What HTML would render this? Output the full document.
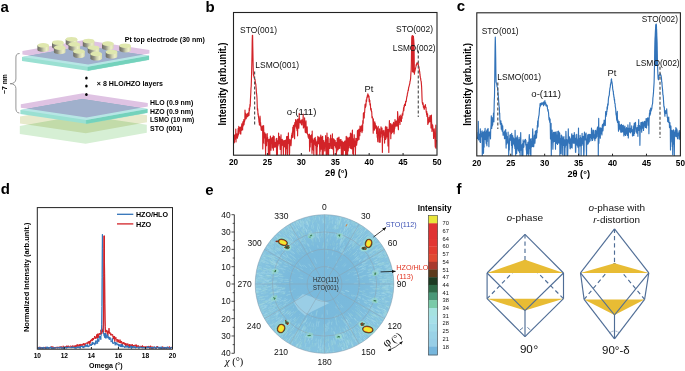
<!DOCTYPE html>
<html><head><meta charset="utf-8"><style>
html,body{margin:0;padding:0;background:#fff;}
svg{display:block;font-family:"Liberation Sans",sans-serif;}
</style></head><body>
<svg width="685" height="371" viewBox="0 0 685 371">
<rect width="685" height="371" fill="#fff"/>
<text x="0.6" y="11.7" font-size="15" font-weight="bold" text-anchor="start" fill="#000" >a</text>
<text x="205.4" y="11.6" font-size="15" font-weight="bold" text-anchor="start" fill="#000" >b</text>
<text x="456.8" y="11.3" font-size="15" font-weight="bold" text-anchor="start" fill="#000" >c</text>
<text x="0.8" y="194.2" font-size="15" font-weight="bold" text-anchor="start" fill="#000" >d</text>
<text x="205.3" y="194.6" font-size="15" font-weight="bold" text-anchor="start" fill="#000" >e</text>
<text x="456.6" y="194.4" font-size="15" font-weight="bold" text-anchor="start" fill="#000" >f</text>
<polygon points="19.80,126.00 81.80,115.00 146.80,124.80 146.80,132.70 85.60,143.70 19.80,133.90" fill="#d6efd4" style="mix-blend-mode:multiply"/>
<polygon points="20.00,116.50 82.00,105.50 147.00,115.30 147.00,122.30 85.80,133.30 20.00,123.50" fill="#e7eacc" style="mix-blend-mode:multiply"/>
<polygon points="20.40,110.10 82.40,99.10 147.40,108.90 147.40,112.80 86.20,123.80 20.40,114.00" fill="#9ae0d2"/>
<polygon points="86.20,119.90 147.40,108.90 147.40,112.80 86.20,123.80" fill="#74d2bc" stroke="#74d2bc" stroke-width="0.2"/>
<polygon points="20.40,110.10 82.40,99.10 147.40,108.90 86.20,119.90" fill="#b7e6e5"/>
<polygon points="20.80,104.20 82.80,93.20 147.80,103.00 147.80,106.50 86.60,117.50 20.80,107.70" fill="#dfc3e3" style="mix-blend-mode:multiply"/>
<polygon points="22.00,57.00 84.00,46.00 149.00,55.80 149.00,59.70 87.80,70.70 22.00,60.90" fill="#9ae0d2"/>
<polygon points="87.80,66.80 149.00,55.80 149.00,59.70 87.80,70.70" fill="#74d2bc" stroke="#74d2bc" stroke-width="0.2"/>
<polygon points="22.00,57.00 84.00,46.00 149.00,55.80 87.80,66.80" fill="#b7e6e5"/>
<polygon points="22.40,51.10 84.40,40.10 149.40,49.90 149.40,53.40 88.20,64.40 22.40,54.60" fill="#dfc3e3" style="mix-blend-mode:multiply"/>
<defs><linearGradient id="cg" x1="0" x2="1" y1="0" y2="0"><stop offset="0" stop-color="#6c6c62"/><stop offset="0.3" stop-color="#8f9084"/><stop offset="0.55" stop-color="#cdd0ae"/><stop offset="0.78" stop-color="#eceec6"/><stop offset="1" stop-color="#d8dcb0"/></linearGradient></defs>
<path d="M65.70,39.20 L65.70,43.60 A5.8,2.3 0 0 0 77.30,43.60 L77.30,39.20 Z" fill="url(#cg)"/>
<ellipse cx="71.5" cy="39.2" rx="5.8" ry="2.3" fill="#dfe7ae"/>
<path d="M82.80,41.00 L82.80,45.40 A5.8,2.3 0 0 0 94.40,45.40 L94.40,41.00 Z" fill="url(#cg)"/>
<ellipse cx="88.6" cy="41.0" rx="5.8" ry="2.3" fill="#dfe7ae"/>
<path d="M52.00,42.50 L52.00,46.90 A5.8,2.3 0 0 0 63.60,46.90 L63.60,42.50 Z" fill="url(#cg)"/>
<ellipse cx="57.8" cy="42.5" rx="5.8" ry="2.3" fill="#dfe7ae"/>
<path d="M102.00,43.60 L102.00,48.00 A5.8,2.3 0 0 0 113.60,48.00 L113.60,43.60 Z" fill="url(#cg)"/>
<ellipse cx="107.8" cy="43.6" rx="5.8" ry="2.3" fill="#dfe7ae"/>
<path d="M68.50,44.30 L68.50,48.70 A5.8,2.3 0 0 0 80.10,48.70 L80.10,44.30 Z" fill="url(#cg)"/>
<ellipse cx="74.3" cy="44.3" rx="5.8" ry="2.3" fill="#dfe7ae"/>
<path d="M37.40,45.30 L37.40,49.70 A5.8,2.3 0 0 0 49.00,49.70 L49.00,45.30 Z" fill="url(#cg)"/>
<ellipse cx="43.2" cy="45.3" rx="5.8" ry="2.3" fill="#dfe7ae"/>
<path d="M119.30,45.70 L119.30,50.10 A5.8,2.3 0 0 0 130.90,50.10 L130.90,45.70 Z" fill="url(#cg)"/>
<ellipse cx="125.1" cy="45.7" rx="5.8" ry="2.3" fill="#dfe7ae"/>
<path d="M53.90,47.60 L53.90,52.00 A5.8,2.3 0 0 0 65.50,52.00 L65.50,47.60 Z" fill="url(#cg)"/>
<ellipse cx="59.7" cy="47.6" rx="5.8" ry="2.3" fill="#dfe7ae"/>
<path d="M87.70,47.70 L87.70,52.10 A5.8,2.3 0 0 0 99.30,52.10 L99.30,47.70 Z" fill="url(#cg)"/>
<ellipse cx="93.5" cy="47.7" rx="5.8" ry="2.3" fill="#dfe7ae"/>
<path d="M73.20,51.40 L73.20,55.80 A5.8,2.3 0 0 0 84.80,55.80 L84.80,51.40 Z" fill="url(#cg)"/>
<ellipse cx="79.0" cy="51.4" rx="5.8" ry="2.3" fill="#dfe7ae"/>
<path d="M105.70,52.00 L105.70,56.40 A5.8,2.3 0 0 0 117.30,56.40 L117.30,52.00 Z" fill="url(#cg)"/>
<ellipse cx="111.5" cy="52.0" rx="5.8" ry="2.3" fill="#dfe7ae"/>
<path d="M90.40,53.90 L90.40,58.30 A5.8,2.3 0 0 0 102.00,58.30 L102.00,53.90 Z" fill="url(#cg)"/>
<ellipse cx="96.2" cy="53.9" rx="5.8" ry="2.3" fill="#dfe7ae"/>
<path d="M19.6,53.5 C16.6,53.5 15.9,55 15.9,58 L15.9,79 C15.9,82 13.6,83.7 10.1,83.7 C13.6,83.7 15.9,85.4 15.9,88.4 L15.9,108 C15.9,111 16.6,112.8 19.4,113" fill="none" stroke="#8a8a8a" stroke-width="0.9"/>
<text transform="translate(7.3,84) rotate(-90)" font-size="6.8" font-weight="bold" text-anchor="middle" textLength="19.8" lengthAdjust="spacingAndGlyphs">~7 nm</text>
<ellipse cx="86.4" cy="77.9" rx="1.3" ry="1.5" fill="#000"/>
<ellipse cx="86.4" cy="86.0" rx="1.3" ry="1.5" fill="#000"/>
<ellipse cx="86.4" cy="94.6" rx="1.3" ry="1.5" fill="#000"/>
<text x="124.8" y="41.8" font-size="7.0" font-weight="bold" text-anchor="start" fill="#000" textLength="80" lengthAdjust="spacingAndGlyphs" >Pt top electrode (30 nm)</text>
<text x="96.8" y="86.3" font-size="6.9" font-weight="bold" text-anchor="start" fill="#000" textLength="66.2" lengthAdjust="spacingAndGlyphs" >× 8 HLO/HZO layers</text>
<text x="150" y="105.3" font-size="6.5" font-weight="bold" text-anchor="start" fill="#000" textLength="43.3" lengthAdjust="spacingAndGlyphs" >HLO (0.9 nm)</text>
<text x="150" y="113.8" font-size="6.5" font-weight="bold" text-anchor="start" fill="#000" textLength="43.3" lengthAdjust="spacingAndGlyphs" >HZO (0.9 nm)</text>
<text x="150" y="122.0" font-size="6.5" font-weight="bold" text-anchor="start" fill="#000" textLength="44.3" lengthAdjust="spacingAndGlyphs" >LSMO (10 nm)</text>
<text x="150" y="130.8" font-size="6.5" font-weight="bold" text-anchor="start" fill="#000" textLength="32.4" lengthAdjust="spacingAndGlyphs" >STO (001)</text>
<polyline points="234.00,137.74 234.20,142.81 234.40,142.10 234.60,135.12 234.80,135.79 235.00,134.74 235.20,138.86 235.40,136.26 235.60,139.21 235.80,129.04 236.00,142.02 236.20,135.43 236.40,138.19 236.60,136.58 236.80,133.77 237.00,136.74 237.20,137.89 237.40,138.25 237.60,133.83 237.80,136.74 238.00,130.79 238.20,128.24 238.40,135.04 238.60,130.96 238.80,126.23 239.00,130.06 239.20,130.83 239.40,127.78 239.60,127.62 239.80,131.13 240.00,133.57 240.20,132.56 240.40,127.01 240.60,130.27 240.80,134.09 241.00,127.58 241.20,130.51 241.40,130.50 241.60,126.15 241.80,123.87 242.00,128.35 242.20,126.35 242.40,128.51 242.60,130.01 242.80,122.45 243.00,121.55 243.20,125.91 243.40,123.16 243.60,123.67 243.80,119.58 244.00,124.73 244.20,122.58 244.40,121.43 244.60,121.24 244.80,121.00 245.00,110.12 245.20,119.30 245.40,119.07 245.60,113.12 245.80,118.03 246.00,116.40 246.20,118.65 246.40,115.56 246.60,114.51 246.80,117.00 247.00,113.97 247.20,116.97 247.40,114.96 247.60,115.89 247.80,113.27 248.00,116.30 248.20,114.85 248.40,112.84 248.60,115.12 248.80,114.83 249.00,115.38 249.20,108.03 249.40,110.95 249.60,108.98 249.80,106.95 250.00,104.36 250.20,106.23 250.40,100.13 250.60,96.62 250.80,93.02 251.00,88.13 251.20,86.23 251.40,80.18 251.60,72.62 251.80,64.92 252.00,55.01 252.20,41.11 252.40,35.38 252.60,35.35 252.80,47.12 253.00,57.71 253.20,68.13 253.40,74.58 253.60,75.28 253.80,76.04 254.00,76.63 254.20,77.79 254.40,78.35 254.60,78.75 254.80,79.29 255.00,79.36 255.20,80.96 255.40,83.00 255.60,83.50 255.80,84.08 256.00,86.72 256.20,88.84 256.40,92.56 256.60,93.55 256.80,95.57 257.00,97.94 257.20,104.62 257.40,109.99 257.60,108.64 257.80,110.57 258.00,114.79 258.20,113.46 258.40,116.46 258.60,117.40 258.80,119.28 259.00,122.14 259.20,121.31 259.40,124.85 259.60,119.80 259.80,122.36 260.00,116.08 260.20,118.58 260.40,125.62 260.60,122.63 260.80,126.39 261.00,126.97 261.20,130.07 261.40,129.21 261.60,130.49 261.80,127.44 262.00,126.06 262.20,126.46 262.40,127.77 262.60,126.12 262.80,148.99 263.00,130.68 263.20,132.38 263.40,143.13 263.60,125.63 263.80,131.88 264.00,134.32 264.20,138.00 264.40,136.65 264.60,133.55 264.80,132.75 265.00,143.72 265.20,139.26 265.40,143.79 265.60,154.70 265.80,134.11 266.00,143.91 266.20,139.83 266.40,140.58 266.60,145.66 266.80,139.82 267.00,140.05 267.20,133.47 267.40,139.27 267.60,137.21 267.80,141.20 268.00,139.03 268.20,143.67 268.40,154.70 268.60,142.48 268.80,154.09 269.00,141.68 269.20,139.44 269.40,147.02 269.60,139.35 269.80,154.70 270.00,141.63 270.20,144.11 270.40,136.00 270.60,145.54 270.80,138.53 271.00,150.24 271.20,139.47 271.40,139.55 271.60,143.28 271.80,139.62 272.00,137.54 272.20,138.56 272.40,147.90 272.60,142.50 272.80,137.35 273.00,142.46 273.20,135.80 273.40,150.24 273.60,136.04 273.80,144.72 274.00,145.05 274.20,136.54 274.40,144.12 274.60,147.17 274.80,144.95 275.00,142.54 275.20,147.08 275.40,143.69 275.60,144.45 275.80,142.08 276.00,145.72 276.20,138.95 276.40,146.40 276.60,154.70 276.80,138.31 277.00,144.57 277.20,150.28 277.40,154.70 277.60,140.78 277.80,146.00 278.00,145.85 278.20,142.47 278.40,143.38 278.60,133.04 278.80,143.82 279.00,138.57 279.20,140.00 279.40,141.95 279.60,136.48 279.80,138.94 280.00,146.55 280.20,149.36 280.40,143.86 280.60,147.69 280.80,147.37 281.00,134.78 281.20,154.70 281.40,144.92 281.60,141.16 281.80,144.30 282.00,145.46 282.20,139.29 282.40,144.15 282.60,142.05 282.80,142.09 283.00,140.42 283.20,147.25 283.40,154.70 283.60,141.21 283.80,146.01 284.00,147.05 284.20,146.07 284.40,140.51 284.60,141.33 284.80,146.18 285.00,146.89 285.20,146.34 285.40,140.09 285.60,154.70 285.80,153.54 286.00,143.99 286.20,141.25 286.40,148.80 286.60,136.67 286.80,144.08 287.00,147.37 287.20,136.58 287.40,154.70 287.60,152.89 287.80,136.36 288.00,143.81 288.20,139.25 288.40,132.93 288.60,140.58 288.80,141.83 289.00,143.27 289.20,141.17 289.40,154.70 289.60,152.64 289.80,139.24 290.00,144.88 290.20,140.13 290.40,140.24 290.60,140.74 290.80,143.46 291.00,145.78 291.20,143.12 291.40,137.94 291.60,135.07 291.80,136.98 292.00,133.38 292.20,137.69 292.40,131.77 292.60,134.69 292.80,127.34 293.00,137.15 293.20,133.96 293.40,125.64 293.60,129.71 293.80,131.75 294.00,129.71 294.20,124.81 294.40,129.20 294.60,138.78 294.80,122.64 295.00,127.04 295.20,124.69 295.40,125.86 295.60,119.50 295.80,121.15 296.00,125.55 296.20,123.73 296.40,128.20 296.60,121.11 296.80,123.25 297.00,130.56 297.20,119.92 297.40,119.20 297.60,135.86 297.80,121.28 298.00,123.62 298.20,121.61 298.40,119.14 298.60,121.69 298.80,128.17 299.00,124.41 299.20,113.44 299.40,120.46 299.60,118.43 299.80,121.63 300.00,120.18 300.20,122.83 300.40,122.97 300.60,122.99 300.80,122.55 301.00,120.74 301.20,121.88 301.40,124.57 301.60,122.64 301.80,119.88 302.00,124.90 302.20,122.06 302.40,121.44 302.60,119.59 302.80,120.32 303.00,122.12 303.20,114.16 303.40,128.03 303.60,124.82 303.80,121.10 304.00,127.06 304.20,125.69 304.40,125.91 304.60,117.74 304.80,124.89 305.00,127.64 305.20,131.40 305.40,132.57 305.60,131.72 305.80,123.88 306.00,120.90 306.20,130.43 306.40,129.21 306.60,132.91 306.80,129.81 307.00,131.56 307.20,126.90 307.40,133.50 307.60,134.27 307.80,134.31 308.00,135.28 308.20,137.19 308.40,135.91 308.60,135.12 308.80,138.40 309.00,137.78 309.20,134.09 309.40,134.26 309.60,151.14 309.80,136.83 310.00,141.50 310.20,146.91 310.40,138.43 310.60,135.57 310.80,139.43 311.00,140.34 311.20,142.16 311.40,134.72 311.60,137.83 311.80,140.26 312.00,153.36 312.20,131.08 312.40,149.42 312.60,138.90 312.80,143.08 313.00,140.10 313.20,145.32 313.40,150.49 313.60,143.01 313.80,154.70 314.00,143.22 314.20,138.48 314.40,144.07 314.60,140.92 314.80,138.39 315.00,141.77 315.20,137.28 315.40,145.30 315.60,141.94 315.80,139.91 316.00,148.51 316.20,154.57 316.40,154.70 316.60,145.05 316.80,142.03 317.00,154.70 317.20,141.42 317.40,146.76 317.60,143.23 317.80,136.44 318.00,142.71 318.20,136.85 318.40,143.71 318.60,137.89 318.80,137.69 319.00,143.70 319.20,142.91 319.40,143.65 319.60,146.59 319.80,154.70 320.00,137.13 320.20,151.34 320.40,140.56 320.60,141.41 320.80,135.16 321.00,137.34 321.20,149.15 321.40,145.69 321.60,140.35 321.80,142.40 322.00,137.08 322.20,154.70 322.40,147.65 322.60,136.25 322.80,141.76 323.00,145.56 323.20,154.70 323.40,149.47 323.60,141.71 323.80,140.51 324.00,145.64 324.20,142.15 324.40,142.80 324.60,148.37 324.80,151.01 325.00,144.89 325.20,142.93 325.40,146.23 325.60,135.66 325.80,143.71 326.00,139.24 326.20,154.70 326.40,146.92 326.60,144.44 326.80,154.70 327.00,133.04 327.20,146.93 327.40,150.88 327.60,149.84 327.80,154.10 328.00,147.01 328.20,137.25 328.40,154.70 328.60,154.70 328.80,144.92 329.00,143.68 329.20,147.35 329.40,146.57 329.60,144.38 329.80,148.52 330.00,138.66 330.20,148.26 330.40,145.47 330.60,135.03 330.80,143.52 331.00,139.79 331.20,145.33 331.40,138.91 331.60,148.46 331.80,140.76 332.00,145.47 332.20,141.37 332.40,133.84 332.60,149.04 332.80,144.83 333.00,142.20 333.20,138.51 333.40,148.87 333.60,154.70 333.80,142.47 334.00,144.91 334.20,139.43 334.40,144.14 334.60,140.29 334.80,145.36 335.00,145.11 335.20,140.62 335.40,146.99 335.60,147.19 335.80,144.55 336.00,148.27 336.20,142.56 336.40,154.70 336.60,145.81 336.80,151.74 337.00,147.18 337.20,138.37 337.40,149.88 337.60,140.39 337.80,149.90 338.00,137.81 338.20,146.31 338.40,149.20 338.60,148.32 338.80,147.29 339.00,137.00 339.20,140.33 339.40,142.20 339.60,139.66 339.80,148.50 340.00,144.46 340.20,143.55 340.40,145.75 340.60,139.55 340.80,139.73 341.00,139.63 341.20,145.77 341.40,154.49 341.60,146.10 341.80,148.24 342.00,154.70 342.20,141.18 342.40,144.22 342.60,145.49 342.80,154.70 343.00,142.38 343.20,154.70 343.40,148.18 343.60,143.73 343.80,142.63 344.00,148.18 344.20,141.92 344.40,146.31 344.60,150.39 344.80,141.93 345.00,140.87 345.20,143.40 345.40,144.14 345.60,154.70 345.80,143.92 346.00,145.58 346.20,136.25 346.40,154.70 346.60,143.70 346.80,138.94 347.00,137.11 347.20,138.27 347.40,142.94 347.60,154.70 347.80,138.23 348.00,143.57 348.20,150.97 348.40,141.80 348.60,147.86 348.80,143.55 349.00,137.43 349.20,141.08 349.40,143.40 349.60,145.36 349.80,137.04 350.00,147.62 350.20,144.36 350.40,133.15 350.60,146.02 350.80,148.33 351.00,138.25 351.20,145.77 351.40,133.84 351.60,148.86 351.80,134.31 352.00,143.36 352.20,133.66 352.40,130.03 352.60,142.80 352.80,153.68 353.00,138.48 353.20,144.29 353.40,154.70 353.60,139.05 353.80,142.76 354.00,146.81 354.20,134.70 354.40,141.92 354.60,140.82 354.80,146.38 355.00,145.57 355.20,146.71 355.40,154.70 355.60,146.11 355.80,138.43 356.00,139.35 356.20,143.78 356.40,138.50 356.60,145.11 356.80,143.17 357.00,142.05 357.20,140.29 357.40,131.16 357.60,130.31 357.80,140.54 358.00,132.44 358.20,136.06 358.40,130.26 358.60,133.82 358.80,129.28 359.00,139.45 359.20,129.32 359.40,132.06 359.60,130.73 359.80,135.72 360.00,126.09 360.20,130.39 360.40,129.29 360.60,131.69 360.80,130.49 361.00,126.78 361.20,128.48 361.40,125.96 361.60,128.03 361.80,125.68 362.00,132.59 362.20,124.77 362.40,125.36 362.60,130.81 362.80,120.70 363.00,121.60 363.20,123.26 363.40,113.05 363.60,113.65 363.80,112.91 364.00,114.09 364.20,117.94 364.40,112.57 364.60,112.81 364.80,109.23 365.00,104.83 365.20,104.10 365.40,107.57 365.60,105.31 365.80,106.52 366.00,104.67 366.20,99.89 366.40,101.84 366.60,101.17 366.80,98.00 367.00,96.87 367.20,98.03 367.40,95.35 367.60,96.40 367.80,93.73 368.00,94.69 368.20,94.88 368.40,95.20 368.60,95.54 368.80,97.43 369.00,96.07 369.20,101.75 369.40,99.17 369.60,101.35 369.80,100.30 370.00,105.04 370.20,103.74 370.40,103.82 370.60,108.38 370.80,110.02 371.00,108.57 371.20,108.56 371.40,111.25 371.60,111.07 371.80,112.77 372.00,117.80 372.20,116.66 372.40,116.78 372.60,118.29 372.80,118.32 373.00,121.64 373.20,133.29 373.40,119.15 373.60,122.54 373.80,129.56 374.00,124.43 374.20,123.18 374.40,130.23 374.60,129.45 374.80,121.88 375.00,127.91 375.20,123.39 375.40,125.10 375.60,128.18 375.80,127.23 376.00,125.66 376.20,126.81 376.40,126.14 376.60,133.51 376.80,127.37 377.00,128.06 377.20,137.13 377.40,128.51 377.60,138.71 377.80,141.71 378.00,130.47 378.20,126.27 378.40,132.98 378.60,133.96 378.80,135.21 379.00,132.25 379.20,142.15 379.40,137.36 379.60,128.82 379.80,137.94 380.00,133.63 380.20,142.28 380.40,131.93 380.60,137.18 380.80,136.73 381.00,126.71 381.20,133.54 381.40,132.77 381.60,132.68 381.80,131.49 382.00,128.10 382.20,136.58 382.40,152.38 382.60,132.17 382.80,131.36 383.00,130.94 383.20,131.71 383.40,135.09 383.60,131.25 383.80,130.29 384.00,132.08 384.20,137.39 384.40,134.34 384.60,143.06 384.80,132.75 385.00,133.05 385.20,134.68 385.40,126.99 385.60,139.54 385.80,126.40 386.00,131.33 386.20,138.14 386.40,133.97 386.60,133.19 386.80,130.82 387.00,127.19 387.20,133.34 387.40,136.84 387.60,129.23 387.80,137.17 388.00,145.96 388.20,129.48 388.40,132.00 388.60,131.84 388.80,152.43 389.00,129.00 389.20,127.87 389.40,120.59 389.60,127.05 389.80,127.39 390.00,126.06 390.20,131.86 390.40,128.32 390.60,123.61 390.80,138.64 391.00,128.17 391.20,133.34 391.40,133.76 391.60,133.29 391.80,125.38 392.00,124.13 392.20,125.51 392.40,132.30 392.60,127.39 392.80,125.58 393.00,130.85 393.20,131.67 393.40,123.16 393.60,122.42 393.80,123.00 394.00,133.85 394.20,132.51 394.40,129.57 394.60,125.99 394.80,128.24 395.00,119.53 395.20,126.56 395.40,121.38 395.60,121.15 395.80,122.75 396.00,123.53 396.20,126.04 396.40,126.05 396.60,123.06 396.80,120.71 397.00,125.07 397.20,122.51 397.40,125.89 397.60,111.57 397.80,114.34 398.00,120.40 398.20,127.29 398.40,129.75 398.60,120.29 398.80,122.78 399.00,121.38 399.20,118.36 399.40,116.46 399.60,119.12 399.80,119.06 400.00,124.48 400.20,115.06 400.40,117.76 400.60,120.49 400.80,118.20 401.00,117.45 401.20,117.08 401.40,121.42 401.60,115.75 401.80,117.09 402.00,118.52 402.20,113.82 402.40,113.65 402.60,114.55 402.80,115.09 403.00,111.90 403.20,111.37 403.40,110.30 403.60,107.62 403.80,110.67 404.00,107.99 404.20,105.34 404.40,106.97 404.60,104.23 404.80,104.64 405.00,105.42 405.20,103.61 405.40,105.35 405.60,101.21 405.80,102.32 406.00,101.64 406.20,101.61 406.40,99.99 406.60,98.25 406.80,97.09 407.00,95.95 407.20,96.03 407.40,93.44 407.60,93.43 407.80,91.93 408.00,91.19 408.20,89.82 408.40,90.42 408.60,87.60 408.80,87.31 409.00,86.47 409.20,85.80 409.40,84.86 409.60,84.01 409.80,83.44 410.00,81.36 410.20,81.27 410.40,79.81 410.60,78.62 410.80,74.91 411.00,72.03 411.20,69.48 411.40,61.20 411.60,45.79 411.80,37.32 412.00,36.21 412.20,35.63 412.40,35.66 412.60,38.04 412.80,40.62 413.00,41.25 413.20,38.95 413.40,36.22 413.60,38.87 413.80,40.79 414.00,44.43 414.20,60.12 414.40,74.22 414.60,72.30 414.80,71.27 415.00,70.83 415.20,69.32 415.40,69.24 415.60,67.95 415.80,67.17 416.00,66.19 416.20,64.48 416.40,65.31 416.60,63.78 416.80,64.37 417.00,62.77 417.20,63.39 417.40,62.78 417.60,63.83 417.80,63.78 418.00,63.32 418.20,64.15 418.40,65.04 418.60,66.41 418.80,66.45 419.00,67.22 419.20,68.94 419.40,70.36 419.60,71.39 419.80,72.70 420.00,74.93 420.20,76.39 420.40,77.68 420.60,78.14 420.80,79.85 421.00,80.91 421.20,81.49 421.40,83.85 421.60,86.49 421.80,90.93 422.00,97.50 422.20,101.89 422.40,102.85 422.60,104.11 422.80,104.38 423.00,102.70 423.20,104.63 423.40,107.30 423.60,105.73 423.80,107.66 424.00,108.36 424.20,109.37 424.40,108.71 424.60,107.71 424.80,105.80 425.00,106.82 425.20,105.86 425.40,104.53 425.60,107.09 425.80,107.58 426.00,107.38 426.20,112.18 426.40,111.20 426.60,114.47 426.80,111.48 427.00,116.40 427.20,115.70 427.40,116.22 427.60,113.92 427.80,124.54 428.00,119.05 428.20,120.41 428.40,123.06 428.60,120.17 428.80,122.23 429.00,117.21 429.20,121.02 429.40,119.06 429.60,121.09 429.80,121.78 430.00,115.55 430.20,118.07 430.40,115.85 430.60,119.84 430.80,120.28 431.00,127.87 431.20,117.90 431.40,115.13 431.60,122.09 431.80,124.18 432.00,131.47 432.20,128.56 432.40,127.67 432.60,124.75 432.80,126.14 433.00,129.94 433.20,130.11 433.40,130.03 433.60,138.48 433.80,130.19 434.00,131.93 434.20,128.74 434.40,131.74 434.60,135.73 434.80,136.45 435.00,139.74 435.20,146.29 435.40,147.26 435.60,133.46 435.80,125.15 436.00,148.32 436.20,142.95 436.40,139.92" fill="none" stroke="#d22328" stroke-width="1.15" stroke-linejoin="round"/>
<polygon points="411.70,72.00 411.85,37.00 412.60,35.30 413.60,36.00 414.00,38.00 414.20,73.00" fill="#d22328"/>
<line x1="254.6" y1="71.5" x2="254.6" y2="126" stroke="#555" stroke-width="1.2" stroke-dasharray="3,2"/>
<line x1="418.3" y1="50.5" x2="418.3" y2="117" stroke="#555" stroke-width="1.2" stroke-dasharray="3,2"/>
<rect x="233.5" y="12.5" width="203.5" height="142.7" fill="none" stroke="#222" stroke-width="1.1"/>
<text x="233.50" y="165.2" font-size="8.2" font-weight="bold" text-anchor="middle" fill="#000" >20</text>
<line x1="267.42" y1="155.2" x2="267.42" y2="153.0" stroke="#222" stroke-width="1"/>
<text x="267.42" y="165.2" font-size="8.2" font-weight="bold" text-anchor="middle" fill="#000" >25</text>
<line x1="301.33" y1="155.2" x2="301.33" y2="153.0" stroke="#222" stroke-width="1"/>
<text x="301.33" y="165.2" font-size="8.2" font-weight="bold" text-anchor="middle" fill="#000" >30</text>
<line x1="335.25" y1="155.2" x2="335.25" y2="153.0" stroke="#222" stroke-width="1"/>
<text x="335.25" y="165.2" font-size="8.2" font-weight="bold" text-anchor="middle" fill="#000" >35</text>
<line x1="369.17" y1="155.2" x2="369.17" y2="153.0" stroke="#222" stroke-width="1"/>
<text x="369.17" y="165.2" font-size="8.2" font-weight="bold" text-anchor="middle" fill="#000" >40</text>
<line x1="403.08" y1="155.2" x2="403.08" y2="153.0" stroke="#222" stroke-width="1"/>
<text x="403.08" y="165.2" font-size="8.2" font-weight="bold" text-anchor="middle" fill="#000" >45</text>
<text x="437.00" y="165.2" font-size="8.2" font-weight="bold" text-anchor="middle" fill="#000" >50</text>
<text x="240.0" y="32.8" font-size="8.4" font-weight="normal" text-anchor="start" fill="#111" textLength="37" lengthAdjust="spacingAndGlyphs" >STO(001)</text>
<text x="255.3" y="67.9" font-size="8.4" font-weight="normal" text-anchor="start" fill="#111" textLength="43.7" lengthAdjust="spacingAndGlyphs" >LSMO(001)</text>
<text x="286.8" y="115.4" font-size="9.0" font-weight="normal" text-anchor="start" fill="#111" textLength="29.6" lengthAdjust="spacingAndGlyphs" >o-(111)</text>
<text x="364.6" y="92.3" font-size="9.3" font-weight="normal" text-anchor="start" fill="#111" >Pt</text>
<text x="396.0" y="32.3" font-size="8.4" font-weight="normal" text-anchor="start" fill="#111" textLength="37" lengthAdjust="spacingAndGlyphs" >STO(002)</text>
<text x="392.8" y="50.9" font-size="8.4" font-weight="normal" text-anchor="start" fill="#111" textLength="42.8" lengthAdjust="spacingAndGlyphs" >LSMO(002)</text>
<text transform="translate(225.6,84.0) rotate(-90)" font-size="10.4" font-weight="bold" text-anchor="middle" textLength="83" lengthAdjust="spacingAndGlyphs">Intensity (arb.unit.)</text>
<text x="325" y="176.4" font-size="9.9" font-weight="bold" text-anchor="start" fill="#000" textLength="22.6" lengthAdjust="spacingAndGlyphs" >2θ (°)</text>
<polyline points="477.30,139.00 477.50,137.63 477.70,136.49 477.90,132.28 478.10,138.27 478.30,121.30 478.50,140.00 478.70,138.75 478.90,139.55 479.10,139.48 479.30,137.37 479.50,134.09 479.70,134.91 479.90,141.83 480.10,133.76 480.30,128.73 480.50,142.47 480.70,131.25 480.90,135.74 481.10,136.99 481.30,134.87 481.50,134.64 481.70,133.63 481.90,136.34 482.10,130.84 482.30,155.40 482.50,149.29 482.70,133.05 482.90,135.83 483.10,146.82 483.30,132.19 483.50,153.34 483.70,143.78 483.90,142.94 484.10,147.15 484.30,131.26 484.50,138.06 484.70,135.84 484.90,131.79 485.10,128.29 485.30,139.59 485.50,132.34 485.70,136.71 485.90,135.84 486.10,142.58 486.30,143.94 486.50,130.99 486.70,134.33 486.90,145.84 487.10,129.85 487.30,141.46 487.50,135.98 487.70,128.98 487.90,130.37 488.10,128.45 488.30,135.59 488.50,132.12 488.70,137.30 488.90,146.72 489.10,135.32 489.30,132.62 489.50,135.29 489.70,131.91 489.90,134.84 490.10,135.79 490.30,134.73 490.50,138.84 490.70,129.85 490.90,127.72 491.10,124.22 491.30,115.77 491.50,123.47 491.70,128.53 491.90,123.59 492.10,117.55 492.30,126.04 492.50,121.40 492.70,124.75 492.90,119.60 493.10,119.24 493.30,119.04 493.50,113.08 493.70,112.91 493.90,121.86 494.10,108.57 494.30,99.82 494.50,96.47 494.70,81.80 494.90,61.31 495.10,45.18 495.30,37.00 495.50,45.71 495.70,57.25 495.90,73.87 496.10,82.15 496.30,82.64 496.50,83.49 496.70,83.91 496.90,85.26 497.10,86.69 497.30,87.03 497.50,87.50 497.70,90.21 497.90,90.97 498.10,93.77 498.30,96.03 498.50,98.18 498.70,102.03 498.90,103.33 499.10,106.71 499.30,107.06 499.50,114.09 499.70,112.98 499.90,119.96 500.10,121.64 500.30,124.14 500.50,122.22 500.70,122.98 500.90,120.84 501.10,125.07 501.30,129.18 501.50,128.21 501.70,123.52 501.90,124.71 502.10,131.10 502.30,126.57 502.50,131.30 502.70,125.92 502.90,131.64 503.10,135.33 503.30,133.64 503.50,132.23 503.70,132.50 503.90,132.31 504.10,133.15 504.30,131.74 504.50,138.76 504.70,136.61 504.90,130.89 505.10,134.10 505.30,137.45 505.50,138.58 505.70,129.46 505.90,139.50 506.10,148.09 506.30,132.47 506.50,137.75 506.70,144.13 506.90,142.06 507.10,136.47 507.30,138.98 507.50,140.79 507.70,137.04 507.90,142.88 508.10,131.97 508.30,141.98 508.50,141.02 508.70,155.40 508.90,149.03 509.10,144.68 509.30,149.87 509.50,138.57 509.70,140.53 509.90,135.05 510.10,136.28 510.30,140.07 510.50,134.56 510.70,137.62 510.90,136.59 511.10,139.23 511.30,141.89 511.50,145.47 511.70,133.24 511.90,140.72 512.10,155.40 512.30,145.92 512.50,147.77 512.70,135.66 512.90,139.67 513.10,144.35 513.30,137.64 513.50,143.26 513.70,143.25 513.90,143.21 514.10,138.93 514.30,142.98 514.50,145.84 514.70,140.95 514.90,148.54 515.10,130.31 515.30,141.19 515.50,149.96 515.70,155.40 515.90,148.98 516.10,143.46 516.30,137.81 516.50,140.76 516.70,153.38 516.90,137.83 517.10,139.03 517.30,135.82 517.50,140.96 517.70,139.67 517.90,149.08 518.10,139.89 518.30,150.86 518.50,146.34 518.70,145.36 518.90,139.41 519.10,137.29 519.30,144.32 519.50,152.38 519.70,143.22 519.90,139.56 520.10,155.40 520.30,141.76 520.50,142.89 520.70,132.60 520.90,143.68 521.10,150.29 521.30,149.17 521.50,148.10 521.70,144.75 521.90,155.40 522.10,148.16 522.30,155.40 522.50,144.99 522.70,143.36 522.90,155.40 523.10,139.74 523.30,146.64 523.50,147.37 523.70,147.27 523.90,146.71 524.10,141.64 524.30,141.19 524.50,141.82 524.70,141.96 524.90,139.80 525.10,141.62 525.30,140.78 525.50,139.42 525.70,145.05 525.90,140.21 526.10,144.52 526.30,149.76 526.50,150.67 526.70,155.40 526.90,145.35 527.10,144.44 527.30,153.64 527.50,150.41 527.70,148.12 527.90,142.62 528.10,142.19 528.30,153.93 528.50,143.09 528.70,155.40 528.90,146.19 529.10,137.79 529.30,134.52 529.50,138.74 529.70,148.57 529.90,147.51 530.10,139.23 530.30,153.66 530.50,143.53 530.70,155.40 530.90,155.40 531.10,138.50 531.30,143.44 531.50,147.23 531.70,145.39 531.90,141.24 532.10,144.10 532.30,146.49 532.50,136.03 532.70,128.88 532.90,135.29 533.10,144.88 533.30,146.79 533.50,139.09 533.70,146.66 533.90,144.29 534.10,139.47 534.30,136.15 534.50,135.03 534.70,138.42 534.90,143.12 535.10,140.27 535.30,131.33 535.50,136.87 535.70,138.38 535.90,135.47 536.10,130.65 536.30,136.10 536.50,138.01 536.70,134.25 536.90,130.21 537.10,132.61 537.30,125.43 537.50,125.59 537.70,120.77 537.90,127.09 538.10,125.87 538.30,118.54 538.50,118.47 538.70,116.47 538.90,115.81 539.10,114.53 539.30,111.82 539.50,108.89 539.70,107.67 539.90,106.38 540.10,103.58 540.30,106.50 540.50,104.90 540.70,105.47 540.90,104.69 541.10,103.13 541.30,103.65 541.50,104.67 541.70,104.20 541.90,102.72 542.10,102.73 542.30,104.24 542.50,103.67 542.70,103.60 542.90,102.86 543.10,103.81 543.30,102.87 543.50,105.65 543.70,102.02 543.90,101.86 544.10,104.85 544.30,102.87 544.50,102.13 544.70,103.74 544.90,100.47 545.10,104.01 545.30,103.61 545.50,104.04 545.70,102.82 545.90,105.62 546.10,104.72 546.30,104.89 546.50,106.00 546.70,104.90 546.90,106.54 547.10,105.22 547.30,106.35 547.50,108.95 547.70,109.30 547.90,110.92 548.10,109.54 548.30,111.81 548.50,111.95 548.70,115.25 548.90,117.83 549.10,119.93 549.30,120.12 549.50,117.93 549.70,122.22 549.90,120.30 550.10,119.16 550.30,127.09 550.50,138.99 550.70,131.90 550.90,133.08 551.10,123.40 551.30,155.40 551.50,132.81 551.70,133.95 551.90,136.06 552.10,130.13 552.30,134.30 552.50,137.89 552.70,142.89 552.90,149.20 553.10,142.28 553.30,135.13 553.50,132.43 553.70,141.82 553.90,132.65 554.10,132.44 554.30,140.05 554.50,141.51 554.70,137.88 554.90,134.93 555.10,131.98 555.30,138.45 555.50,149.20 555.70,132.33 555.90,135.22 556.10,140.82 556.30,143.32 556.50,140.12 556.70,137.49 556.90,140.53 557.10,131.35 557.30,141.60 557.50,144.40 557.70,134.84 557.90,143.19 558.10,139.23 558.30,141.13 558.50,131.13 558.70,142.90 558.90,142.95 559.10,132.39 559.30,137.54 559.50,136.70 559.70,132.95 559.90,155.40 560.10,139.90 560.30,140.01 560.50,143.94 560.70,138.28 560.90,153.42 561.10,138.01 561.30,135.11 561.50,142.61 561.70,141.58 561.90,136.04 562.10,136.31 562.30,155.11 562.50,141.36 562.70,141.90 562.90,143.83 563.10,137.72 563.30,145.53 563.50,140.42 563.70,143.34 563.90,136.53 564.10,155.40 564.30,141.59 564.50,150.80 564.70,139.84 564.90,155.40 565.10,143.20 565.30,147.13 565.50,141.59 565.70,142.64 565.90,131.36 566.10,135.32 566.30,145.08 566.50,142.50 566.70,145.03 566.90,139.67 567.10,155.40 567.30,142.56 567.50,142.50 567.70,155.40 567.90,145.40 568.10,139.05 568.30,128.77 568.50,141.92 568.70,140.35 568.90,140.74 569.10,137.02 569.30,143.39 569.50,143.56 569.70,136.94 569.90,146.42 570.10,148.76 570.30,148.82 570.50,142.08 570.70,138.75 570.90,144.10 571.10,147.48 571.30,141.43 571.50,139.23 571.70,133.90 571.90,133.79 572.10,148.07 572.30,139.99 572.50,138.01 572.70,139.53 572.90,141.79 573.10,135.31 573.30,143.10 573.50,143.11 573.70,140.96 573.90,138.12 574.10,139.46 574.30,132.53 574.50,143.18 574.70,138.35 574.90,134.80 575.10,140.33 575.30,142.53 575.50,152.17 575.70,152.38 575.90,145.25 576.10,138.17 576.30,141.11 576.50,141.36 576.70,134.21 576.90,144.78 577.10,138.85 577.30,145.55 577.50,141.41 577.70,145.15 577.90,147.28 578.10,144.13 578.30,140.78 578.50,128.04 578.70,145.67 578.90,155.40 579.10,140.01 579.30,138.79 579.50,140.52 579.70,138.39 579.90,145.89 580.10,135.28 580.30,140.66 580.50,137.28 580.70,138.61 580.90,138.09 581.10,155.40 581.30,143.65 581.50,139.39 581.70,143.05 581.90,145.40 582.10,133.34 582.30,142.40 582.50,143.96 582.70,138.33 582.90,142.99 583.10,138.02 583.30,136.36 583.50,143.99 583.70,155.40 583.90,155.40 584.10,150.14 584.30,134.69 584.50,132.06 584.70,137.70 584.90,133.94 585.10,139.95 585.30,136.03 585.50,135.94 585.70,138.32 585.90,134.86 586.10,133.06 586.30,146.48 586.50,155.40 586.70,138.92 586.90,141.64 587.10,144.56 587.30,141.37 587.50,139.56 587.70,134.71 587.90,139.46 588.10,143.91 588.30,143.12 588.50,141.10 588.70,134.23 588.90,139.62 589.10,140.05 589.30,142.02 589.50,135.46 589.70,134.37 589.90,137.57 590.10,137.44 590.30,134.48 590.50,136.49 590.70,135.51 590.90,140.84 591.10,136.59 591.30,137.12 591.50,128.18 591.70,138.31 591.90,133.50 592.10,138.67 592.30,135.20 592.50,140.44 592.70,133.63 592.90,130.10 593.10,136.36 593.30,137.55 593.50,132.44 593.70,130.27 593.90,135.60 594.10,138.93 594.30,137.59 594.50,135.09 594.70,134.65 594.90,140.63 595.10,137.43 595.30,131.00 595.50,130.28 595.70,136.47 595.90,138.34 596.10,131.71 596.30,131.08 596.50,137.30 596.70,132.51 596.90,136.61 597.10,128.78 597.30,129.78 597.50,127.08 597.70,133.05 597.90,131.62 598.10,126.93 598.30,155.40 598.50,130.87 598.70,118.41 598.90,143.31 599.10,135.91 599.30,134.11 599.50,131.09 599.70,127.95 599.90,129.74 600.10,130.52 600.30,138.29 600.50,127.93 600.70,128.91 600.90,130.40 601.10,131.40 601.30,133.35 601.50,133.79 601.70,128.04 601.90,134.98 602.10,130.51 602.30,125.45 602.50,124.51 602.70,128.15 602.90,130.87 603.10,129.03 603.30,123.70 603.50,124.13 603.70,122.94 603.90,125.97 604.10,120.20 604.30,125.08 604.50,120.28 604.70,120.90 604.90,121.64 605.10,120.26 605.30,125.44 605.50,115.29 605.70,111.61 605.90,112.52 606.10,116.29 606.30,111.29 606.50,114.48 606.70,111.10 606.90,111.76 607.10,106.88 607.30,109.30 607.50,107.96 607.70,103.75 607.90,105.15 608.10,105.18 608.30,100.64 608.50,98.20 608.70,97.15 608.90,96.04 609.10,95.78 609.30,94.97 609.50,91.67 609.70,90.47 609.90,88.33 610.10,87.57 610.30,86.79 610.50,84.14 610.70,84.13 610.90,82.87 611.10,81.65 611.30,79.40 611.50,78.90 611.70,80.91 611.90,81.90 612.10,82.91 612.30,84.77 612.50,85.75 612.70,89.08 612.90,89.76 613.10,91.27 613.30,91.13 613.50,94.63 613.70,94.63 613.90,97.26 614.10,96.89 614.30,100.08 614.50,98.99 614.70,102.16 614.90,103.55 615.10,103.54 615.30,106.85 615.50,107.47 615.70,109.13 615.90,112.58 616.10,114.97 616.30,112.99 616.50,117.10 616.70,120.00 616.90,117.93 617.10,120.93 617.30,111.40 617.50,122.37 617.70,120.92 617.90,119.82 618.10,121.34 618.30,125.61 618.50,131.28 618.70,126.73 618.90,122.03 619.10,121.61 619.30,126.45 619.50,128.50 619.70,124.57 619.90,129.69 620.10,129.05 620.30,128.87 620.50,125.11 620.70,131.72 620.90,131.06 621.10,132.52 621.30,129.58 621.50,124.43 621.70,130.00 621.90,131.80 622.10,128.69 622.30,125.56 622.50,131.42 622.70,131.90 622.90,125.73 623.10,128.70 623.30,125.20 623.50,131.21 623.70,132.20 623.90,136.03 624.10,127.08 624.30,134.71 624.50,129.49 624.70,131.17 624.90,126.09 625.10,130.39 625.30,128.54 625.50,135.50 625.70,131.02 625.90,132.07 626.10,133.29 626.30,131.06 626.50,127.46 626.70,134.04 626.90,130.85 627.10,128.53 627.30,135.32 627.50,131.65 627.70,133.17 627.90,124.92 628.10,128.61 628.30,137.99 628.50,132.53 628.70,132.49 628.90,128.43 629.10,130.42 629.30,132.19 629.50,130.33 629.70,130.58 629.90,122.46 630.10,128.23 630.30,129.37 630.50,132.81 630.70,132.59 630.90,130.72 631.10,128.23 631.30,128.18 631.50,131.45 631.70,125.93 631.90,129.74 632.10,129.37 632.30,129.52 632.50,135.96 632.70,129.79 632.90,133.14 633.10,135.57 633.30,131.86 633.50,130.08 633.70,125.79 633.90,135.43 634.10,126.18 634.30,122.99 634.50,133.38 634.70,124.83 634.90,125.67 635.10,127.24 635.30,125.60 635.50,122.23 635.70,126.67 635.90,129.45 636.10,131.85 636.30,129.17 636.50,127.89 636.70,130.99 636.90,133.14 637.10,131.84 637.30,127.55 637.50,129.97 637.70,128.26 637.90,136.34 638.10,125.22 638.30,128.15 638.50,127.74 638.70,119.64 638.90,130.44 639.10,128.04 639.30,125.48 639.50,125.57 639.70,127.43 639.90,145.36 640.10,133.85 640.30,127.86 640.50,129.19 640.70,127.92 640.90,122.64 641.10,122.51 641.30,128.27 641.50,127.91 641.70,132.25 641.90,122.40 642.10,124.15 642.30,123.72 642.50,128.15 642.70,123.51 642.90,121.73 643.10,123.26 643.30,126.36 643.50,130.53 643.70,123.44 643.90,127.98 644.10,123.09 644.30,122.89 644.50,121.43 644.70,125.92 644.90,122.00 645.10,125.82 645.30,121.74 645.50,127.51 645.70,122.99 645.90,122.28 646.10,118.62 646.30,125.15 646.50,128.03 646.70,121.34 646.90,120.94 647.10,118.50 647.30,119.01 647.50,121.02 647.70,117.80 647.90,119.25 648.10,125.11 648.30,118.78 648.50,118.14 648.70,120.82 648.90,133.72 649.10,120.51 649.30,116.49 649.50,113.12 649.70,114.75 649.90,109.97 650.10,115.08 650.30,112.03 650.50,113.61 650.70,108.04 650.90,110.07 651.10,111.06 651.30,110.20 651.50,108.80 651.70,109.05 651.90,107.82 652.10,105.53 652.30,104.57 652.50,104.16 652.70,102.04 652.90,97.76 653.10,96.75 653.30,94.50 653.50,92.34 653.70,88.59 653.90,85.60 654.10,82.50 654.30,74.27 654.50,65.53 654.70,57.91 654.90,47.83 655.10,38.86 655.30,33.14 655.50,29.61 655.70,27.67 655.90,24.76 656.10,27.53 656.30,27.66 656.50,28.94 656.70,37.38 656.90,41.54 657.10,50.80 657.30,57.28 657.50,63.90 657.70,69.85 657.90,74.30 658.10,78.45 658.30,79.48 658.50,79.79 658.70,78.24 658.90,76.29 659.10,75.06 659.30,74.77 659.50,75.16 659.70,74.62 659.90,74.05 660.10,74.05 660.30,73.64 660.50,75.08 660.70,74.90 660.90,74.90 661.10,75.98 661.30,77.12 661.50,78.61 661.70,81.85 661.90,82.14 662.10,85.18 662.30,87.46 662.50,88.91 662.70,91.59 662.90,94.87 663.10,94.94 663.30,97.11 663.50,100.07 663.70,103.29 663.90,106.36 664.10,107.52 664.30,106.88 664.50,112.23 664.70,113.51 664.90,116.13 665.10,111.04 665.30,110.69 665.50,112.59 665.70,112.75 665.90,113.34 666.10,110.83 666.30,110.60 666.50,113.22 666.70,108.90 666.90,112.58 667.10,115.00 667.30,117.53 667.50,117.31 667.70,121.40 667.90,119.14 668.10,121.06 668.30,122.24 668.50,121.07 668.70,116.98 668.90,121.86 669.10,122.99 669.30,121.94 669.50,127.49 669.70,124.74 669.90,122.57 670.10,128.21 670.30,125.82 670.50,150.03 670.70,126.66 670.90,125.96 671.10,132.47 671.30,134.76 671.50,132.64 671.70,137.72 671.90,141.86 672.10,130.38 672.30,146.56 672.50,130.97 672.70,154.66 672.90,136.53 673.10,144.24 673.30,131.58 673.50,129.78 673.70,133.28 673.90,134.06 674.10,135.48 674.30,155.40 674.50,138.80 674.70,132.30 674.90,132.18 675.10,130.70 675.30,136.13 675.50,132.02 675.70,130.89 675.90,127.48 676.10,131.78 676.30,136.76 676.50,129.66 676.70,128.77 676.90,129.62 677.10,130.13 677.30,133.40 677.50,138.57 677.70,134.06 677.90,134.79 678.10,138.85 678.30,133.15 678.50,135.51 678.70,133.57 678.90,135.17 679.10,131.35 679.30,130.61 679.50,136.55 679.70,139.30 679.90,131.87" fill="none" stroke="#3273b9" stroke-width="1.15" stroke-linejoin="round"/>
<polygon points="655.50,24.00 656.40,23.20 657.00,25.00 657.30,40.00 657.60,58.00 657.70,66.00 654.20,66.00 654.30,58.00 654.80,40.00" fill="#3273b9"/>
<line x1="497.8" y1="82.5" x2="497.8" y2="129" stroke="#555" stroke-width="1.2" stroke-dasharray="3,2"/>
<line x1="660.0" y1="66.7" x2="660.0" y2="138" stroke="#555" stroke-width="1.2" stroke-dasharray="3,2"/>
<rect x="476.8" y="12.8" width="203.59999999999997" height="143.1" fill="none" stroke="#222" stroke-width="1.1"/>
<text x="476.80" y="165.9" font-size="8.2" font-weight="bold" text-anchor="middle" fill="#000" >20</text>
<line x1="510.73" y1="155.9" x2="510.73" y2="153.70000000000002" stroke="#222" stroke-width="1"/>
<text x="510.73" y="165.9" font-size="8.2" font-weight="bold" text-anchor="middle" fill="#000" >25</text>
<line x1="544.67" y1="155.9" x2="544.67" y2="153.70000000000002" stroke="#222" stroke-width="1"/>
<text x="544.67" y="165.9" font-size="8.2" font-weight="bold" text-anchor="middle" fill="#000" >30</text>
<line x1="578.60" y1="155.9" x2="578.60" y2="153.70000000000002" stroke="#222" stroke-width="1"/>
<text x="578.60" y="165.9" font-size="8.2" font-weight="bold" text-anchor="middle" fill="#000" >35</text>
<line x1="612.53" y1="155.9" x2="612.53" y2="153.70000000000002" stroke="#222" stroke-width="1"/>
<text x="612.53" y="165.9" font-size="8.2" font-weight="bold" text-anchor="middle" fill="#000" >40</text>
<line x1="646.47" y1="155.9" x2="646.47" y2="153.70000000000002" stroke="#222" stroke-width="1"/>
<text x="646.47" y="165.9" font-size="8.2" font-weight="bold" text-anchor="middle" fill="#000" >45</text>
<text x="680.40" y="165.9" font-size="8.2" font-weight="bold" text-anchor="middle" fill="#000" >50</text>
<text x="481.7" y="34.3" font-size="8.4" font-weight="normal" text-anchor="start" fill="#111" textLength="37" lengthAdjust="spacingAndGlyphs" >STO(001)</text>
<text x="497.3" y="79.9" font-size="8.4" font-weight="normal" text-anchor="start" fill="#111" textLength="43.7" lengthAdjust="spacingAndGlyphs" >LSMO(001)</text>
<text x="531.3" y="96.6" font-size="9.0" font-weight="normal" text-anchor="start" fill="#111" textLength="29.6" lengthAdjust="spacingAndGlyphs" >o-(111)</text>
<text x="607.6" y="76.3" font-size="9.3" font-weight="normal" text-anchor="start" fill="#111" >Pt</text>
<text x="641.7" y="21.7" font-size="8.4" font-weight="normal" text-anchor="start" fill="#111" textLength="36.3" lengthAdjust="spacingAndGlyphs" >STO(002)</text>
<text x="636.0" y="66.1" font-size="8.4" font-weight="normal" text-anchor="start" fill="#111" textLength="43.7" lengthAdjust="spacingAndGlyphs" >LSMO(002)</text>
<text transform="translate(470.6,84.3) rotate(-90)" font-size="10.4" font-weight="bold" text-anchor="middle" textLength="83" lengthAdjust="spacingAndGlyphs">Intensity (arb.unit.)</text>
<text x="567.4" y="176.6" font-size="9.9" font-weight="bold" text-anchor="start" fill="#000" textLength="22.6" lengthAdjust="spacingAndGlyphs" >2θ (°)</text>
<polyline points="37.80,347.93 38.00,347.59 38.20,347.41 38.40,348.22 38.60,347.32 38.80,347.58 39.00,347.31 39.20,347.57 39.40,347.11 39.60,348.19 39.80,346.79 40.00,347.08 40.20,348.01 40.40,347.36 40.60,347.47 40.80,348.59 41.00,347.38 41.20,347.99 41.40,347.81 41.60,347.99 41.80,347.90 42.00,347.64 42.20,347.62 42.40,348.48 42.60,347.81 42.80,348.36 43.00,348.32 43.20,347.84 43.40,347.22 43.60,347.33 43.80,347.97 44.00,348.02 44.20,348.08 44.40,347.57 44.60,347.15 44.80,347.63 45.00,347.28 45.20,347.47 45.40,346.85 45.60,348.67 45.80,348.74 46.00,347.72 46.20,347.28 46.40,347.83 46.60,347.39 46.80,348.22 47.00,348.26 47.20,347.98 47.40,347.16 47.60,347.23 47.80,347.97 48.00,347.49 48.20,347.92 48.40,347.57 48.60,348.16 48.80,347.60 49.00,347.96 49.20,347.59 49.40,347.91 49.60,347.99 49.80,347.49 50.00,347.73 50.20,347.53 50.40,347.76 50.60,347.21 50.80,347.97 51.00,347.12 51.20,346.82 51.40,347.66 51.60,346.59 51.80,346.43 52.00,347.27 52.20,348.22 52.40,348.36 52.60,347.59 52.80,346.54 53.00,347.18 53.20,347.07 53.40,347.61 53.60,347.87 53.80,347.26 54.00,348.05 54.20,347.56 54.40,347.17 54.60,347.42 54.80,347.16 55.00,347.67 55.20,347.10 55.40,347.20 55.60,348.31 55.80,347.97 56.00,347.80 56.20,347.04 56.40,347.23 56.60,347.23 56.80,347.29 57.00,347.03 57.20,346.85 57.40,347.66 57.60,348.22 57.80,346.98 58.00,347.46 58.20,347.31 58.40,347.42 58.60,347.93 58.80,348.14 59.00,346.78 59.20,346.70 59.40,346.78 59.60,347.17 59.80,347.13 60.00,347.50 60.20,347.22 60.40,347.48 60.60,347.55 60.80,347.12 61.00,346.29 61.20,348.27 61.40,346.88 61.60,346.83 61.80,347.87 62.00,347.01 62.20,347.12 62.40,347.43 62.60,347.44 62.80,347.94 63.00,346.18 63.20,345.81 63.40,346.23 63.60,347.27 63.80,346.94 64.00,346.88 64.20,347.54 64.40,347.22 64.60,346.76 64.80,347.29 65.00,348.04 65.20,347.75 65.40,346.87 65.60,347.20 65.80,347.16 66.00,346.20 66.20,346.92 66.40,347.37 66.60,346.98 66.80,345.68 67.00,347.57 67.20,345.86 67.40,346.05 67.60,346.97 67.80,347.06 68.00,346.02 68.20,346.69 68.40,347.13 68.60,345.73 68.80,346.69 69.00,346.58 69.20,346.74 69.40,346.92 69.60,346.65 69.80,346.93 70.00,346.39 70.20,346.04 70.40,346.01 70.60,345.92 70.80,345.72 71.00,346.15 71.20,346.96 71.40,345.98 71.60,347.56 71.80,346.97 72.00,346.34 72.20,347.53 72.40,345.56 72.60,347.09 72.80,347.37 73.00,346.89 73.20,346.87 73.40,346.38 73.60,346.44 73.80,345.67 74.00,346.40 74.20,346.16 74.40,346.88 74.60,345.91 74.80,346.70 75.00,347.43 75.20,345.30 75.40,346.81 75.60,346.80 75.80,346.64 76.00,345.61 76.20,347.01 76.40,346.24 76.60,345.57 76.80,344.66 77.00,346.08 77.20,345.82 77.40,346.41 77.60,344.45 77.80,345.85 78.00,345.77 78.20,345.59 78.40,346.29 78.60,345.63 78.80,346.46 79.00,344.50 79.20,345.61 79.40,345.58 79.60,344.60 79.80,346.25 80.00,344.34 80.20,344.21 80.40,345.82 80.60,344.71 80.80,345.24 81.00,344.48 81.20,345.05 81.40,345.70 81.60,344.51 81.80,345.10 82.00,344.75 82.20,344.09 82.40,343.85 82.60,344.24 82.80,345.77 83.00,344.07 83.20,344.79 83.40,343.65 83.60,344.59 83.80,343.24 84.00,343.90 84.20,344.25 84.40,343.95 84.60,345.56 84.80,343.58 85.00,343.89 85.20,344.83 85.40,343.50 85.60,343.50 85.80,343.39 86.00,343.72 86.20,342.85 86.40,342.76 86.60,343.30 86.80,343.35 87.00,343.62 87.20,343.66 87.40,342.48 87.60,343.45 87.80,344.16 88.00,342.53 88.20,341.62 88.40,342.83 88.60,341.64 88.80,341.90 89.00,343.25 89.20,341.84 89.40,342.16 89.60,341.26 89.80,344.65 90.00,340.87 90.20,340.84 90.40,342.45 90.60,340.24 90.80,341.40 91.00,340.92 91.20,340.05 91.40,339.38 91.60,340.53 91.80,339.82 92.00,339.95 92.20,341.14 92.40,338.28 92.60,339.12 92.80,339.70 93.00,338.45 93.20,338.92 93.40,340.10 93.60,338.03 93.80,339.03 94.00,338.17 94.20,337.57 94.40,337.40 94.60,336.01 94.80,338.03 95.00,338.34 95.20,338.92 95.40,338.62 95.60,336.68 95.80,336.83 96.00,338.45 96.20,337.91 96.40,337.49 96.60,334.52 96.80,337.82 97.00,335.82 97.20,338.43 97.40,336.29 97.60,333.84 97.80,337.35 98.00,333.81 98.20,337.88 98.40,334.98 98.60,336.43 98.80,334.74 99.00,334.87 99.20,333.22 99.40,333.81 99.60,333.79 99.80,334.61 100.00,333.06 100.20,334.65 100.40,334.27 100.60,334.10 100.80,332.28 101.00,329.77 101.20,332.89 101.40,329.98 101.60,333.96 101.80,333.25 102.00,331.57 102.20,331.34 102.40,331.02 102.60,329.76 102.80,332.04 103.00,329.49 103.20,327.91 103.40,324.18 103.60,304.11 103.80,276.32 104.00,248.13 104.20,235.75 104.40,248.61 104.60,273.63 104.80,303.89 105.00,320.02 105.20,326.67 105.40,332.22 105.60,329.58 105.80,330.17 106.00,331.79 106.20,331.61 106.40,331.79 106.60,331.71 106.80,330.07 107.00,331.17 107.20,333.91 107.40,334.23 107.60,331.34 107.80,335.96 108.00,334.61 108.20,333.39 108.40,332.70 108.60,330.91 108.80,332.69 109.00,328.17 109.20,332.93 109.40,332.18 109.60,332.12 109.80,333.85 110.00,332.53 110.20,333.19 110.40,333.87 110.60,335.25 110.80,335.14 111.00,333.60 111.20,334.94 111.40,334.51 111.60,334.69 111.80,335.04 112.00,335.59 112.20,334.97 112.40,334.81 112.60,334.23 112.80,335.64 113.00,337.30 113.20,337.64 113.40,335.98 113.60,339.18 113.80,337.96 114.00,335.97 114.20,338.03 114.40,338.64 114.60,336.28 114.80,341.61 115.00,338.37 115.20,339.03 115.40,339.23 115.60,337.61 115.80,337.05 116.00,337.68 116.20,338.48 116.40,339.00 116.60,339.84 116.80,339.70 117.00,341.75 117.20,340.60 117.40,339.45 117.60,340.42 117.80,339.49 118.00,342.29 118.20,341.31 118.40,341.92 118.60,339.81 118.80,341.36 119.00,341.52 119.20,342.61 119.40,341.97 119.60,342.61 119.80,342.27 120.00,339.60 120.20,343.06 120.40,342.28 120.60,343.01 120.80,340.96 121.00,343.28 121.20,343.27 121.40,342.20 121.60,341.08 121.80,342.52 122.00,343.36 122.20,345.26 122.40,346.30 122.60,343.18 122.80,343.17 123.00,342.23 123.20,342.95 123.40,343.67 123.60,342.41 123.80,342.12 124.00,344.23 124.20,342.97 124.40,342.82 124.60,344.54 124.80,343.50 125.00,344.06 125.20,343.15 125.40,343.27 125.60,345.95 125.80,344.48 126.00,343.27 126.20,344.02 126.40,345.29 126.60,344.92 126.80,345.43 127.00,344.40 127.20,345.71 127.40,343.83 127.60,344.17 127.80,343.60 128.00,344.11 128.20,344.21 128.40,344.34 128.60,344.64 128.80,346.52 129.00,344.74 129.20,345.76 129.40,346.96 129.60,344.15 129.80,345.33 130.00,346.52 130.20,345.19 130.40,345.14 130.60,345.35 130.80,344.49 131.00,346.33 131.20,344.97 131.40,346.30 131.60,345.34 131.80,345.26 132.00,346.06 132.20,344.06 132.40,347.02 132.60,346.83 132.80,346.18 133.00,346.49 133.20,345.18 133.40,346.35 133.60,345.11 133.80,346.31 134.00,345.52 134.20,345.55 134.40,346.03 134.60,345.66 134.80,345.93 135.00,344.82 135.20,344.68 135.40,346.45 135.60,345.94 135.80,345.54 136.00,345.94 136.20,345.08 136.40,344.68 136.60,347.61 136.80,346.73 137.00,345.58 137.20,346.10 137.40,346.89 137.60,346.62 137.80,346.41 138.00,345.49 138.20,347.11 138.40,346.42 138.60,345.66 138.80,345.94 139.00,346.68 139.20,346.79 139.40,347.72 139.60,347.69 139.80,347.20 140.00,346.19 140.20,346.22 140.40,345.95 140.60,346.19 140.80,346.30 141.00,346.67 141.20,347.26 141.40,346.08 141.60,347.04 141.80,347.90 142.00,346.58 142.20,346.81 142.40,345.45 142.60,347.04 142.80,346.70 143.00,347.59 143.20,346.53 143.40,346.79 143.60,347.42 143.80,346.83 144.00,347.72 144.20,346.66 144.40,347.27 144.60,346.81 144.80,347.55 145.00,347.48 145.20,347.15 145.40,346.59 145.60,347.00 145.80,348.44 146.00,346.72 146.20,347.17 146.40,346.76 146.60,346.48 146.80,346.67 147.00,347.56 147.20,347.36 147.40,346.88 147.60,346.61 147.80,347.62 148.00,347.55 148.20,347.76 148.40,346.98 148.60,347.62 148.80,345.93 149.00,346.77 149.20,346.58 149.40,346.91 149.60,347.59 149.80,348.68 150.00,346.47 150.20,347.11 150.40,348.33 150.60,345.73 150.80,346.89 151.00,346.43 151.20,347.45 151.40,348.30 151.60,347.76 151.80,346.90 152.00,348.50 152.20,347.64 152.40,346.73 152.60,346.78 152.80,347.33 153.00,348.77 153.20,347.52 153.40,346.69 153.60,346.92 153.80,347.61 154.00,347.20 154.20,347.10 154.40,347.63 154.60,347.82 154.80,347.81 155.00,347.89 155.20,347.48 155.40,347.46 155.60,347.13 155.80,347.14 156.00,347.53 156.20,348.61 156.40,347.17 156.60,347.95 156.80,346.55 157.00,347.64 157.20,346.29 157.40,347.15 157.60,346.60 157.80,347.39 158.00,347.23 158.20,347.73 158.40,347.76 158.60,347.77 158.80,347.12 159.00,348.12 159.20,346.99 159.40,347.67 159.60,347.20 159.80,348.06 160.00,347.51 160.20,348.45 160.40,347.89 160.60,347.66 160.80,348.10 161.00,347.69 161.20,347.51 161.40,347.51 161.60,348.66 161.80,347.75 162.00,347.70 162.20,348.04 162.40,348.10 162.60,346.59 162.80,347.16 163.00,347.09 163.20,346.99 163.40,348.10 163.60,347.75 163.80,348.54 164.00,347.53 164.20,348.63 164.40,348.01 164.60,347.25 164.80,347.35 165.00,348.15 165.20,348.11 165.40,346.97 165.60,347.42 165.80,347.91 166.00,347.58 166.20,347.59 166.40,348.22 166.60,347.95 166.80,348.76 167.00,347.54 167.20,347.63 167.40,347.14 167.60,347.14 167.80,347.91 168.00,346.85 168.20,348.06 168.40,347.20 168.60,347.96 168.80,348.01 169.00,348.33 169.20,347.73 169.40,346.53 169.60,347.62 169.80,347.46 170.00,347.88 170.20,347.45 170.40,347.39 170.60,347.46 170.80,347.00 171.00,347.73 171.20,347.50 171.40,346.92 171.60,347.40 171.80,348.11" fill="none" stroke="#d22328" stroke-width="1.0"/>
<polyline points="37.80,347.46 38.00,348.14 38.20,348.57 38.40,347.58 38.60,347.43 38.80,347.64 39.00,348.80 39.20,348.67 39.40,347.60 39.60,347.16 39.80,348.65 40.00,347.42 40.20,347.34 40.40,347.89 40.60,348.57 40.80,348.22 41.00,348.08 41.20,347.55 41.40,347.45 41.60,348.39 41.80,347.95 42.00,347.91 42.20,347.98 42.40,347.42 42.60,348.03 42.80,347.93 43.00,348.63 43.20,347.82 43.40,348.36 43.60,346.94 43.80,347.81 44.00,347.79 44.20,347.83 44.40,348.47 44.60,348.10 44.80,347.83 45.00,347.42 45.20,347.77 45.40,348.54 45.60,347.98 45.80,347.95 46.00,348.72 46.20,347.60 46.40,347.49 46.60,348.33 46.80,346.77 47.00,347.71 47.20,348.17 47.40,346.88 47.60,348.16 47.80,347.79 48.00,348.78 48.20,348.42 48.40,346.98 48.60,348.37 48.80,348.28 49.00,347.99 49.20,348.27 49.40,348.49 49.60,348.37 49.80,347.94 50.00,347.08 50.20,347.46 50.40,346.70 50.60,348.29 50.80,347.76 51.00,347.71 51.20,347.58 51.40,347.47 51.60,348.72 51.80,347.09 52.00,347.84 52.20,348.09 52.40,347.70 52.60,348.13 52.80,348.47 53.00,348.02 53.20,348.80 53.40,348.40 53.60,347.45 53.80,347.58 54.00,348.41 54.20,348.80 54.40,347.73 54.60,347.63 54.80,347.84 55.00,348.32 55.20,347.78 55.40,347.99 55.60,347.71 55.80,347.51 56.00,347.82 56.20,347.91 56.40,347.52 56.60,347.66 56.80,348.24 57.00,347.84 57.20,347.45 57.40,347.49 57.60,347.95 57.80,347.87 58.00,348.32 58.20,347.66 58.40,347.22 58.60,347.56 58.80,348.01 59.00,347.44 59.20,347.77 59.40,347.44 59.60,348.40 59.80,347.97 60.00,347.36 60.20,347.18 60.40,348.15 60.60,348.01 60.80,346.78 61.00,347.55 61.20,347.82 61.40,347.48 61.60,348.02 61.80,348.59 62.00,347.71 62.20,347.90 62.40,348.04 62.60,347.71 62.80,348.17 63.00,347.97 63.20,348.68 63.40,347.08 63.60,346.95 63.80,348.29 64.00,348.53 64.20,347.48 64.40,347.27 64.60,347.92 64.80,348.26 65.00,346.71 65.20,348.03 65.40,347.47 65.60,347.51 65.80,347.49 66.00,346.98 66.20,346.91 66.40,348.42 66.60,347.70 66.80,347.05 67.00,347.53 67.20,347.97 67.40,347.20 67.60,347.89 67.80,347.71 68.00,347.16 68.20,347.29 68.40,346.58 68.60,347.22 68.80,347.58 69.00,347.02 69.20,347.59 69.40,347.53 69.60,347.48 69.80,347.77 70.00,347.40 70.20,347.45 70.40,347.44 70.60,348.04 70.80,347.21 71.00,347.46 71.20,347.59 71.40,347.58 71.60,347.86 71.80,347.87 72.00,346.45 72.20,347.37 72.40,347.05 72.60,347.08 72.80,347.86 73.00,347.52 73.20,347.73 73.40,347.13 73.60,347.21 73.80,347.94 74.00,346.87 74.20,346.88 74.40,348.15 74.60,347.16 74.80,347.21 75.00,348.32 75.20,347.99 75.40,347.02 75.60,348.00 75.80,348.41 76.00,347.27 76.20,348.40 76.40,347.38 76.60,347.20 76.80,347.30 77.00,346.90 77.20,347.26 77.40,347.37 77.60,347.85 77.80,346.51 78.00,347.84 78.20,346.95 78.40,347.19 78.60,347.37 78.80,347.88 79.00,348.09 79.20,347.12 79.40,346.66 79.60,347.00 79.80,347.72 80.00,346.43 80.20,348.55 80.40,347.04 80.60,346.39 80.80,346.30 81.00,347.00 81.20,346.14 81.40,345.80 81.60,347.01 81.80,346.14 82.00,346.76 82.20,346.10 82.40,347.50 82.60,346.26 82.80,345.91 83.00,345.95 83.20,346.59 83.40,347.90 83.60,346.41 83.80,348.07 84.00,346.45 84.20,346.38 84.40,346.05 84.60,346.84 84.80,345.96 85.00,346.61 85.20,347.12 85.40,346.20 85.60,344.74 85.80,346.00 86.00,345.88 86.20,345.03 86.40,345.35 86.60,345.31 86.80,347.06 87.00,346.56 87.20,344.35 87.40,345.75 87.60,346.46 87.80,344.89 88.00,345.47 88.20,347.15 88.40,346.15 88.60,346.46 88.80,346.46 89.00,346.05 89.20,346.48 89.40,345.72 89.60,345.12 89.80,345.41 90.00,345.34 90.20,344.34 90.40,345.28 90.60,344.86 90.80,345.62 91.00,345.81 91.20,344.30 91.40,345.49 91.60,344.45 91.80,343.69 92.00,344.83 92.20,342.40 92.40,343.16 92.60,344.83 92.80,342.03 93.00,343.43 93.20,342.77 93.40,344.16 93.60,343.24 93.80,343.71 94.00,343.03 94.20,343.92 94.40,343.62 94.60,343.76 94.80,345.20 95.00,343.65 95.20,342.29 95.40,343.83 95.60,343.47 95.80,340.61 96.00,344.08 96.20,342.14 96.40,341.13 96.60,340.80 96.80,340.91 97.00,340.84 97.20,341.13 97.40,342.27 97.60,343.56 97.80,338.27 98.00,340.88 98.20,339.99 98.40,341.37 98.60,339.73 98.80,341.57 99.00,340.52 99.20,338.91 99.40,336.51 99.60,338.10 99.80,335.78 100.00,338.03 100.20,337.92 100.40,335.99 100.60,337.82 100.80,339.70 101.00,336.59 101.20,335.87 101.40,333.15 101.60,324.13 101.80,306.53 102.00,277.24 102.20,249.79 102.40,234.28 102.60,248.66 102.80,274.84 103.00,305.09 103.20,324.86 103.40,331.07 103.60,334.30 103.80,334.82 104.00,335.43 104.20,336.26 104.40,333.35 104.60,337.59 104.80,336.86 105.00,333.62 105.20,333.03 105.40,338.14 105.60,333.01 105.80,334.69 106.00,338.40 106.20,336.59 106.40,337.30 106.60,335.75 106.80,336.36 107.00,334.34 107.20,335.93 107.40,335.13 107.60,335.08 107.80,338.17 108.00,336.99 108.20,336.28 108.40,336.70 108.60,338.21 108.80,336.79 109.00,339.30 109.20,338.71 109.40,337.29 109.60,337.28 109.80,339.91 110.00,338.30 110.20,338.02 110.40,337.68 110.60,338.28 110.80,339.15 111.00,341.04 111.20,342.11 111.40,341.13 111.60,341.08 111.80,340.93 112.00,340.16 112.20,339.99 112.40,338.29 112.60,343.17 112.80,342.34 113.00,343.46 113.20,342.94 113.40,343.41 113.60,342.95 113.80,343.11 114.00,343.63 114.20,343.14 114.40,341.69 114.60,341.92 114.80,342.89 115.00,342.03 115.20,345.28 115.40,344.21 115.60,342.48 115.80,343.80 116.00,344.15 116.20,344.04 116.40,344.15 116.60,343.13 116.80,342.55 117.00,345.32 117.20,345.17 117.40,344.76 117.60,344.09 117.80,343.78 118.00,344.56 118.20,344.24 118.40,344.92 118.60,344.42 118.80,346.56 119.00,344.30 119.20,344.93 119.40,345.98 119.60,345.16 119.80,346.19 120.00,344.36 120.20,344.46 120.40,345.30 120.60,346.79 120.80,347.08 121.00,345.49 121.20,346.47 121.40,344.12 121.60,346.83 121.80,346.93 122.00,345.14 122.20,344.39 122.40,347.11 122.60,345.38 122.80,345.72 123.00,346.35 123.20,347.06 123.40,346.65 123.60,346.49 123.80,345.81 124.00,345.86 124.20,346.53 124.40,347.71 124.60,346.81 124.80,346.77 125.00,347.22 125.20,346.25 125.40,345.64 125.60,346.07 125.80,346.81 126.00,347.65 126.20,346.30 126.40,345.90 126.60,346.52 126.80,346.57 127.00,346.51 127.20,346.81 127.40,347.44 127.60,345.64 127.80,346.10 128.00,345.98 128.20,346.84 128.40,346.42 128.60,348.13 128.80,347.01 129.00,347.03 129.20,347.48 129.40,347.52 129.60,348.03 129.80,346.81 130.00,346.93 130.20,346.77 130.40,347.46 130.60,346.59 130.80,345.81 131.00,347.41 131.20,346.76 131.40,348.71 131.60,346.12 131.80,346.29 132.00,347.14 132.20,346.77 132.40,348.07 132.60,346.56 132.80,347.80 133.00,347.44 133.20,347.57 133.40,346.73 133.60,347.15 133.80,347.15 134.00,346.69 134.20,348.00 134.40,347.05 134.60,346.81 134.80,346.15 135.00,346.66 135.20,347.95 135.40,346.85 135.60,348.24 135.80,347.63 136.00,347.61 136.20,347.05 136.40,347.69 136.60,347.51 136.80,347.24 137.00,347.44 137.20,347.28 137.40,347.78 137.60,347.45 137.80,346.89 138.00,347.05 138.20,347.26 138.40,347.30 138.60,348.42 138.80,346.86 139.00,346.61 139.20,346.82 139.40,348.23 139.60,347.88 139.80,347.90 140.00,347.42 140.20,347.83 140.40,347.46 140.60,347.20 140.80,347.54 141.00,346.70 141.20,346.97 141.40,347.45 141.60,347.93 141.80,347.56 142.00,347.89 142.20,348.27 142.40,347.53 142.60,346.93 142.80,347.84 143.00,348.13 143.20,347.59 143.40,347.97 143.60,347.17 143.80,347.78 144.00,347.61 144.20,347.76 144.40,347.61 144.60,348.11 144.80,347.59 145.00,348.04 145.20,348.05 145.40,347.53 145.60,348.58 145.80,348.08 146.00,347.83 146.20,347.82 146.40,347.45 146.60,347.12 146.80,347.68 147.00,347.70 147.20,347.78 147.40,347.69 147.60,347.77 147.80,346.19 148.00,348.10 148.20,347.24 148.40,347.25 148.60,347.40 148.80,347.79 149.00,347.48 149.20,347.18 149.40,348.17 149.60,347.14 149.80,347.61 150.00,346.96 150.20,347.66 150.40,347.64 150.60,347.64 150.80,347.10 151.00,347.92 151.20,347.01 151.40,347.63 151.60,348.60 151.80,347.91 152.00,347.04 152.20,347.80 152.40,348.47 152.60,347.55 152.80,347.88 153.00,347.45 153.20,348.01 153.40,347.18 153.60,347.50 153.80,347.73 154.00,348.46 154.20,348.00 154.40,346.97 154.60,346.55 154.80,347.40 155.00,347.83 155.20,347.36 155.40,347.91 155.60,348.46 155.80,347.93 156.00,348.61 156.20,347.88 156.40,347.72 156.60,347.38 156.80,346.74 157.00,347.95 157.20,347.30 157.40,347.88 157.60,347.38 157.80,347.75 158.00,347.81 158.20,347.90 158.40,348.25 158.60,348.30 158.80,346.77 159.00,348.07 159.20,347.90 159.40,348.20 159.60,348.48 159.80,347.54 160.00,348.26 160.20,348.56 160.40,348.44 160.60,347.93 160.80,347.42 161.00,348.12 161.20,346.60 161.40,348.49 161.60,347.34 161.80,348.74 162.00,347.95 162.20,347.79 162.40,348.41 162.60,347.85 162.80,347.81 163.00,347.98 163.20,347.27 163.40,347.97 163.60,347.19 163.80,348.38 164.00,347.76 164.20,347.93 164.40,348.18 164.60,347.73 164.80,348.23 165.00,347.63 165.20,348.50 165.40,347.88 165.60,348.12 165.80,347.12 166.00,347.89 166.20,348.49 166.40,348.80 166.60,348.17 166.80,348.05 167.00,347.03 167.20,346.73 167.40,347.89 167.60,348.06 167.80,347.19 168.00,348.46 168.20,348.14 168.40,347.17 168.60,347.92 168.80,347.88 169.00,347.85 169.20,348.33 169.40,348.22 169.60,347.93 169.80,348.73 170.00,348.10 170.20,347.55 170.40,348.00 170.60,348.80 170.80,347.84 171.00,347.51 171.20,348.03 171.40,347.22 171.60,347.75 171.80,347.84" fill="none" stroke="#3273b9" stroke-width="1.0"/>
<polyline points="101.60,333.96 101.80,333.25 102.00,331.57 102.20,331.34 102.40,331.02 102.60,329.76 102.80,332.04 103.00,329.49 103.20,327.91 103.40,324.18 103.60,304.11 103.80,276.32 104.00,248.13 104.20,235.75 104.40,248.61 104.60,273.63 104.80,303.89 105.00,320.02 105.20,326.67 105.40,332.22 105.60,329.58 105.80,330.17 106.00,331.79 106.20,331.61 106.40,331.79" fill="none" stroke="#d22328" stroke-width="1.0"/>
<rect x="37.3" y="207.6" width="135.2" height="141.6" fill="none" stroke="#222" stroke-width="1.0"/>
<text x="37.30" y="358.2" font-size="6.6" font-weight="bold" text-anchor="middle" fill="#000" >10</text>
<line x1="64.34" y1="349.2" x2="64.34" y2="347.0" stroke="#222" stroke-width="1"/>
<text x="64.34" y="358.2" font-size="6.6" font-weight="bold" text-anchor="middle" fill="#000" >12</text>
<line x1="91.38" y1="349.2" x2="91.38" y2="347.0" stroke="#222" stroke-width="1"/>
<text x="91.38" y="358.2" font-size="6.6" font-weight="bold" text-anchor="middle" fill="#000" >14</text>
<line x1="118.42" y1="349.2" x2="118.42" y2="347.0" stroke="#222" stroke-width="1"/>
<text x="118.42" y="358.2" font-size="6.6" font-weight="bold" text-anchor="middle" fill="#000" >16</text>
<line x1="145.46" y1="349.2" x2="145.46" y2="347.0" stroke="#222" stroke-width="1"/>
<text x="145.46" y="358.2" font-size="6.6" font-weight="bold" text-anchor="middle" fill="#000" >18</text>
<text x="172.50" y="358.2" font-size="6.6" font-weight="bold" text-anchor="middle" fill="#000" >20</text>
<text x="89.1" y="368.0" font-size="7.8" font-weight="bold" text-anchor="start" fill="#000" textLength="33.4" lengthAdjust="spacingAndGlyphs" >Omega (°)</text>
<text transform="translate(29.4,277.3) rotate(-90)" font-size="7.4" font-weight="bold" text-anchor="middle" textLength="109.5" lengthAdjust="spacingAndGlyphs">Normalized Intensity (arb.unit.)</text>
<line x1="117" y1="214.3" x2="133.3" y2="214.3" stroke="#3273b9" stroke-width="1.3"/>
<line x1="117" y1="223.9" x2="133.3" y2="223.9" stroke="#d22328" stroke-width="1.3"/>
<text x="135.9" y="216.9" font-size="7.3" font-weight="bold" text-anchor="start" fill="#000" textLength="32.1" lengthAdjust="spacingAndGlyphs" >HZO/HLO</text>
<text x="135.9" y="226.7" font-size="7.3" font-weight="bold" text-anchor="start" fill="#000" >HZO</text>
<line x1="234.3" y1="214.70" x2="234.3" y2="353.30" stroke="#222" stroke-width="0.9"/>
<line x1="231.50" y1="214.70" x2="234.3" y2="214.70" stroke="#222" stroke-width="0.8"/>
<text x="230.6" y="217.70" font-size="8.4" font-weight="normal" text-anchor="end" fill="#111" >40</text>
<line x1="232.70" y1="223.36" x2="234.3" y2="223.36" stroke="#222" stroke-width="0.8"/>
<line x1="231.50" y1="232.03" x2="234.3" y2="232.03" stroke="#222" stroke-width="0.8"/>
<text x="230.6" y="235.03" font-size="8.4" font-weight="normal" text-anchor="end" fill="#111" >30</text>
<line x1="232.70" y1="240.69" x2="234.3" y2="240.69" stroke="#222" stroke-width="0.8"/>
<line x1="231.50" y1="249.35" x2="234.3" y2="249.35" stroke="#222" stroke-width="0.8"/>
<text x="230.6" y="252.35" font-size="8.4" font-weight="normal" text-anchor="end" fill="#111" >20</text>
<line x1="232.70" y1="258.01" x2="234.3" y2="258.01" stroke="#222" stroke-width="0.8"/>
<line x1="231.50" y1="266.68" x2="234.3" y2="266.68" stroke="#222" stroke-width="0.8"/>
<text x="230.6" y="269.68" font-size="8.4" font-weight="normal" text-anchor="end" fill="#111" >10</text>
<line x1="232.70" y1="275.34" x2="234.3" y2="275.34" stroke="#222" stroke-width="0.8"/>
<line x1="231.50" y1="284.00" x2="234.3" y2="284.00" stroke="#222" stroke-width="0.8"/>
<text x="230.6" y="287.00" font-size="8.4" font-weight="normal" text-anchor="end" fill="#111" >0</text>
<line x1="232.70" y1="292.66" x2="234.3" y2="292.66" stroke="#222" stroke-width="0.8"/>
<line x1="231.50" y1="301.32" x2="234.3" y2="301.32" stroke="#222" stroke-width="0.8"/>
<text x="230.6" y="304.32" font-size="8.4" font-weight="normal" text-anchor="end" fill="#111" >10</text>
<line x1="232.70" y1="309.99" x2="234.3" y2="309.99" stroke="#222" stroke-width="0.8"/>
<line x1="231.50" y1="318.65" x2="234.3" y2="318.65" stroke="#222" stroke-width="0.8"/>
<text x="230.6" y="321.65" font-size="8.4" font-weight="normal" text-anchor="end" fill="#111" >20</text>
<line x1="232.70" y1="327.31" x2="234.3" y2="327.31" stroke="#222" stroke-width="0.8"/>
<line x1="231.50" y1="335.98" x2="234.3" y2="335.98" stroke="#222" stroke-width="0.8"/>
<text x="230.6" y="338.98" font-size="8.4" font-weight="normal" text-anchor="end" fill="#111" >30</text>
<line x1="232.70" y1="344.64" x2="234.3" y2="344.64" stroke="#222" stroke-width="0.8"/>
<line x1="231.50" y1="353.30" x2="234.3" y2="353.30" stroke="#222" stroke-width="0.8"/>
<text x="230.6" y="356.30" font-size="8.4" font-weight="normal" text-anchor="end" fill="#111" >40</text>
<text x="225.0" y="365.0" font-family="Liberation Serif" font-size="10.4"><tspan font-style="italic">χ</tspan> (°)</text>
<defs><clipPath id="pc"><circle cx="324.5" cy="284.0" r="69.3"/></clipPath><radialGradient id="rg" cx="324.5" cy="284.0" r="69.3" gradientUnits="userSpaceOnUse"><stop offset="0" stop-color="#79b9dc"/><stop offset="0.5" stop-color="#7abadc"/><stop offset="0.75" stop-color="#80bfde"/><stop offset="1" stop-color="#86c3e0"/></radialGradient></defs>
<circle cx="324.5" cy="284.0" r="69.3" fill="url(#rg)"/>
<g clip-path="url(#pc)">
<path d="M378.2,257.5L379.9,256.7M280.8,332.9L277.8,336.2M289.1,229.8L287.0,226.6M307.9,225.0L306.8,221.1M391.1,302.3L396.3,303.8M384.4,312.5L387.9,314.2M259.8,274.5L255.6,273.8M278.6,313.4L276.6,314.6M344.9,290.4L349.1,291.7M261.9,267.2L257.8,266.2M354.5,346.2L356.6,350.7M351.1,241.0L352.2,239.2M382.0,299.5L384.5,300.2M340.5,305.9L341.8,307.7M306.5,350.0L305.5,353.7M376.4,269.2L378.5,268.6M287.7,321.4L284.0,325.2M267.2,269.3L264.3,268.6M289.3,313.0L287.7,314.2M353.2,254.8L357.0,251.0M386.4,269.6L390.6,268.6M281.9,297.6L278.0,298.8M315.9,343.1L315.6,345.4M359.1,249.5L361.7,247.0M364.5,334.6L366.7,337.5M257.8,292.4L254.8,292.7M340.8,304.5L342.6,306.7M359.7,230.9L362.6,226.6M275.0,285.9L270.1,286.1M273.0,262.4L270.6,261.4M379.7,320.4L382.9,322.5M352.1,246.9L354.1,244.3M280.9,289.6L278.8,289.9M359.1,334.6L360.7,336.9M272.9,324.1L270.8,325.7M365.0,329.0L368.6,332.9M391.6,285.2L397.1,285.3M286.6,228.0L285.6,226.6M381.2,254.6L385.8,252.2M327.6,228.4L327.8,225.3M379.2,279.4L382.4,279.2M342.4,332.6L344.0,336.9M258.9,269.8L256.8,269.4M373.7,301.4L378.8,303.2M373.1,313.8L376.3,315.7M295.0,254.0L292.5,251.4M278.5,310.7L274.9,312.8M273.8,272.4L272.3,272.0M273.9,243.4L270.7,240.8M379.0,299.1L380.8,299.6M289.2,248.1L287.8,246.7M264.3,256.0L261.5,254.7M371.5,254.8L375.0,252.6M328.3,235.0L328.5,231.8M310.1,349.5L309.0,354.4M346.6,316.6L349.5,320.9M360.9,251.8L363.2,249.7M266.4,288.4L262.3,288.7M377.1,323.8L380.1,326.1M322.3,314.4L322.0,317.6M388.1,257.7L392.6,255.8M391.0,278.3L393.3,278.1M330.8,351.1L331.3,356.1M268.5,262.7L263.7,260.9M293.4,321.8L292.0,323.5M298.1,230.8L297.4,229.4M382.5,314.4L384.4,315.3M307.8,220.2L307.0,217.3M290.9,265.7L289.3,264.9M341.5,243.2L343.1,239.4M291.6,312.4L288.9,314.8M275.0,330.8L271.9,333.7M383.9,277.0L386.9,276.7M371.4,241.6L375.3,238.0M301.2,227.1L300.2,224.5M325.5,233.7L325.6,229.5M263.6,261.5L260.7,260.4M335.5,223.5L336.1,220.4M367.2,328.0L368.4,329.2M342.0,293.7L345.3,295.6M264.1,303.2L261.4,304.1M340.6,290.8L344.7,292.6M275.3,289.0L273.5,289.2M362.6,307.7L365.3,309.3M269.4,280.4L264.0,280.0M339.4,309.8L340.7,312.1M384.8,266.5L389.7,265.1M272.9,256.8L268.4,254.5M284.4,325.8L283.0,327.2M264.1,311.9L262.6,312.6M269.0,272.6L266.7,272.2M258.9,268.2L255.3,267.3M315.5,219.7L315.3,217.9M350.9,347.1L352.6,351.3M364.8,230.8L366.6,228.4M369.1,254.5L372.8,252.1M304.3,326.3L302.1,330.8M288.2,310.9L285.9,312.6M279.6,305.7L277.4,306.8M344.6,231.4L345.2,229.8M355.5,267.6L358.6,265.9M385.9,267.0L388.0,266.4M375.7,315.9L377.9,317.2M259.7,304.0L256.3,305.0M278.2,291.7L273.2,292.6M346.1,219.5L346.6,217.9M345.7,237.3L347.3,233.9M278.5,271.0L274.0,269.7M300.5,341.1L299.8,342.6M280.3,247.5L279.0,246.5M358.7,244.0L360.2,242.2M262.3,275.6L258.6,275.1M259.7,304.8L255.8,306.0M257.2,291.9L252.2,292.5M255.3,278.8L250.6,278.5M372.7,328.9L374.2,330.4M295.3,319.4L294.0,320.9M275.6,282.9L272.5,282.9M379.9,282.8L384.6,282.7M277.7,304.7L273.6,306.5M317.7,229.5L317.4,226.4M322.7,344.5L322.5,349.2M376.0,244.5L377.7,243.2M383.7,320.2L387.7,322.7M291.8,226.6L290.9,225.0M387.5,256.4L390.7,255.0M369.6,253.0L371.0,252.0M317.5,349.9L317.0,355.0M336.5,220.2L336.9,218.4M362.8,270.2L366.2,268.9M281.3,319.9L278.7,322.0M281.3,263.1L278.1,261.5M298.4,331.6L296.9,334.4M362.2,298.2L364.0,298.9M289.5,248.7L286.5,245.6M348.8,220.2L350.0,217.0M264.9,299.0L260.9,300.1M385.0,257.8L387.4,256.8M298.1,230.9L297.4,229.5M376.8,306.4L379.0,307.3M351.1,341.2L353.1,345.6M279.6,250.5L275.6,247.6M274.6,257.5L273.1,256.7M369.6,256.8L371.5,255.6M302.3,240.8L300.6,237.6M376.8,306.9L379.7,308.1M371.6,300.2L376.0,301.7M280.8,235.4L278.2,232.6M307.3,321.8L306.2,324.2M306.9,232.7L305.3,228.0M353.8,283.3L358.0,283.2M320.9,351.1L320.6,355.0M287.0,258.0L285.3,256.8M291.0,233.7L287.9,229.1M378.1,313.2L379.9,314.2M304.9,331.5L303.9,333.9M338.6,223.7L339.3,220.5M320.4,339.2L320.2,341.4M305.2,320.4L303.9,322.8M354.7,231.1L357.2,226.8M273.2,260.3L271.4,259.5M302.3,227.1L300.3,222.1M316.3,338.3L315.9,341.2M364.7,231.0L365.7,229.7M288.1,331.8L285.1,335.8M283.3,319.5L280.6,321.8M367.4,330.5L368.9,332.2M285.7,291.9L283.2,292.4M292.0,280.2L290.0,280.0M343.4,342.5L344.9,347.2M383.6,252.4L388.2,249.9M298.5,225.9L297.9,224.5M381.4,256.1L383.1,255.3M357.2,321.1L358.3,322.5M391.7,286.7L395.0,286.8M352.4,220.9L354.3,216.7M273.9,244.0L270.2,241.1M376.9,323.9L380.5,326.7M285.1,245.9L281.3,242.3M375.3,280.3L376.8,280.2M347.1,321.9L349.4,325.9M361.8,263.5L363.7,262.5M389.8,285.4L392.1,285.5M282.8,280.9L279.7,280.7M271.5,258.0L268.1,256.4M341.1,252.6L342.9,249.0M343.5,248.3L344.9,245.7M271.7,311.0L269.2,312.3M354.8,243.1L357.4,239.6M264.3,283.3L260.7,283.3M271.0,324.0L268.1,326.1M370.7,315.7L373.5,317.7M348.8,223.7L349.4,222.2M378.0,277.9L381.9,277.4M307.8,229.2L306.9,226.2M310.6,333.6L309.4,337.6M325.7,233.8L325.8,232.0M308.8,226.1L307.9,222.9M331.6,327.6L332.1,330.2M286.3,266.9L283.4,265.6M362.2,267.2L363.9,266.4M375.9,328.0L377.8,329.6M267.5,305.7L264.7,306.8M296.8,331.4L294.1,336.0M343.8,328.5L345.9,333.4M280.1,291.7L276.9,292.3M306.1,336.1L304.6,340.4M283.8,328.2L282.5,329.6M281.2,334.5L279.3,336.7M270.4,266.7L265.6,265.2M265.7,282.3L262.8,282.2M359.0,332.5L361.6,336.1M375.5,273.4L379.2,272.7M281.1,250.2L278.1,247.9M370.9,252.5L375.0,249.7M277.9,237.5L276.6,236.3M276.5,276.7L273.1,276.2M296.3,338.5L294.7,341.6M259.6,295.3L254.3,296.2M341.8,254.8L343.6,251.9M340.8,227.5L341.9,223.7M375.7,254.5L377.2,253.7M293.0,244.2L290.4,240.9M361.3,342.4L363.5,345.9M279.0,275.6L275.7,275.0M278.2,331.2L275.8,333.6M383.7,309.8L386.5,311.0M283.0,249.8L279.7,247.2M268.7,281.6L265.5,281.4M382.1,247.6L384.5,246.2M279.0,238.9L275.5,235.3M362.1,276.1L366.6,275.2M359.0,267.6L363.0,265.7M379.5,257.1L381.5,256.1M310.0,339.8L309.0,343.7M261.0,262.2L256.1,260.5M373.1,266.3L376.0,265.3M384.6,306.9L386.1,307.5M327.7,269.1L328.4,266.0M274.4,304.2L270.1,305.9M375.0,262.9L377.1,262.0M265.6,272.1L262.5,271.5M357.8,322.8L361.3,326.8M278.8,271.2L274.4,270.0M368.7,304.2L372.7,306.0M274.8,253.8L270.7,251.3M373.1,282.6L376.6,282.5M296.4,268.1L294.4,267.0M357.2,232.7L358.3,231.0M382.3,308.8L385.7,310.2M383.6,286.5L388.7,286.7M285.6,269.8L280.5,267.9M272.6,274.1L268.7,273.4M364.1,259.7L366.9,257.9M304.3,223.9L303.3,221.1M300.8,222.6L298.9,217.9M328.7,327.5L328.8,329.2M309.8,235.5L308.7,231.7M260.2,309.9L257.4,311.0M312.3,336.1L311.4,340.1M342.6,332.8L343.8,335.9M300.7,242.1L298.9,238.9M271.9,306.9L268.2,308.5M257.0,282.0L254.8,281.9M316.9,237.2L316.1,232.4M370.6,335.1L372.8,337.6M277.0,322.0L274.0,324.4M304.7,231.3L303.1,227.1M341.9,217.5L342.7,214.7M339.1,334.4L339.7,336.6M266.4,307.1L262.8,308.5M286.7,261.3L282.7,258.9M349.3,329.8L350.4,331.7M294.0,249.8L292.5,248.0M312.0,240.5L310.6,235.8M344.3,347.9L345.0,350.1M337.3,225.2L338.5,219.8M380.7,263.8L384.2,262.6M363.8,302.1L366.0,303.1M371.4,311.9L372.8,312.8M265.7,255.1L262.7,253.5M366.8,246.6L368.1,245.4M289.4,225.3L287.1,221.4M386.2,265.6L389.8,264.5M364.8,337.4L366.1,339.1M324.2,344.9L324.2,349.0M343.9,230.9L344.7,228.8M354.7,232.8L357.5,228.1M354.6,256.6L357.1,254.3M278.0,265.2L275.1,264.0M378.0,303.1L381.4,304.3M293.5,235.9L291.3,232.7M374.3,315.3L375.6,316.1M272.8,262.1L271.3,261.5M292.9,243.1L289.7,238.8M373.5,284.1L378.3,284.1M288.8,224.7L287.9,223.2M363.8,338.3L365.9,341.3M393.7,279.0L395.3,278.9M317.0,234.5L316.5,230.7M380.5,315.9L384.3,318.0M358.2,223.9L359.2,222.1M312.7,337.0L312.1,339.8M386.5,285.2L389.2,285.2M307.1,318.2L304.9,322.5M318.8,239.3L318.1,233.9M379.8,243.0L381.7,241.6M273.7,327.1L270.0,330.3M293.6,254.0L289.7,250.3M368.5,253.4L371.2,251.6M381.0,297.9L383.6,298.5M372.9,258.0L377.4,255.6M367.4,275.3L372.4,274.3M359.8,243.6L360.9,242.3M273.3,251.4L269.3,248.9M354.5,241.8L357.6,237.4M339.3,339.0L340.0,341.5M369.5,318.5L372.4,320.7M335.6,306.6L336.5,308.4M308.7,227.2L307.5,223.0M306.3,335.1L305.6,337.0M385.8,291.2L390.1,291.7M361.0,233.2L363.1,230.3M384.0,254.9L386.6,253.6M356.4,225.2L357.9,222.4M266.6,312.6L264.9,313.4M264.5,276.4L259.3,275.7M292.6,230.8L291.2,228.5M383.1,315.5L386.1,317.1M359.3,338.0L361.6,341.7M390.7,284.7L393.6,284.7M331.9,236.5L332.2,234.0M269.0,263.8L265.9,262.7M264.3,262.6L261.4,261.5M332.0,219.1L332.2,217.1M270.2,316.6L267.3,318.3M310.6,235.1L309.7,231.9M282.1,257.8L279.3,256.0M363.0,334.0L364.2,335.6M389.1,306.7L390.7,307.3M380.2,316.3L384.6,318.9M293.9,222.1L292.1,218.4M367.1,237.7L368.9,235.8M288.4,237.1L285.5,233.3M372.3,320.1L374.2,321.5M359.6,239.8L363.0,235.6M347.8,312.6L350.8,316.2M345.8,225.6L347.3,221.5M354.0,241.3L356.1,238.2M258.3,280.5L253.1,280.2M364.1,237.4L365.1,236.2M277.1,266.4L274.2,265.3M349.8,327.7L352.2,331.9M325.8,324.2L325.9,326.8M275.6,235.4L273.3,233.1M371.3,310.0L374.5,311.8M322.9,223.6L322.9,220.4M260.6,308.8L257.0,310.2M352.3,335.5L353.3,337.3M271.1,275.7L266.0,274.9M287.9,337.6L285.2,341.5M347.5,274.3L349.5,273.4M299.3,228.4L298.5,226.6M286.3,228.9L285.5,227.7M286.4,341.7L284.9,344.0M356.7,260.3L359.7,258.1M307.2,347.1L306.8,348.6M366.0,320.4L367.9,322.1M333.0,350.6L333.3,352.8M284.5,272.4L282.9,271.9M348.7,332.4L350.2,335.4M382.4,292.6L384.5,292.9M269.4,248.7L265.4,246.1M360.4,335.4L362.3,338.1M301.1,241.4L299.4,238.3M377.2,313.7L379.7,315.2M366.3,296.3L371.5,297.8M278.1,316.5L275.7,318.2M378.7,268.4L382.1,267.4M307.0,231.5L306.3,229.4M339.8,244.6L341.6,239.9M264.6,273.0L260.9,272.3M275.3,282.0L271.1,281.9M358.5,245.3L359.5,244.1M266.7,245.5L262.6,242.7M380.3,273.4L385.5,272.5M354.5,336.9L355.5,338.7M282.0,318.0L280.2,319.4M337.0,229.2L337.4,227.2M270.6,280.3L267.7,280.1M282.6,339.0L281.1,341.1M366.0,301.9L367.8,302.6M379.4,275.8L381.8,275.5M296.8,333.8L295.9,335.3M383.5,309.4L386.0,310.5M288.2,267.1L285.7,266.0M304.5,244.0L303.6,242.1M284.5,340.5L283.5,342.0M347.3,227.6L349.1,223.2M376.7,263.0L378.3,262.4M335.5,351.8L335.8,354.1M319.1,320.8L318.9,322.7M366.1,339.5L368.0,342.1M312.0,233.4L311.4,231.0M343.5,349.5L345.1,354.7M392.1,276.9L396.6,276.4M367.4,300.1L371.0,301.4M265.1,278.7L261.0,278.3M283.1,276.9L279.0,276.2M361.3,312.4L364.9,315.1M369.3,274.8L374.0,273.8M299.2,270.4L296.7,269.1M344.8,228.8L346.4,224.4M344.7,225.9L345.8,222.8M306.6,223.0L305.3,218.6M324.1,333.5L324.1,338.6M276.7,328.9L275.3,330.3M284.5,309.2L282.0,310.8M278.4,244.7L274.7,241.6M270.8,260.6L269.0,259.9M347.6,339.8L349.0,343.2M259.2,262.5L254.2,260.9M294.2,243.3L292.4,240.9M341.6,337.4L343.2,342.6M274.6,262.7L269.9,260.6M266.1,258.3L261.2,256.1M284.9,249.5L283.5,248.2M363.7,266.1L367.7,264.2M305.6,326.7L304.2,329.8M297.1,221.8L294.9,216.9M356.9,277.6L361.6,276.7M366.0,238.1L368.1,235.8M258.9,290.8L253.7,291.3M275.6,287.9L271.2,288.2M355.6,336.4L357.1,338.9M367.6,237.4L370.7,234.0M282.9,336.0L280.4,339.1M272.3,257.8L269.3,256.3M285.7,230.5L283.6,227.6M340.3,252.0L342.6,247.5M365.7,318.8L369.2,321.8M282.1,287.3L278.1,287.6M390.7,280.4L395.9,280.1M327.3,350.8L327.3,352.5M279.7,291.6L275.0,292.4M318.5,346.4L318.4,348.1M286.6,238.2L284.1,235.1M374.8,262.8L378.6,261.1M263.7,296.6L259.3,297.5M279.2,264.9L274.2,262.8M348.3,246.3L350.9,242.2M336.5,304.0L338.7,307.7M384.7,289.3L388.3,289.6M360.6,232.0L362.3,229.6M284.3,227.4L283.4,226.1M370.6,307.0L373.4,308.4M270.4,286.5L268.2,286.6M368.5,238.1L371.8,234.6M276.9,281.5L271.9,281.2M359.3,310.6L362.0,312.6M383.6,287.8L388.1,288.1M332.2,255.3L333.0,252.3M274.6,261.7L273.2,261.0M382.8,313.3L384.4,314.1M265.5,316.0L261.8,318.0M354.3,222.6L356.5,218.0M272.9,273.3L269.5,272.5M367.6,240.5L369.9,238.1M340.3,219.1L340.9,216.8M361.8,265.4L364.8,264.0M373.3,261.2L376.9,259.5M319.6,242.0L319.2,238.5M304.2,229.0L302.5,224.5M385.9,313.7L388.6,315.0M368.2,266.4L372.9,264.5M259.2,267.9L255.5,267.0M266.5,307.3L261.8,309.1M375.0,309.3L379.0,311.3M361.6,322.1L362.8,323.4M289.6,245.7L286.1,241.8M263.2,273.6L258.4,272.7M384.9,315.3L386.8,316.3M352.5,243.3L354.2,240.9M321.4,216.2L321.2,211.1M315.0,215.6L314.6,212.6M262.3,312.4L259.9,313.4M379.6,285.1L381.2,285.2M292.9,290.9L288.5,291.9M270.8,270.6L267.0,269.6M270.2,247.5L268.1,246.1M285.4,256.7L281.9,254.3M306.4,335.5L305.9,337.0M390.6,304.3L393.7,305.2M358.3,297.3L360.5,298.2M385.3,311.6L386.8,312.3M297.3,238.2L295.8,235.7M273.6,313.7L270.8,315.3M303.5,326.6L301.3,331.0M362.7,290.8L365.2,291.2M263.5,293.1L261.1,293.5M290.5,333.1L288.9,335.5M340.8,237.1L341.4,235.2M381.9,286.0L383.8,286.1M261.4,257.3L256.9,255.4M335.9,321.2L337.2,325.5M267.9,317.5L263.7,320.1M268.7,324.5L267.4,325.5M343.9,342.7L344.8,345.4M377.2,316.8L378.6,317.7M339.0,224.6L339.8,221.5M275.0,308.1L270.3,310.5M260.4,299.0L258.8,299.4M371.5,283.0L374.5,283.0M297.4,225.5L296.4,223.2M299.2,323.3L297.2,326.4M333.3,338.0L334.2,343.4M264.7,290.4L262.3,290.7M371.2,320.7L375.4,324.0M379.3,314.0L381.6,315.3M359.7,331.8L360.7,333.2M313.5,227.7L312.4,222.4M358.5,323.1L361.3,326.3M354.5,329.8L356.8,333.3M284.7,236.4L282.9,234.2M383.7,287.1L387.8,287.3M262.5,311.6L257.6,313.7M327.3,349.4L327.4,351.5M393.2,273.7L396.5,273.2M358.8,270.4L362.7,268.9M328.0,258.7L328.3,256.8M358.3,273.1L363.2,271.5M351.6,244.2L352.8,242.5M274.0,265.0L269.5,263.3M369.4,321.9L372.4,324.4M366.3,317.4L367.9,318.7M375.6,310.0L380.0,312.2M383.7,265.8L387.3,264.7M361.0,339.7L363.0,342.8M274.3,253.3L272.6,252.2M267.4,305.3L263.6,306.7M256.3,273.4L251.4,272.7M274.3,269.8L270.1,268.6M391.0,293.6L393.6,294.0M295.3,226.2L294.6,224.7M283.8,243.1L282.0,241.3M288.9,281.5L284.1,281.2M341.9,346.8L343.1,350.8M384.0,297.6L385.6,297.9M363.6,242.1L365.1,240.5M362.3,234.3L363.6,232.5M282.9,325.1L281.8,326.2M288.1,329.0L284.7,333.2M271.3,275.9L266.4,275.2M296.4,335.1L295.2,337.4M374.7,269.9L379.3,268.7M374.9,249.9L378.2,247.7M281.0,324.5L279.4,326.0M375.7,294.6L381.0,295.7M273.8,291.9L270.7,292.4M276.6,264.6L274.1,263.6M265.1,258.1L263.2,257.2M261.5,279.0L258.5,278.7M280.9,289.9L276.5,290.5M282.7,269.4L278.2,267.8M359.3,261.0L361.5,259.6M370.5,316.1L373.7,318.3M264.5,273.2L262.6,272.8M369.1,246.7L371.7,244.6M284.0,332.9L281.8,335.5M371.3,292.2L375.2,292.9M256.1,294.0L251.7,294.7M371.4,307.6L375.1,309.5M274.2,247.1L270.7,244.6M372.9,288.9L377.2,289.4M385.2,312.9L388.9,314.7M303.0,244.0L301.9,241.9M306.8,232.4L305.6,228.7M278.6,291.7L275.7,292.2M352.2,335.4L354.2,339.1M256.2,285.3L253.6,285.4M313.0,335.2L312.7,336.8M358.9,260.9L361.3,259.3M335.3,229.2L336.1,225.1M303.8,223.8L302.4,219.7M343.3,236.9L345.2,232.1M288.4,279.6L285.2,279.2M339.2,251.2L340.8,247.8M277.9,312.9L275.7,314.3M339.8,343.5L340.6,346.6M378.5,310.5L381.1,311.7M346.1,220.5L347.3,216.7M276.0,246.4L274.8,245.4M350.9,342.3L353.1,347.3M270.5,249.8L266.9,247.5M346.1,234.2L348.0,229.7M386.5,306.3L388.8,307.1M341.1,255.1L342.8,252.2M334.7,316.0L336.1,320.5M360.4,331.4L361.8,333.2M374.6,315.1L376.5,316.3M340.5,331.3L341.3,333.6M266.2,304.9L263.7,305.8M271.0,244.9L268.5,243.1M369.9,238.3L372.3,235.8M340.6,241.3L342.1,237.4M371.4,251.6L373.9,249.8M382.8,282.0L384.5,281.9M291.4,238.0L290.4,236.6M346.9,340.0L348.7,344.7M271.3,289.9L268.4,290.2M280.6,250.8L276.7,247.8M258.0,266.6L254.3,265.7M318.8,321.7L318.0,327.0M312.9,253.1L312.0,250.8M313.8,323.5L312.9,327.1M336.8,224.6L337.5,221.5M285.9,300.6L284.3,301.3M282.1,263.1L277.9,261.0M361.7,294.4L365.9,295.5M343.6,232.0L345.1,228.0M268.4,295.8L265.3,296.4M289.9,338.8L287.9,341.9M256.7,282.8L255.0,282.8M277.9,276.7L274.6,276.2M300.6,345.5L299.7,347.9M351.5,229.0L352.3,227.3M302.7,232.5L301.6,229.6M310.6,235.0L310.1,233.5M328.9,320.1L329.4,323.4M298.8,228.5L298.2,227.1M286.6,253.5L284.7,252.0M308.4,246.4L306.8,242.6M271.9,298.5L269.0,299.3M376.7,292.9L379.9,293.5M265.9,246.9L264.3,245.9M337.2,240.0L338.4,235.7M319.6,220.6L319.4,217.0M257.2,267.6L254.5,267.0M262.4,275.4L259.1,275.0M366.6,333.1L369.0,336.0M307.1,317.4L304.8,321.9M293.1,241.2L292.1,239.8M358.1,267.7L362.1,265.7M368.8,242.4L370.9,240.4M301.7,248.9L299.9,246.1M358.4,297.1L361.1,298.2M355.6,304.8L357.1,305.8M281.7,330.2L279.6,332.4M285.6,304.5L283.6,305.5M299.6,236.0L298.9,234.6M385.1,288.7L389.7,289.1M290.1,237.8L289.0,236.3M307.6,223.1L306.8,220.2M298.5,223.4L296.8,219.3M348.8,269.0L350.8,267.7M258.3,288.6L253.2,289.0M374.5,267.8L376.7,267.1M280.4,312.0L276.7,314.3M290.7,294.0L286.5,295.2M346.2,334.2L348.0,338.2M292.4,231.1L290.7,228.3M356.8,279.9L359.1,279.6M320.2,237.8L320.1,236.1M362.0,299.0L366.8,300.9M359.1,240.3L362.0,236.7M387.0,271.8L390.3,271.2M345.8,318.8L347.2,321.1M348.4,326.1L350.6,330.0M275.9,292.5L272.8,293.0M318.2,232.5L317.7,228.2M273.2,248.3L270.8,246.7M284.8,311.6L281.3,314.0M332.3,224.2L332.9,219.5M287.9,239.9L286.1,237.7M364.3,319.5L366.9,321.9M259.6,279.0L256.8,278.8M271.3,303.9L269.8,304.5M366.4,331.1L369.6,334.7M369.2,266.2L371.1,265.4M278.2,265.6L273.4,263.7M379.2,265.8L383.8,264.2M374.0,320.5L377.8,323.3M337.2,221.0L338.0,216.6M276.6,259.7L273.1,257.9M388.4,279.7L390.4,279.6M387.8,282.6L390.2,282.5M298.3,243.5L297.4,242.2M341.7,346.8L342.8,350.7M274.3,242.2L272.0,240.3M334.9,340.4L335.7,344.5M333.7,331.1L334.2,333.6M262.1,284.9L257.7,285.0M293.4,236.2L291.7,233.6M281.9,328.6L278.7,332.0M294.6,225.8L293.1,222.7M270.5,286.8L265.6,287.1M389.1,263.5L394.1,261.9M387.3,255.6L390.2,254.3M345.9,342.2L347.7,347.0M294.4,326.1L292.5,328.7M351.6,223.9L352.8,221.4M339.9,246.1L341.3,242.7M297.6,230.4L296.6,228.3M373.5,298.2L376.8,299.1M263.5,286.0L261.5,286.0M353.4,275.2L356.7,274.2M311.2,267.2L308.5,263.8M354.2,272.1L357.2,270.9M347.0,346.0L348.7,350.7M278.8,312.0L275.9,313.7M352.3,241.2L354.4,237.9M324.1,216.0L324.1,214.3M260.6,268.4L258.2,267.8M282.8,279.2L278.2,278.6M374.8,296.8L379.0,297.9M311.5,252.8L309.6,248.4M275.4,304.6L273.5,305.4M272.5,244.1L270.7,242.7M350.9,295.4L353.5,296.6M347.6,339.8L349.5,344.5M390.1,283.2L393.8,283.2M336.2,267.5L337.2,266.0M336.2,249.4L337.3,246.2M268.6,251.1L267.2,250.3M268.6,260.5L264.2,258.7M390.3,264.3L393.1,263.5M270.4,310.2L268.9,311.0M381.8,281.0L386.9,280.8M334.8,236.8L335.8,232.5M352.4,233.1L354.7,229.0M292.9,314.1L290.3,316.6M370.7,334.3L374.3,338.2M331.2,321.9L331.8,325.2M280.5,274.8L278.7,274.4M301.6,331.4L300.9,332.9M256.4,280.0L253.4,279.8M368.3,323.0L370.6,325.0M295.8,317.1L293.2,320.0M357.3,327.0L360.0,330.5M352.2,236.2L353.6,233.9M278.6,251.3L275.1,248.8M304.9,240.2L303.6,237.3M282.4,326.6L279.2,329.9M349.4,315.1L352.5,319.1M297.1,344.1L295.8,347.1M267.2,283.1L263.0,283.0M306.6,314.2L305.4,316.2M382.9,318.1L384.6,319.0M281.2,320.4L279.7,321.7M378.1,264.2L379.6,263.7M347.5,226.2L349.2,222.1M281.3,333.7L279.1,336.3M309.8,333.8L309.1,336.2M361.1,322.6L362.2,323.7M361.3,269.1L364.6,267.8M376.2,251.3L380.5,248.6M306.1,350.7L305.3,353.5M387.6,307.3L392.1,309.0M284.3,291.3L280.0,292.1M371.2,258.2L374.7,256.3M295.6,232.7L293.3,228.5M288.0,255.7L286.5,254.6M280.3,237.8L278.6,235.9M363.5,263.2L367.5,261.1M277.6,263.9L273.5,262.2M361.5,334.1L363.9,337.4M281.2,282.8L278.8,282.8M371.3,319.4L374.5,321.8M327.3,322.7L327.4,325.0M302.5,223.5L301.5,220.9M359.8,340.6L360.8,342.1M300.7,227.7L299.1,223.8M365.2,307.5L366.6,308.3M277.0,286.8L272.5,287.0M384.4,301.9L386.8,302.6M370.6,242.7L373.9,239.7M376.4,270.5L381.4,269.2M293.2,338.0L291.9,340.3M361.5,342.6L362.7,344.6M290.4,242.8L286.9,238.6M367.6,299.6L371.6,301.0M319.5,228.7L319.3,226.5M368.8,308.2L373.0,310.5M371.1,266.3L375.5,264.6M286.3,303.9L283.4,305.4M387.1,311.8L388.7,312.5M298.1,238.9L295.8,235.1M290.4,234.7L289.4,233.2M258.5,262.2L254.2,260.8M337.8,336.9L338.5,339.4M264.9,261.4L261.6,260.2M373.0,313.9L374.6,314.9M271.6,299.7L268.2,300.7M362.4,333.3L363.5,334.8M271.9,270.7L270.1,270.2M348.0,251.1L351.0,246.9M288.4,321.2L286.5,323.1M379.1,323.7L382.3,326.1M291.3,230.9L290.0,228.8M340.0,221.2L341.1,216.8M377.4,300.4L380.3,301.3M360.2,256.0L363.4,253.5M322.3,233.6L322.1,230.7M300.1,236.4L298.5,233.3M290.5,237.0L288.4,234.0M374.0,246.0L378.0,242.9M263.1,277.3L260.5,277.0M294.1,311.3L292.2,313.0M373.7,250.7L377.3,248.3M292.9,240.3L291.1,237.8M303.9,266.5L302.1,265.0M260.8,289.5L255.4,289.9M358.5,321.6L360.2,323.5M371.9,235.9L374.2,233.6M279.4,332.2L277.1,334.8M381.3,270.9L383.3,270.4M317.2,321.3L316.2,326.6M363.8,232.5L366.4,229.0M386.3,292.0L390.9,292.6M334.3,331.8L335.1,335.9M288.3,256.4L286.3,254.9M316.5,263.5L314.5,258.5M282.9,229.6L281.6,227.9M298.0,343.5L296.0,347.9M320.0,345.3L319.7,350.4M351.3,332.4L352.4,334.3M385.2,301.0L387.6,301.7M367.3,317.6L370.5,320.2M381.6,293.3L385.4,293.9M393.5,287.3L398.3,287.5M339.3,315.1L340.0,316.6M324.6,352.1L324.7,357.0M271.5,251.0L270.2,250.2M354.4,260.9L358.1,258.1M287.6,299.2L283.9,300.8M340.8,236.1L341.4,234.5M285.1,325.8L283.9,327.1M276.0,330.4L274.6,331.8M277.5,258.0L273.6,255.9M344.8,227.8L345.4,226.0M270.8,248.3L269.5,247.4M282.3,338.4L281.3,339.7M257.8,273.2L253.0,272.4M366.7,272.8L370.5,271.8M380.3,252.2L384.8,249.7M269.1,319.2L265.5,321.5M373.7,273.9L375.5,273.5M374.4,237.2L378.3,233.5M348.5,348.2L349.9,352.0M381.6,310.3L385.1,311.9M290.8,299.7L289.0,300.6M263.6,283.0L262.0,283.0M293.0,341.6L292.1,343.3M353.9,337.9L356.4,342.4M358.4,287.5L360.2,287.6M296.1,245.5L293.2,241.7M277.4,233.1L276.1,231.7M333.4,250.8L334.3,247.1M274.4,307.6L272.8,308.3M340.4,336.1L341.9,340.8M295.6,238.6L293.1,234.7M329.6,219.9L329.9,215.1M274.6,259.6L271.0,257.8M267.6,278.9L265.5,278.7M350.8,327.7L352.6,330.7M342.9,251.1L343.9,249.3M282.5,318.7L280.0,320.8M351.4,220.6L352.9,217.0M283.4,300.2L279.8,301.7M345.3,341.3L346.2,343.8M376.8,264.5L380.9,263.0M289.9,325.7L288.7,327.2M287.6,264.9L284.3,263.2M368.7,247.3L369.9,246.3M375.2,248.5L378.5,246.2M341.8,238.1L343.1,234.6M372.7,322.5L375.4,324.7M265.4,302.9L260.2,304.6M265.4,262.9L263.1,262.1M336.1,338.1L336.6,340.5M300.4,252.0L297.4,248.0M341.0,337.2L341.5,338.8M355.3,340.3L356.4,342.4M343.5,320.1L345.6,324.0M370.3,286.8L372.8,286.9M308.8,338.8L308.2,340.7M289.9,325.8L287.2,329.1M276.8,331.1L273.9,334.0M368.6,304.3L370.7,305.3M381.4,300.8L383.7,301.5M379.8,280.1L384.1,279.8M344.0,222.0L344.7,219.7M303.3,328.1L301.4,332.0M289.4,301.2L284.9,303.4M289.7,229.8L286.9,225.5M279.5,328.2L276.3,331.4M291.7,318.4L289.7,320.5M275.9,267.0L274.2,266.4M324.2,350.4L324.2,352.8M385.8,275.2L387.7,275.0M336.0,263.2L337.1,261.2M279.3,242.0L277.2,240.0M339.9,233.0L341.1,229.3M376.1,326.8L380.3,330.3M385.6,279.7L387.3,279.6M267.3,289.4L263.2,289.8M280.4,255.8L277.0,253.6M261.0,289.0L259.3,289.2M367.4,321.6L370.3,324.1M263.2,304.9L261.5,305.5M277.9,238.4L274.1,234.7M346.1,327.7L348.5,332.6M293.6,227.3L292.8,225.9M262.2,312.5L260.5,313.3M384.2,311.9L388.9,314.1M301.1,226.6L299.9,223.5M365.5,255.1L366.9,254.0M280.9,250.0L279.0,248.5M273.8,318.2L271.6,319.7M326.4,351.6L326.6,356.9M385.2,301.0L388.9,302.0M309.6,347.4L308.7,351.4M287.6,247.5L285.4,245.4M282.7,323.3L280.3,325.5M387.7,292.6L389.5,292.9M257.5,279.4L256.0,279.3M279.7,317.2L276.0,319.9M267.4,302.1L266.0,302.6M367.9,234.9L370.2,232.2M275.8,262.2L272.7,260.8M371.8,314.2L376.3,317.1M276.3,285.5L273.9,285.6M274.0,242.9L271.2,240.6M334.3,228.2L334.9,225.1M317.3,310.9L316.0,316.1M347.4,228.5L348.5,225.8M375.3,288.5L379.2,288.9M359.9,235.1L362.4,231.6M352.7,244.7L355.9,240.3M389.1,295.3L390.6,295.6M378.8,254.4L382.7,252.2M372.7,256.0L376.1,254.1M287.4,246.4L286.3,245.3M266.3,320.9L263.2,322.8M287.2,327.1L286.2,328.3M380.7,292.8L383.6,293.3M366.1,260.5L369.3,258.7M375.3,240.8L379.1,237.6M257.4,291.3L253.9,291.7M380.5,308.1L385.2,310.1M326.9,309.9L327.4,314.7M268.1,271.1L263.0,270.0M262.5,314.6L259.5,316.1M327.7,216.7L327.8,213.7M290.7,223.3L289.1,220.4M343.7,339.0L344.3,340.7M350.1,327.2L351.8,330.1M279.4,301.3L277.9,301.9M388.1,269.1L392.6,268.0M363.0,259.5L367.3,256.7M378.9,314.0L383.4,316.5M269.1,281.9L266.8,281.8M370.4,242.0L374.4,238.3M279.6,231.7L278.4,230.3M360.4,337.3L361.6,339.1M284.4,241.3L282.1,238.9M262.2,291.5L260.4,291.8M363.5,226.7L366.1,222.9M323.5,222.9L323.4,220.5M292.0,319.5L289.0,322.7M340.2,339.4L340.6,341.0M381.7,263.0L384.5,262.0M355.1,259.0L357.6,256.9M291.8,263.5L287.2,260.7M371.6,319.3L375.7,322.4M384.6,267.7L388.5,266.7M267.3,269.0L262.9,267.8M256.8,284.3L252.3,284.3M385.5,256.7L390.3,254.5M282.6,231.6L280.0,228.5M293.5,327.3L290.9,330.9M296.5,299.2L294.7,300.2M285.5,256.8L282.5,254.7M300.8,338.8L300.2,340.2M385.2,285.5L388.8,285.6M349.5,227.8L350.8,224.9M361.7,318.8L363.5,320.5M369.4,292.8L372.6,293.5M292.1,343.4L289.6,348.0M323.7,247.7L323.6,245.2M368.2,276.7L371.0,276.2M285.5,324.5L283.9,326.2M284.4,288.8L281.8,289.1M379.4,256.1L381.1,255.3M293.2,237.6L291.0,234.3M281.0,299.3L276.1,301.1M289.5,240.5L287.2,237.7M378.9,274.7L382.5,274.1M276.7,332.0L274.5,334.2M393.9,285.7L395.9,285.8M272.5,301.0L270.6,301.6M266.4,315.9L264.1,317.1M361.9,269.2L366.0,267.6M360.3,322.5L362.2,324.6M273.0,301.4L268.2,303.0M361.0,325.2L362.1,326.4M346.6,348.2L347.2,350.0M364.7,236.4L366.8,234.0M309.3,246.6L308.1,243.8M269.7,299.5L265.4,300.7M278.4,314.5L275.8,316.2M320.8,340.8L320.5,345.9M380.0,284.1L382.7,284.1M382.2,298.3L384.5,298.9M374.0,326.7L377.9,330.1M306.2,342.9L305.0,346.7M378.2,307.3L382.1,309.0M385.1,282.1L387.4,282.0M360.4,278.0L362.4,277.6M362.0,263.9L365.6,262.0M341.9,351.1L342.9,354.7M375.4,260.2L377.5,259.2M259.5,291.6L254.1,292.2M363.4,246.7L365.3,244.8M353.4,295.3L356.8,296.6M281.8,258.4L279.8,257.3M354.1,328.3L355.4,330.1M294.2,333.7L292.2,336.9M274.4,263.5L270.5,261.9M272.4,250.3L270.1,248.9M322.9,349.3L322.8,354.2M339.5,223.2L340.5,219.2M376.9,257.6L380.7,255.7M345.4,252.7L348.2,248.5M361.5,329.3L364.9,333.5M309.2,221.3L308.0,216.3M372.3,330.2L376.0,333.8M300.1,324.5L299.2,325.9M375.6,250.8L378.1,249.2M346.0,324.0L347.2,326.3M358.5,290.7L362.3,291.5M378.4,327.1L380.2,328.5M341.5,318.4L342.4,320.2M306.9,267.9L303.7,265.0M313.2,239.3L312.5,236.2M386.1,271.8L389.8,271.1M347.4,237.2L349.7,232.6M285.9,240.1L283.7,237.6M377.8,256.1L379.2,255.4M386.3,253.7L390.7,251.6M345.4,325.9L346.9,328.9M282.0,258.8L280.2,257.7M368.9,279.4L371.6,279.2M291.3,247.1L288.2,243.6M318.9,234.4L318.4,229.6M389.2,272.7L392.7,272.1M328.5,322.5L328.8,325.5M339.8,243.9L341.7,238.9M364.7,302.5L367.0,303.6M274.1,257.1L270.9,255.4M381.4,249.2L383.9,247.7M298.4,343.4L297.7,345.0M270.9,251.3L268.8,250.1M391.0,297.1L393.0,297.5M322.3,220.5L322.3,218.6M342.4,346.8L343.6,350.8M298.1,223.4L296.6,220.0M270.9,279.5L269.4,279.4M346.1,319.4L347.8,322.3M358.7,262.1L360.1,261.2M374.4,244.4L375.8,243.4M307.4,224.6L306.6,221.8M335.1,227.2L335.5,225.2M368.1,270.6L372.0,269.4M281.3,235.5L277.8,231.6M355.6,226.1L356.6,224.2M290.3,227.3L289.0,225.2M293.5,228.3L291.6,224.8M380.3,245.3L383.0,243.5M358.7,253.6L360.6,251.9M291.3,259.4L286.9,256.2M374.7,262.5L376.5,261.7M342.1,337.6L343.0,340.2M384.0,315.2L385.9,316.2M266.9,285.8L264.5,285.8M385.7,305.8L388.9,306.9M320.9,346.7L320.7,350.4M351.8,343.7L353.9,348.2M379.1,249.4L382.3,247.4M299.4,224.3L298.2,221.5M348.2,221.8L348.9,220.1M285.2,288.7L280.3,289.3M346.6,323.1L348.4,326.3M270.9,240.3L269.0,238.7M379.8,321.0L383.8,323.7M376.9,265.2L381.1,263.7M280.3,266.5L276.9,265.2M346.7,344.8L347.7,347.6M280.2,319.4L276.4,322.4M364.0,336.8L365.0,338.1M311.9,312.7L310.2,316.5M353.9,318.1L356.2,320.8M282.4,328.2L279.0,331.8M331.8,339.9L332.5,345.1M286.3,232.3L284.1,229.4M268.0,313.0L265.3,314.4M344.7,220.5L345.4,218.0M318.6,343.6L318.1,348.6M384.9,294.5L387.1,294.9M297.3,229.8L295.3,225.9M346.0,229.9L347.9,225.3M349.7,244.9L352.3,240.9M270.3,300.5L265.3,302.0M383.9,314.1L385.9,315.1M306.9,231.0L306.4,229.4M366.4,245.9L367.5,244.8M268.8,280.7L265.0,280.5M346.6,319.4L348.9,323.1M264.2,305.7L259.8,307.3M342.4,255.2L345.0,251.2M278.8,287.2L274.3,287.5M296.2,323.1L293.7,326.6M334.8,229.7L335.4,226.4M356.3,295.3L360.9,297.0M372.5,277.3L374.6,277.0M356.7,250.3L358.1,248.8M348.6,220.3L349.6,217.6M271.9,241.2L270.7,240.2M355.5,258.5L359.3,255.4M262.0,310.8L257.4,312.8M333.9,350.8L334.2,352.5M303.2,278.7L298.6,277.5M287.4,246.2L284.2,243.0M299.7,333.3L297.2,338.2M357.7,238.0L359.5,235.5M390.5,286.6L394.9,286.7M354.5,318.1L355.9,319.8M308.6,231.3L308.1,229.4M359.3,236.6L360.3,235.3M377.7,318.2L380.0,319.7M312.8,317.3L312.0,319.5M258.6,273.6L254.3,273.0M342.4,252.0L343.5,250.1M377.3,244.8L381.6,241.5M342.8,245.4L344.3,242.1M341.2,236.4L342.8,231.8M300.7,344.7L298.8,349.4M281.5,304.5L279.5,305.5M278.0,311.2L274.5,313.2M377.6,244.4L379.7,242.9M342.8,240.6L344.2,237.0M377.5,315.8L378.9,316.7M285.3,251.5L282.0,248.8M310.6,321.7L308.9,326.4M318.1,247.9L317.6,245.3M286.7,312.5L283.5,314.9M302.6,218.7L301.1,214.3M349.6,321.8L350.8,323.7M326.9,326.0L327.2,331.1M381.4,295.2L385.1,295.9M385.3,253.5L388.9,251.6M278.7,322.1L274.8,325.3M295.7,259.1L293.3,257.0M284.3,300.7L282.8,301.4M386.9,277.7L391.2,277.2M280.1,256.7L277.3,255.0M354.9,346.2L356.2,348.9M372.0,328.1L374.6,330.5M293.6,257.2L290.0,254.1M276.3,309.2L271.9,311.5M366.4,316.9L368.4,318.5M384.8,313.9L389.3,316.1M372.1,273.4L375.0,272.8M318.9,226.5L318.6,223.9M301.3,222.9L299.4,217.9M345.0,217.9L345.6,215.7M325.9,216.1L326.0,212.6M260.5,288.1L255.1,288.4M370.3,286.1L375.4,286.3M276.5,251.7L274.9,250.6M304.4,330.4L302.8,333.9M366.2,240.6L370.0,236.7M269.0,276.0L266.8,275.6M306.3,327.4L305.2,329.8M279.7,317.8L277.8,319.2M355.8,274.5L359.0,273.5M285.8,298.5L284.2,299.1M358.2,331.3L360.7,334.8M277.9,313.6L273.7,316.2M302.5,331.0L300.3,335.7M378.2,307.8L379.9,308.5M381.8,287.5L385.7,287.7M315.1,215.6L314.6,212.0M297.2,237.0L295.1,233.4M386.0,283.0L387.8,283.0M370.6,239.4L373.8,236.3M327.9,325.2L328.1,327.5M387.4,276.4L390.2,276.1M366.6,247.6L367.8,246.5M309.1,337.1L307.7,341.7M381.2,288.7L385.1,289.1M275.0,263.7L271.7,262.4M349.4,242.7L351.2,239.9M297.3,224.9L295.6,221.1M383.1,314.1L385.6,315.3M350.6,240.1L353.2,235.7M285.1,292.9L282.4,293.5M353.3,225.7L354.3,223.6M262.0,277.7L258.1,277.3M328.4,343.1L328.6,346.9M261.2,304.9L257.5,306.1M268.9,273.9L263.9,273.0M258.4,291.8L254.9,292.3M318.5,238.4L318.3,236.9M270.8,325.5L269.2,326.7M388.3,296.6L389.9,296.9M325.7,328.0L325.9,332.0M292.8,235.3L291.8,233.8M385.2,274.9L388.9,274.4M281.9,274.4L276.9,273.3M290.8,311.4L287.2,314.4M359.8,234.1L360.9,232.5M353.2,249.3L355.3,246.8M293.3,246.9L290.0,242.9M292.9,240.1L289.9,235.9M317.6,238.0L316.8,233.3M377.9,250.1L380.3,248.6M293.3,232.8L292.5,231.5M378.1,254.6L381.8,252.6M347.2,222.1L348.2,219.2M276.7,252.3L274.7,251.0M343.6,335.8L344.6,338.6M294.1,306.7L292.9,307.6M356.9,298.8L359.3,299.9M357.9,301.2L359.8,302.1M384.6,314.3L387.1,315.5M341.2,343.6L341.9,346.1M326.7,216.8L326.7,214.3M364.8,312.2L367.2,313.9M381.8,281.6L385.3,281.4M358.6,315.0L361.2,317.4M345.5,321.3L347.3,324.4M377.3,286.7L379.5,286.8M312.3,229.2L311.4,225.1M344.7,334.3L345.5,336.3M302.9,269.9L300.3,268.2M268.4,247.3L265.9,245.6M302.1,266.7L299.0,264.3M283.2,318.2L280.7,320.2M265.0,281.1L260.6,280.9M354.4,331.8L355.6,333.6M343.7,266.7L346.3,264.3M378.9,243.3L380.6,242.0M259.6,306.7L256.4,307.8M367.4,306.8L372.1,309.3M255.4,284.1L252.1,284.1M285.3,250.4L282.9,248.4M309.5,307.5L307.6,310.4M261.0,288.9L256.4,289.2M277.9,257.1L274.5,255.1M373.0,332.5L375.0,334.4M376.4,273.4L378.2,273.0M369.4,281.8L374.1,281.6M298.0,344.0L296.9,346.7M345.8,290.5L349.2,291.5M383.9,279.5L389.1,279.1M321.0,349.1L320.9,350.6M385.5,253.8L389.4,251.9M306.5,225.0L305.7,222.5M291.5,336.3L289.5,339.5M352.2,261.3L354.9,259.1M382.9,292.9L385.7,293.3M382.4,279.9L386.3,279.6M390.7,272.6L392.6,272.2M278.1,329.5L275.6,331.9M329.6,348.0L329.7,349.8M296.8,231.8L295.4,229.3M363.1,337.7L365.8,341.6M376.9,270.1L379.6,269.4M318.5,339.4L318.0,343.9M344.0,238.7L345.5,235.3M281.6,336.6L280.1,338.4M280.3,331.1L277.8,333.7M304.6,228.2L303.0,223.5M274.2,322.9L271.4,325.1M264.6,259.7L261.9,258.6M356.7,235.7L358.5,233.1M283.7,253.3L282.0,251.9M268.7,252.2L265.5,250.4M277.9,296.0L275.7,296.6M280.3,257.2L276.0,254.5M267.1,313.1L263.5,314.9M327.4,241.8L327.6,238.6M303.9,321.3L302.6,323.7M339.5,333.4L341.1,338.4M285.3,309.3L280.8,312.2M371.5,308.9L374.5,310.5M295.1,225.1L293.9,222.6" stroke="#aee0ec" stroke-width="0.6" opacity="0.6" fill="none"/>
<path d="M358.4,342.2L360.3,345.5M388.0,292.8L391.8,293.4M309.1,246.7L308.1,244.3M336.7,300.2L338.9,303.0M272.9,323.9L269.4,326.6M369.7,299.3L373.2,300.5M379.4,295.3L381.5,295.7M340.8,219.0L341.7,215.2M343.3,333.5L344.4,336.3M333.8,245.9L334.5,242.7M282.6,330.1L280.5,332.4M341.6,332.4L342.4,334.6M271.0,314.5L267.7,316.4M376.8,329.0L380.3,332.0M267.4,309.3L262.7,311.4M287.1,255.4L285.8,254.4M347.7,223.2L349.2,219.3M366.6,246.5L369.8,243.7M376.8,265.9L378.3,265.4M372.1,315.9L375.7,318.2M392.0,269.3L394.1,268.9M349.0,347.7L350.3,351.3M384.4,270.8L388.6,269.8M319.2,232.1L319.1,230.6M360.1,283.3L365.2,283.2M266.0,320.3L263.0,322.1M276.9,286.5L273.6,286.7M326.4,248.4L326.7,243.0M382.7,285.4L385.8,285.4M383.1,263.7L388.0,262.0M296.9,341.4L295.7,343.9M337.0,228.7L338.1,223.9M361.6,227.2L364.5,222.8M368.5,324.1L369.9,325.4M271.2,245.7L266.8,242.5M337.7,344.3L338.3,347.2M381.1,257.6L384.1,256.2M332.7,344.1L333.4,349.5M301.7,341.9L299.8,346.6M357.5,334.4L358.4,335.7M296.1,323.4L293.5,327.1M283.3,292.2L281.3,292.7M271.9,246.9L269.3,245.0M298.0,344.1L296.7,347.2M380.8,306.6L385.5,308.5M337.6,351.5L337.9,353.2M316.0,217.5L315.5,213.0M341.6,243.1L342.5,241.0M355.3,223.0L356.1,221.6M293.0,333.9L290.9,337.1M297.6,266.0L296.0,264.9M324.4,216.5L324.4,213.9M262.2,297.2L257.5,298.2M288.2,281.1L286.2,281.0M391.6,288.3L395.9,288.6M276.0,261.7L271.4,259.6M279.5,320.9L276.6,323.2M339.0,341.7L339.6,344.2M291.5,256.3L287.7,253.1M280.6,309.1L279.0,310.0M313.2,313.9L312.2,316.4M275.9,253.1L271.8,250.5M356.2,225.9L357.9,222.7M325.3,238.5L325.4,234.7M390.0,282.1L394.7,281.9M270.5,326.4L268.3,328.1M319.3,349.5L319.1,352.5M298.9,259.0L297.7,257.8M270.8,270.0L265.5,268.7M372.3,261.9L375.8,260.3M293.9,235.9L291.7,232.4M383.8,312.5L386.0,313.5M281.8,321.0L278.5,323.8M298.1,329.6L296.3,332.6M332.7,346.5L333.3,351.4M373.6,244.9L374.8,244.0M261.9,269.2L256.6,267.9M267.7,301.3L264.9,302.1M304.8,334.0L303.2,338.0M299.3,331.7L298.6,333.1M387.1,289.3L389.2,289.5M351.1,335.6L351.9,337.1M289.3,319.2L286.1,322.4M354.4,237.3L355.6,235.4M390.4,285.0L395.8,285.1M330.0,218.0L330.2,215.6M285.4,305.9L281.7,308.0M381.3,318.4L384.1,320.0M306.6,219.8L305.7,216.4M354.8,332.5L357.3,336.6M354.7,222.7L356.6,218.8M260.0,264.5L257.8,263.8M384.6,276.3L389.6,275.6M345.5,280.4L349.1,279.8M370.7,239.6L372.9,237.5M289.1,228.9L288.0,227.2M346.1,240.2L346.8,238.8M374.5,295.5L379.1,296.5M278.4,285.7L274.9,285.9M339.3,343.3L340.1,346.6M359.2,315.2L362.5,318.1M316.2,239.4L315.8,236.9M387.1,262.6L389.7,261.7M367.7,336.6L370.8,340.3M256.6,296.1L254.5,296.4M305.4,335.5L304.3,338.5M369.2,232.8L370.9,230.8M285.2,245.5L281.7,242.2M274.2,304.1L272.2,304.9M358.6,343.2L361.2,347.6M368.1,272.5L370.5,271.9M292.1,242.9L289.9,240.1M385.8,306.3L390.6,308.1M293.0,282.7L290.4,282.6M369.7,279.7L374.4,279.2M378.1,298.7L380.4,299.3M310.9,216.1L309.9,211.3M357.8,303.5L362.5,306.2M284.7,311.9L281.9,313.9M376.4,324.1L380.1,327.0M275.9,239.6L272.5,236.6M337.1,245.1L337.8,242.8M350.0,321.6L352.2,324.9M314.5,221.5L314.0,217.8M291.3,328.1L289.6,330.4M378.4,261.1L383.1,259.1M323.4,351.8L323.4,353.7M373.2,311.4L377.7,313.9M332.8,250.6L333.6,247.3M264.9,318.2L263.0,319.3M257.6,266.6L252.5,265.3M298.1,244.2L296.9,242.4M359.2,243.8L361.8,240.7M327.4,236.5L327.5,234.0M301.8,241.4L300.5,239.0M349.3,341.3L350.0,342.8M373.4,314.7L375.8,316.3M360.9,227.6L363.3,223.9M377.0,309.0L378.4,309.7M361.3,330.2L364.4,334.1M278.9,268.0L276.0,267.0M285.6,316.9L283.8,318.5M324.6,327.6L324.6,330.9M284.2,329.1L282.6,330.8M292.0,325.7L289.0,329.5M314.6,343.1L313.9,347.0M362.6,326.4L365.4,329.5M387.3,279.3L389.1,279.2M285.0,309.9L282.2,311.8M380.2,275.9L383.9,275.3M285.3,234.4L282.9,231.4M271.8,279.7L269.5,279.6M354.3,221.6L355.9,218.4M258.7,281.4L255.1,281.3M267.9,257.1L263.1,254.8M273.8,320.6L271.9,322.0M291.3,239.0L288.3,235.0M349.4,335.9L350.3,337.7M342.4,342.9L342.9,344.6M300.9,264.7L298.3,262.5M302.0,298.8L299.7,300.3M392.7,284.2L396.2,284.2M357.4,305.8L359.7,307.3M285.9,284.6L284.3,284.7M313.7,223.1L313.2,220.6M341.1,334.6L342.3,338.2M375.9,292.1L379.4,292.7M285.7,279.7L281.4,279.2M258.2,286.2L253.3,286.4M270.5,306.4L267.7,307.6M341.3,242.2L343.4,237.1M355.3,315.6L358.1,318.5M308.2,223.3L307.5,220.7M370.0,305.2L372.0,306.1M293.7,248.1L290.9,244.8M276.8,287.0L274.9,287.1M287.0,326.2L283.6,330.1M303.1,276.0L299.9,274.8M331.1,344.5L331.4,346.5M332.8,228.9L333.1,226.5M313.7,245.8L312.8,242.6M282.8,313.0L280.2,314.9M264.4,274.5L262.6,274.2M282.6,240.0L280.6,237.9M281.1,324.2L279.4,325.8M364.3,247.9L368.0,244.5M370.0,312.6L371.9,313.8M255.3,281.7L250.0,281.5M367.4,329.6L369.7,331.9M340.3,261.1L342.0,258.6M374.3,272.0L378.8,270.9M280.7,238.3L277.1,234.6M373.7,236.6L375.1,235.2M375.5,256.6L378.3,255.1M378.1,252.1L382.4,249.6M296.5,259.3L292.6,255.9M271.8,262.4L268.1,260.9M331.6,339.6L332.2,344.8M331.5,330.3L331.9,332.8M362.7,248.1L366.7,244.3M357.4,258.9L358.9,257.7M275.1,258.6L272.0,257.0M293.0,301.5L290.4,303.0M353.9,233.0L355.4,230.4M391.8,291.8L395.4,292.2M365.5,229.5L366.9,227.7M354.2,255.9L357.7,252.6M316.5,341.3L315.8,346.6M310.9,327.8L309.8,331.5M323.4,245.0L323.4,242.7M369.6,251.4L372.0,249.7M291.3,263.3L287.1,260.8M320.5,348.4L320.3,352.3M343.2,219.9L344.6,215.3M381.5,298.9L384.0,299.5M361.4,283.5L365.1,283.5M367.7,231.3L369.6,228.9M300.2,336.3L298.3,340.5M363.9,301.2L366.4,302.4M312.8,342.9L312.3,345.3M353.9,317.9L357.4,321.8M288.3,295.1L285.7,295.9M379.5,283.6L381.6,283.6M299.0,232.9L296.8,228.4M359.2,343.0L361.1,346.1M264.3,252.0L262.4,251.0M332.8,341.0L333.3,344.5M363.4,232.6L365.2,230.2M360.7,227.8L362.5,224.9M359.5,227.8L361.4,224.7M382.4,264.8L385.9,263.6M369.1,295.2L370.6,295.5M378.4,305.3L381.3,306.5M343.4,218.0L344.8,213.3M271.9,318.2L268.7,320.2M298.7,222.2L297.8,220.0M375.7,324.5L379.8,327.7M297.3,345.9L295.5,349.8M361.7,323.5L364.8,326.8M386.0,290.8L388.2,291.0M283.7,312.1L280.3,314.4M374.7,250.6L377.5,248.7M323.6,221.6L323.5,217.7M261.2,296.4L259.6,296.7M382.2,296.8L386.8,297.9M305.9,241.5L305.2,239.8M277.7,305.6L275.5,306.6M281.6,306.2L277.3,308.4M368.6,269.7L372.5,268.5M292.0,231.6L291.1,230.0M300.8,331.2L299.8,333.2M315.5,236.3L314.7,232.1M273.5,243.7L269.3,240.4M297.1,223.2L294.9,218.4M284.2,307.7L280.8,309.8M382.4,279.4L383.9,279.3M298.3,330.3L295.7,334.8M307.2,335.3L306.5,337.3M358.4,243.2L360.6,240.7M282.7,281.2L280.9,281.1M297.4,338.3L295.7,341.7M377.8,247.4L380.1,245.8M384.8,271.1L388.7,270.3M272.1,302.9L269.3,303.9M276.9,250.2L275.0,248.8M363.7,263.6L366.8,262.0M374.7,236.0L378.1,232.7M353.1,264.9L357.0,262.3M315.6,267.2L314.2,264.5M322.4,350.1L322.4,352.3M359.4,227.7L360.2,226.3M371.6,300.4L375.2,301.7M328.5,339.4L328.6,341.6M372.6,246.4L375.6,244.0M374.9,265.5L379.5,263.8M266.9,302.3L263.4,303.4M278.6,288.5L275.4,288.8M274.4,292.6L270.2,293.4M350.1,313.9L351.7,315.8M326.3,338.8L326.4,342.0M272.6,301.2L268.7,302.5M274.4,260.7L271.4,259.3M379.7,317.7L384.0,320.3M267.0,284.9L265.1,285.0M281.1,317.6L278.5,319.6M353.0,254.8L355.2,252.5M282.2,293.7L279.6,294.3M282.6,324.5L280.5,326.6M273.5,307.0L270.3,308.5M294.3,327.0L293.4,328.3M288.6,309.7L287.2,310.6M286.1,233.1L283.1,229.1M354.1,337.1L356.3,341.0M285.2,287.7L279.7,288.2M261.2,285.7L256.0,285.8M387.8,308.1L391.5,309.5M387.9,281.1L392.3,280.9M322.9,248.9L322.7,245.5M277.1,245.8L272.8,242.4M349.0,249.1L351.0,246.2M367.0,326.6L368.3,327.9M389.2,274.6L394.4,273.8M311.2,344.6L310.3,348.7M298.9,330.9L297.9,332.7M376.4,301.0L378.0,301.5M385.1,303.7L387.9,304.6M261.9,307.4L256.9,309.3M255.2,279.8L252.2,279.7M308.8,307.3L306.4,310.9M344.0,319.4L345.9,322.7M325.4,224.0L325.5,218.6M316.4,235.3L315.8,231.9M268.3,287.8L266.7,287.9M376.1,240.6L380.1,237.2M328.8,351.3L329.0,353.8M366.7,309.8L369.4,311.5M385.4,314.7L387.4,315.7M297.4,227.1L295.8,223.7M269.8,277.7L265.0,277.1M288.4,320.2L285.1,323.6M345.6,340.4L347.1,344.3M360.6,328.2L362.5,330.4M284.7,247.4L281.3,244.2M260.9,280.2L259.4,280.1M275.8,238.7L273.3,236.4M341.9,332.7L343.5,337.3M356.5,234.6L359.1,230.6M299.9,225.2L299.1,223.4M335.7,223.7L336.1,222.0M355.7,222.5L356.9,220.2M309.7,221.1L309.1,218.4M383.9,255.1L388.0,253.2M270.2,309.7L265.9,311.7M271.0,309.0L268.1,310.4M364.5,327.3L367.7,330.8M352.8,246.7L355.9,242.6M357.4,310.8L361.5,314.2M378.4,280.1L381.0,279.9M281.1,322.5L278.3,325.0M284.9,263.3L283.5,262.6M325.1,223.2L325.1,221.6M262.3,304.2L259.5,305.1M274.2,264.3L272.6,263.6M345.2,337.9L346.9,342.3M371.8,330.5L372.9,331.5M388.2,264.3L391.6,263.2M270.5,321.0L269.0,322.1M282.6,307.5L281.0,308.4M375.3,269.0L378.9,267.9M325.2,347.4L325.2,351.5M294.8,346.2L293.0,350.0M378.4,308.0L382.3,309.7M378.9,265.7L382.3,264.6M296.2,333.7L295.0,335.9M289.3,227.6L286.9,223.8M271.2,310.9L267.6,312.7M312.3,271.3L310.1,269.0M323.6,341.3L323.5,346.8M389.9,276.8L395.3,276.2M260.9,274.0L255.6,273.2M382.1,302.1L385.6,303.2M348.6,254.9L351.7,251.2M291.9,224.9L290.0,221.6M272.3,242.2L270.4,240.6M384.9,312.9L387.8,314.3M305.2,223.0L304.0,219.2M383.8,253.3L386.8,251.7M367.0,254.9L371.4,251.9M386.1,268.4L387.9,267.9M302.2,235.8L300.8,232.8M387.9,270.7L392.5,269.7M393.1,282.2L395.6,282.1M366.7,234.8L369.8,231.2M299.4,341.0L297.3,345.7M343.1,241.2L345.1,236.5M328.4,348.5L328.7,352.8M373.4,243.3L375.8,241.3M379.0,316.5L383.1,319.0M358.7,244.3L360.6,242.1M284.5,276.6L279.8,275.7M374.6,255.1L378.1,253.1M379.4,313.5L382.0,314.9M357.6,235.4L360.3,231.5M342.2,327.3L343.4,330.2M273.3,317.8L271.2,319.2M358.3,241.5L359.3,240.2M284.2,232.0L282.4,229.6M341.3,292.0L344.0,293.2M288.7,327.1L286.7,329.5M292.1,331.8L290.6,334.0M355.8,243.3L358.9,239.2M384.4,311.2L388.3,313.0M294.7,273.4L289.6,271.5M359.1,227.8L361.9,223.3M341.7,342.0L342.4,344.4M302.3,341.1L301.1,344.3M313.4,219.9L312.7,215.5M265.3,296.3L260.7,297.3M378.2,273.0L381.0,272.5M265.5,314.5L261.3,316.7M336.4,216.9L337.2,212.2M347.2,218.9L348.7,214.6M312.2,245.1L311.7,243.3M360.2,225.3L361.3,223.5M279.7,307.4L276.7,309.0M360.4,340.9L361.8,343.2M360.7,340.7L362.9,344.2M271.5,267.5L269.2,266.8M362.0,248.7L363.4,247.4M377.3,255.3L379.0,254.4M290.8,312.4L289.4,313.6M290.8,321.6L288.2,324.5M353.9,230.0L355.0,228.0M321.7,337.7L321.5,343.0M330.6,237.2L331.2,232.1M315.0,237.2L314.0,232.1M299.7,324.0L297.3,328.0M386.8,296.0L390.7,296.8M349.6,346.5L350.2,347.9M263.2,289.1L260.2,289.3M366.0,328.8L368.6,331.6M280.2,249.7L277.5,247.6M289.4,322.8L286.7,325.8M274.0,285.2L271.2,285.3M364.9,241.0L367.5,238.2M261.9,303.7L258.6,304.7M348.9,338.3L350.5,341.8M381.6,250.6L383.5,249.5M358.0,331.5L360.9,335.6M351.7,309.6L354.3,312.0M289.7,250.9L286.9,248.3M275.0,265.2L270.9,263.6M264.9,248.3L263.6,247.4M347.5,316.3L349.4,318.9M304.5,327.3L302.2,332.2M382.3,299.5L384.5,300.1M391.0,279.7L395.1,279.5M339.3,224.3L339.9,222.1M339.1,225.6L340.3,220.9M377.7,246.5L380.6,244.5M351.4,294.6L354.0,295.6M272.9,310.9L270.5,312.2M387.0,274.5L392.1,273.7M325.6,340.3L325.6,343.3M273.6,307.3L271.5,308.3M263.7,310.1L259.9,311.8M298.0,245.8L296.2,243.2M356.3,239.4L358.9,235.9M358.2,231.1L361.0,226.7M392.4,284.9L396.4,284.9M304.6,324.8L303.4,327.2M293.7,237.6L291.0,233.6M300.6,340.4L298.8,344.5M266.6,290.0L261.7,290.6M273.6,292.4L269.6,293.1M280.8,308.3L277.6,310.1M379.5,313.4L382.2,314.9M271.2,260.0L269.0,259.0M332.5,245.3L333.4,241.2M317.9,301.0L316.3,305.2M364.9,230.1L367.1,227.2M351.9,336.8L353.9,340.7M340.8,226.4L342.1,221.8M288.9,303.0L286.4,304.3M336.8,234.8L337.5,232.0M327.6,353.2L327.8,357.7M336.0,229.7L336.5,226.9M368.6,269.3L370.6,268.6M370.8,313.5L374.5,315.8M304.0,252.5L302.0,249.4M326.0,346.6L326.1,350.1M317.3,318.7L316.5,322.7M289.4,310.4L285.4,313.4M262.6,269.3L258.0,268.2M350.2,312.9L353.0,316.0M264.6,277.9L261.5,277.6M272.0,241.0L268.0,237.7M268.0,289.2L264.4,289.5M279.1,265.0L274.3,262.9M355.1,225.3L356.1,223.4M298.0,220.7L296.9,218.2M294.1,224.6L291.9,220.3M291.6,329.5L289.8,332.0M268.8,314.1L267.2,315.0M300.7,326.8L298.8,330.3M273.4,248.3L270.4,246.2M372.8,256.0L375.8,254.2M330.2,229.3L330.4,227.8M310.0,231.7L309.5,229.9M312.0,334.4L311.6,336.0M324.9,347.4L324.9,350.6M323.9,246.0L323.9,242.1M275.8,322.9L272.1,325.9M297.4,336.7L295.3,340.7M325.9,324.4L326.0,328.8M314.2,305.8L313.3,307.7M353.0,223.8L355.2,219.2M304.1,241.7L302.4,238.1M291.0,235.6L289.0,232.7M389.9,307.0L392.1,307.8M346.2,338.5L347.5,341.7M299.5,254.9L296.3,251.2M362.7,228.4L364.1,226.4M350.5,223.2L351.2,221.6M359.4,243.7L362.9,239.6M265.6,314.0L261.6,316.0M330.9,223.1L331.1,220.9M270.7,282.5L269.1,282.5M361.3,239.8L362.8,238.0M312.8,298.6L311.5,300.3M296.1,268.9L292.9,267.2M344.5,222.5L345.8,218.4M373.5,285.1L376.8,285.1M330.8,340.8L331.4,345.9M295.2,261.0L292.4,258.8M267.1,285.9L265.5,286.0M371.2,328.4L372.4,329.6M380.5,246.4L382.5,245.0M378.2,243.2L379.6,242.1M351.8,237.0L354.4,232.7M378.5,287.6L381.5,287.8M288.8,263.9L285.2,261.9M259.0,283.3L257.0,283.2M349.7,328.7L352.2,333.1M367.2,269.7L369.4,268.9M335.0,334.6L336.1,339.8M279.2,334.3L278.2,335.5M389.3,285.6L394.2,285.7M364.3,253.0L366.7,251.1M383.9,313.1L388.5,315.3M262.8,308.2L259.6,309.5M373.8,266.0L375.5,265.3M286.0,329.9L283.7,332.7M275.9,251.5L272.6,249.3M272.8,262.1L269.9,260.9M294.5,328.1L292.6,330.9M369.0,257.6L372.4,255.5M383.9,284.0L388.2,284.0M353.2,266.2L355.8,264.6M283.5,262.0L281.4,260.9M275.1,256.9L272.1,255.3M336.7,314.0L337.8,316.8M290.6,315.1L289.1,316.5M371.0,234.8L374.7,230.9M374.3,273.0L378.5,272.1M290.6,310.7L286.5,313.9M385.1,289.8L388.7,290.1M338.4,320.5L339.2,322.7M352.8,325.7L354.6,328.3M269.3,257.2L265.3,255.3M292.4,302.9L289.1,304.8M379.7,251.0L383.1,249.0M280.6,234.0L277.7,230.7M302.7,236.3L302.0,234.7M300.3,271.9L297.7,270.6M284.1,227.7L282.7,225.8M341.0,252.0L343.2,247.7M304.1,233.1L302.3,228.6M377.8,254.2L379.8,253.1M278.7,270.3L274.4,269.0M381.8,264.2L384.5,263.3M260.2,304.2L255.1,305.8M288.9,241.5L286.3,238.4M378.1,320.8L381.6,323.2M277.0,236.5L275.2,234.7M273.0,272.3L268.2,271.2M355.7,334.9L356.5,336.3M374.9,286.9L377.9,287.1M381.9,312.3L386.0,314.3M381.5,311.4L383.2,312.3M327.7,246.1L328.1,241.4M275.5,297.5L272.0,298.4M257.3,279.3L252.6,278.9M351.4,340.0L353.2,343.8M381.7,257.9L384.8,256.5M280.1,289.3L277.3,289.7M258.9,295.5L255.8,296.1M295.9,319.3L293.3,322.6M300.6,313.5L299.3,315.0M355.7,312.4L359.1,315.5M372.6,281.1L374.6,281.0M342.4,306.6L343.4,307.9M386.4,300.8L390.2,301.9M302.8,319.6L301.7,321.4M348.7,326.1L350.2,328.7M309.7,332.6L308.5,336.6M295.7,288.9L293.0,289.4M379.7,301.5L381.8,302.1M352.6,224.2L354.6,220.0M288.5,311.4L286.0,313.3M305.4,347.2L304.7,349.5M291.3,341.1L289.2,344.7M372.7,241.0L375.1,238.8M381.8,287.7L383.5,287.8M302.4,339.1L301.6,341.3M351.5,228.4L352.3,226.9M391.6,274.6L396.8,273.9M334.8,326.5L335.6,329.8M298.5,333.6L297.2,336.0M361.4,279.8L363.0,279.6M351.8,247.0L353.4,244.8M268.3,292.1L264.1,292.7M264.4,281.8L259.0,281.6M279.2,234.2L277.7,232.5M372.5,257.2L376.3,255.1M279.0,250.8L274.8,247.7M269.9,276.8L265.0,276.1M315.5,217.9L315.1,214.8M265.1,271.0L262.8,270.5M272.9,326.6L271.6,327.6M378.5,324.7L382.7,327.8M279.5,248.8L276.9,246.8M359.8,328.7L361.5,330.9M281.4,237.8L279.1,235.3M273.4,277.1L271.5,276.9M366.2,250.3L369.3,247.8M346.1,329.4L348.1,333.7M302.6,225.3L301.4,222.2M361.8,237.1L364.9,233.1M312.9,223.2L312.3,219.9M273.5,300.4L271.5,301.0M390.5,293.6L395.0,294.2M342.7,319.1L344.5,322.7M279.5,320.1L277.7,321.6M268.4,287.3L262.9,287.6M376.1,288.8L381.4,289.3M301.9,318.7L300.9,320.2M361.3,306.1L364.9,308.3M356.9,341.5L358.4,344.2M317.3,233.1L317.0,231.6M273.7,299.5L269.0,300.9M299.8,220.1L298.4,216.6M381.7,282.9L383.3,282.9M316.2,216.9L315.6,211.8M270.3,256.9L266.4,255.0M385.8,256.8L389.5,255.2M372.4,240.3L376.2,236.8M276.3,294.4L272.0,295.3M291.7,228.2L289.0,223.7M356.4,246.4L359.1,243.1M274.7,251.2L271.8,249.3M313.0,340.4L312.2,344.3M303.3,236.7L301.5,232.7M264.7,303.8L262.8,304.4M283.8,316.0L281.2,318.0M352.1,232.2L354.5,227.8M373.5,320.0L376.1,321.9M298.7,252.8L296.8,250.5M313.4,241.8L312.6,238.7M306.0,238.5L304.5,234.8M382.9,282.3L385.1,282.2M285.3,293.5L282.5,294.2M341.3,314.5L343.0,317.6M271.8,293.0L269.4,293.5M348.6,272.5L351.3,271.2M387.8,306.8L389.8,307.5M329.5,222.6L329.7,220.9M276.5,259.8L272.4,257.8M344.6,239.3L345.3,237.6M384.4,305.5L385.9,306.0M265.9,300.9L262.1,302.0M374.8,251.2L378.6,248.7M354.6,225.8L356.5,222.2M272.0,276.5L267.5,275.8M365.1,254.0L367.7,252.2M355.5,234.0L357.2,231.2M305.7,346.1L305.2,347.8M386.4,279.2L390.5,278.9M302.2,344.7L300.8,348.4M358.0,329.8L359.1,331.4M267.1,279.9L264.1,279.7M301.9,238.2L300.5,235.4M381.8,276.2L385.3,275.7M260.6,302.0L258.4,302.6M382.3,304.1L387.2,305.7M347.2,225.7L348.3,223.0M293.0,324.0L290.2,327.5M341.9,252.4L342.6,251.0M323.9,330.9L323.8,333.8M278.2,237.6L275.7,235.2M291.4,313.3L289.2,315.3M357.4,322.8L359.4,325.2M367.4,260.7L371.0,258.7M347.5,329.2L348.5,331.2M305.2,248.2L303.0,244.0M281.9,263.8L280.0,262.9M346.7,242.2L348.0,239.7M375.8,319.5L378.0,321.0M365.7,306.9L368.6,308.5M376.0,320.5L380.1,323.4M277.9,303.8L273.6,305.6M282.1,336.5L280.5,338.4M288.9,227.5L286.3,223.4M382.5,278.4L384.5,278.2M310.8,232.2L309.9,228.9M340.1,334.9L340.8,337.2M352.0,245.1L354.0,242.3M328.9,221.2L329.2,215.9M276.8,322.7L274.3,324.7M292.8,340.8L290.5,345.0M331.9,320.4L332.5,323.3M307.0,218.9L306.2,215.9M382.7,247.5L386.4,245.2M263.0,307.0L261.5,307.5M352.4,300.8L354.5,302.1M361.4,240.1L363.3,237.8M352.0,222.0L354.0,217.3M359.8,291.5L364.2,292.4M347.2,320.0L348.1,321.4M376.5,316.3L378.6,317.6M288.9,339.3L287.8,341.0M306.0,243.4L304.7,240.6M285.3,338.4L282.3,342.5M287.5,341.5L286.7,342.8M339.9,342.8L340.3,344.6M377.9,263.7L380.1,262.9M265.1,316.1L260.6,318.5M279.2,277.0L275.2,276.3M315.6,217.2L315.3,215.0M327.3,253.9L327.7,250.0M277.1,318.1L275.6,319.2M293.5,337.3L291.9,340.1M360.8,247.4L363.4,244.7M375.3,316.0L377.7,317.5M268.5,263.6L266.9,263.1M368.5,264.8L372.9,262.9M386.5,254.9L390.2,253.2M317.3,309.8L315.8,315.0M294.1,231.5L293.1,229.8M378.0,261.7L380.2,260.7M336.4,246.4L337.3,243.3M268.7,267.3L265.5,266.4M287.1,333.3L283.9,337.6M309.3,346.7L308.9,348.3M348.7,240.0L351.0,235.8M330.5,245.6L330.7,243.8M336.5,244.8L336.9,243.3M297.4,223.3L295.8,219.7M293.4,261.4L289.5,258.6M362.2,321.9L364.2,323.9M273.3,249.2L271.3,247.8M329.6,216.0L329.9,212.2M291.7,226.8L289.4,222.8M289.7,321.7L287.7,323.9M352.3,334.2L353.7,336.7M288.3,319.1L287.1,320.3M368.2,256.9L370.1,255.7M273.1,282.9L269.3,282.8M356.3,330.0L357.9,332.4M318.0,226.9L317.5,222.9M383.5,266.1L385.9,265.4M277.8,264.5L276.2,263.8M372.0,328.2L374.1,330.1M258.6,266.7L253.7,265.4M371.3,323.0L373.7,325.1M263.2,286.9L259.9,287.1M369.2,298.7L372.3,299.7M275.0,287.7L271.0,288.0M356.5,222.7L357.5,220.7M385.4,271.1L388.0,270.6M281.0,244.6L277.5,241.5M342.2,312.9L344.6,316.7M390.5,288.8L395.8,289.2M262.1,289.6L259.4,289.9M302.3,236.4L300.4,232.2M349.0,230.6L350.0,228.4M358.2,293.8L361.0,294.6M297.6,310.1L293.8,313.8M337.6,308.5L338.4,310.0M291.2,336.4L288.3,340.9M267.6,321.9L263.5,324.6M373.1,328.9L377.1,332.6M319.2,219.5L318.9,215.9M277.6,235.9L274.1,232.4M290.8,332.5L289.5,334.3M363.6,331.4L366.3,334.7M312.4,322.6L310.9,327.3M300.6,249.6L298.3,246.3M369.1,279.3L373.5,278.8M362.3,293.0L367.1,294.2M280.1,302.9L277.1,304.1M271.6,329.0L269.3,330.9M385.3,311.5L389.3,313.4M356.7,307.3L360.4,310.0M384.4,277.5L387.8,277.1M352.3,249.2L355.4,245.4M333.0,235.0L333.3,233.5M390.7,283.3L395.1,283.2M278.5,280.1L274.0,279.8M376.4,241.4L377.7,240.4M368.1,302.3L370.6,303.4M264.8,258.7L260.8,257.0M288.1,234.1L285.2,230.0M302.5,225.4L301.1,221.4M309.3,318.2L308.6,319.7M285.6,235.5L282.2,231.3M325.9,229.8L325.9,226.8M269.7,321.6L266.5,323.9M272.5,263.7L269.9,262.7M356.5,323.5L357.5,324.7M344.1,332.8L346.0,337.4M282.4,310.7L281.0,311.5M384.5,314.6L387.3,316.0M352.1,225.6L352.8,224.1M375.3,265.5L377.3,264.8M282.5,231.2L280.1,228.2M285.8,244.4L284.3,242.9M349.6,318.0L350.7,319.4M339.7,332.7L341.3,337.8M385.3,286.7L387.9,286.9M277.1,280.8L274.1,280.6M381.9,289.8L384.8,290.1M294.2,264.1L291.0,262.0M310.6,352.1L309.8,355.6M335.6,219.8L336.1,216.9M326.4,241.5L326.5,239.6M309.9,224.3L308.8,219.9M279.0,282.2L274.8,282.1M302.8,222.7L302.1,220.8M393.3,280.6L396.5,280.5M347.7,337.6L349.4,341.4M274.2,245.8L271.0,243.4M259.0,288.2L253.8,288.6M315.8,331.1L315.5,332.7M321.6,352.7L321.5,354.9M383.0,291.9L387.9,292.6M283.7,334.1L281.6,336.7M305.5,341.5L304.6,344.3M333.9,339.6L334.8,344.9M302.8,330.8L301.7,333.0M376.8,238.5L378.1,237.4M384.2,258.4L385.8,257.7M300.7,219.9L299.0,215.4M365.7,338.3L368.4,341.9M314.5,267.8L311.7,263.3M271.2,302.4L266.6,304.0M382.0,318.8L384.5,320.3M376.4,323.4L379.8,326.0M338.8,224.8L340.0,219.8M296.5,344.3L295.0,347.4M264.0,279.8L260.4,279.6M278.4,249.3L276.5,247.9M292.0,232.7L291.1,231.3M358.3,302.0L359.7,302.8M306.0,244.9L304.6,242.1M358.8,340.8L360.3,343.2M389.0,278.9L393.8,278.5M336.0,241.7L336.9,238.1M335.9,257.6L336.8,255.7M258.4,276.1L256.4,275.8M278.7,242.0L276.8,240.3M350.5,256.8L354.0,253.2M300.8,325.9L299.0,329.1M295.8,261.5L293.3,259.6M343.8,349.2L345.3,354.4M352.3,245.6L354.1,243.2M305.6,326.1L303.8,329.9M347.2,219.0L347.9,217.1M379.0,259.5L380.4,258.9M380.7,254.2L382.3,253.4M284.6,271.5L281.7,270.6M359.9,254.7L362.3,252.8M296.5,265.5L294.7,264.3M281.1,326.6L279.8,327.9M270.5,299.1L268.7,299.6M270.6,314.3L266.1,316.9M285.7,244.7L282.2,241.2M260.4,308.6L258.8,309.2M266.3,279.6L262.9,279.3M302.9,320.9L301.1,323.9M377.1,276.6L382.2,275.8M287.1,283.7L282.2,283.7M375.9,251.1L378.3,249.5M377.2,301.4L379.3,302.1M303.2,347.4L302.3,350.2M272.3,282.4L267.3,282.3M271.0,283.5L266.5,283.5M299.8,344.3L297.7,349.3M271.5,271.3L268.7,270.6M361.3,333.1L363.5,336.0M301.7,306.0L297.9,309.7M355.1,245.8L356.6,244.0M355.0,246.9L356.5,245.2M379.4,258.6L382.6,257.0M349.5,236.9L351.7,232.7M263.0,303.8L260.1,304.8M256.5,293.3L251.2,294.1M337.9,229.0L338.4,227.0M372.1,244.8L373.5,243.6M384.4,291.6L386.9,291.9M295.8,317.7L294.3,319.6M297.1,303.0L294.3,304.9M276.4,306.1L272.8,307.8M273.4,273.5L271.0,273.0M284.0,321.3L281.4,323.6M370.7,253.8L372.6,252.5M266.5,301.2L262.6,302.3M278.6,328.3L276.1,330.7M265.8,287.5L262.6,287.7M275.3,327.1L271.7,330.2M310.1,221.7L309.0,217.2M268.8,275.7L264.6,275.0M335.6,315.1L337.1,319.4M274.2,240.6L270.1,237.2M351.4,222.4L353.5,217.6M384.0,251.2L386.8,249.6M278.4,308.3L274.3,310.5M263.1,298.8L259.0,299.8M277.1,248.0L275.7,247.0M376.1,254.6L378.3,253.3M296.3,232.3L294.0,228.2M380.6,321.2L383.6,323.2M374.8,318.5L378.6,321.1M335.1,317.5L336.4,321.6M272.5,269.4L269.2,268.4M315.9,327.0L315.4,329.3M333.0,351.3L333.4,354.4M382.6,257.1L387.6,254.8M362.7,340.2L365.3,344.0M366.9,296.9L368.5,297.4M375.8,309.3L377.7,310.2M278.1,233.0L275.2,229.9M266.0,309.8L263.2,311.1M367.3,315.1L370.9,317.7M388.5,258.3L390.7,257.4M274.9,320.8L271.4,323.4M263.3,251.3L259.7,249.4M380.3,255.4L382.6,254.2M291.5,324.5L288.3,328.4M376.3,252.9L380.1,250.6M386.9,268.4L391.9,267.1M266.5,254.2L262.3,252.1M375.7,317.7L377.4,318.9M316.4,222.3L316.2,220.5M352.8,345.2L354.0,347.9M280.3,250.8L278.6,249.5M357.1,312.2L361.0,315.6M390.9,278.4L394.5,278.1M377.1,306.0L380.0,307.2M274.2,277.6L271.0,277.2M367.0,313.9L368.6,315.1M271.4,269.9L267.3,268.8M282.9,274.6L278.8,273.7M282.2,235.4L280.5,233.5M359.8,230.2L360.7,228.8M272.5,288.2L270.8,288.3M293.8,336.5L291.3,340.9M299.6,316.2L296.2,320.5M301.7,336.0L300.2,339.4M258.4,293.2L254.6,293.7M372.8,327.4L376.4,330.7M391.9,279.3L396.9,279.0M306.0,248.4L305.3,247.0M338.6,344.8L339.2,347.7M346.0,343.8L347.3,347.6M305.1,242.0L304.0,239.8M389.6,298.1L391.1,298.4M373.2,234.9L374.4,233.7M283.4,234.3L280.1,230.3M269.2,312.1L266.3,313.5M390.8,292.3L396.2,293.0M289.0,306.7L285.9,308.7M299.4,269.9L296.3,268.2M272.5,257.6L268.0,255.2M348.2,294.7L349.8,295.4M294.3,328.6L293.4,329.9M388.0,287.4L392.1,287.6M275.9,297.0L270.7,298.4M368.4,246.7L370.6,244.8M287.0,259.9L282.5,257.0M292.7,339.5L290.9,342.6M313.1,344.9L312.7,347.1M289.0,324.2L286.5,327.0M356.0,234.2L358.3,230.5M378.4,255.5L380.9,254.2M330.2,240.4L330.5,237.4M363.3,340.9L365.3,343.8M310.8,221.5L310.4,219.6M385.7,316.4L388.0,317.6M273.2,244.2L269.5,241.3M339.2,247.6L340.2,245.2M358.5,338.1L359.9,340.2M351.8,344.5L353.5,348.2M345.5,315.3L346.8,317.3M289.4,271.2L287.6,270.6M392.1,270.8L397.0,269.9M305.2,235.3L303.8,231.9M286.6,334.5L284.4,337.4M378.0,313.0L381.2,314.7M285.2,260.2L283.7,259.3M273.7,297.4L269.4,298.5M359.2,326.3L361.6,329.3M365.2,296.1L367.1,296.7M359.8,276.9L364.6,275.9M349.3,339.9L350.3,342.1M354.5,324.5L357.3,328.3M323.7,324.1L323.7,327.4M279.7,242.5L276.9,240.0M357.2,229.4L358.8,226.6M329.1,345.5L329.5,350.9M328.2,335.5L328.6,340.8M392.4,281.5L395.4,281.4M283.0,324.5L280.3,327.1M278.0,247.4L275.4,245.3M285.5,288.0L282.5,288.3M371.2,313.9L375.4,316.6M276.6,303.0L272.2,304.8M305.1,324.4L303.3,328.1M340.3,222.4L341.6,217.7M287.0,301.5L283.0,303.3M303.8,316.7L302.9,318.2M297.2,230.6L296.2,228.6M265.8,293.5L263.3,294.0M315.3,239.7L314.5,235.8M377.8,291.2L380.0,291.5M318.2,217.0L317.8,213.1M286.0,267.5L282.6,266.0M345.9,226.6L347.3,222.8M368.3,316.3L371.7,318.9M373.8,243.2L375.9,241.5M388.2,280.2L391.5,280.0M350.9,233.3L353.2,228.8M287.8,332.4L285.9,334.9M266.9,258.3L263.4,256.7M381.9,287.5L386.0,287.8M304.0,233.1L302.0,228.1M306.4,337.6L305.1,341.5M261.3,281.2L257.8,281.1M329.4,346.4L329.6,349.3M370.1,320.9L372.0,322.4M269.3,313.9L265.4,316.0M384.6,254.7L386.4,253.8M360.5,319.5L363.1,322.1M378.7,304.8L382.7,306.3M298.9,296.1L296.2,297.4M274.3,295.2L271.8,295.7M280.9,259.8L277.6,257.9M372.7,314.9L374.5,316.0M296.9,319.5L293.9,323.5M356.2,338.0L357.2,339.6M358.0,237.1L360.5,233.6M277.3,243.7L273.5,240.4M358.8,333.6L360.9,336.6M262.5,253.7L258.8,251.9M337.7,229.1L338.8,224.2M271.7,297.6L269.0,298.3M301.2,221.7L299.9,218.0M269.5,325.3L265.5,328.3M375.6,285.6L378.3,285.7M389.1,267.2L391.1,266.6M277.4,316.1L272.9,319.1M344.1,338.8L345.3,342.3M327.2,233.3L327.3,231.3M369.9,326.6L372.3,328.8M296.7,230.9L295.8,229.3M368.9,254.2L371.1,252.7M294.9,224.6L292.6,219.9M287.5,234.3L286.0,232.2M386.9,254.7L390.2,253.2M362.9,246.5L366.3,243.1M385.6,281.7L390.3,281.6M379.7,279.4L382.9,279.1M259.7,269.4L254.5,268.3M367.1,325.9L370.4,329.1M285.0,260.7L281.4,258.6M312.9,242.5L311.7,238.4M339.2,218.9L340.1,214.7M342.8,344.1L344.3,348.8M283.9,237.3L282.8,236.1M283.7,305.4L281.0,306.8M364.7,340.5L366.1,342.4M277.9,260.0L273.7,257.9M270.4,325.9L266.3,329.1M292.1,229.5L290.0,226.1M263.2,262.3L259.7,261.1M321.0,348.6L320.8,351.1M318.8,234.5L318.5,231.2M275.8,314.3L271.2,317.2M270.6,260.6L266.9,259.0M369.4,313.3L373.5,316.0M269.8,257.0L266.0,255.1M369.2,276.0L374.5,275.0M339.4,219.1L340.6,213.9M265.6,285.5L264.0,285.6M314.1,230.7L313.3,226.5M369.6,313.4L373.9,316.2M353.5,223.8L355.6,219.3M378.1,264.0L383.3,262.1M387.9,305.8L391.6,307.0M352.1,238.2L354.4,234.4M271.8,312.6L269.4,313.9M377.3,289.5L379.3,289.7M321.6,236.5L321.3,232.8M388.5,270.5L392.7,269.6M347.2,341.4L348.8,345.7M295.8,311.3L293.5,313.6M287.1,263.3L285.3,262.3M260.5,280.6L255.4,280.3M289.4,233.3L287.1,230.0M352.8,222.3L355.0,217.5M295.0,237.1L292.7,233.4M392.3,277.7L396.6,277.3M379.5,285.8L381.9,285.8M366.9,317.8L369.5,319.8M348.6,227.4L350.0,224.1M348.4,349.3L349.2,351.4M356.6,323.4L357.8,324.9M289.3,232.7L287.1,229.5M260.6,292.2L257.2,292.7M386.8,272.0L391.3,271.1M307.5,253.2L305.4,249.4M391.7,280.6L395.2,280.4M259.2,292.6L253.8,293.3M355.0,307.8L358.8,310.8M345.9,344.8L347.1,348.3M291.6,243.0L288.9,239.7M371.1,251.6L375.2,248.8M349.3,327.7L350.9,330.6M287.8,231.9L286.2,229.6M307.9,252.2L306.2,249.0M375.1,328.6L377.3,330.5M378.7,270.4L383.2,269.3M258.4,267.6L254.7,266.7M262.5,260.2L260.1,259.3M362.2,260.9L364.5,259.5M265.0,298.7L260.8,299.8M327.1,338.7L327.2,341.1M376.9,262.6L379.5,261.5M372.2,288.5L376.2,288.9M364.3,250.2L366.0,248.8M385.8,316.0L388.7,317.5M326.0,251.8L326.2,247.1M272.2,245.2L270.6,244.0M365.4,289.1L368.4,289.4M393.1,280.8L394.8,280.8M275.7,269.4L274.2,268.9M374.4,262.6L375.8,262.0M275.6,241.4L274.4,240.3M341.7,266.7L345.6,262.8M272.2,244.8L268.8,242.3M360.6,266.8L362.3,266.0M303.4,236.2L301.7,232.3M374.2,331.6L376.3,333.6M305.3,320.6L303.1,324.6M302.5,239.2L301.2,236.5M261.9,264.3L258.8,263.3M324.6,339.3L324.6,341.3M284.3,238.5L282.2,236.1M295.7,334.6L293.3,338.8M374.7,252.7L378.0,250.6M292.0,243.7L289.5,240.6M369.3,243.0L370.8,241.6M301.1,233.7L299.6,230.5M300.7,242.4L298.4,238.2M294.4,234.0L293.5,232.5M352.8,346.5L354.9,351.1M391.7,276.4L395.8,275.9M358.0,329.7L361.2,333.9M382.5,254.0L385.4,252.5M328.9,225.6L329.2,221.8M360.7,235.6L362.2,233.6M266.1,253.3L264.0,252.2M364.2,327.8L365.7,329.4M303.4,255.9L301.8,253.8M291.8,259.8L290.5,258.9M326.5,216.4L326.6,214.3M269.5,315.4L265.0,318.0M273.0,282.7L269.4,282.6M313.5,217.6L312.9,213.6M266.8,263.6L264.6,262.8M266.1,291.2L261.2,291.8M377.5,305.4L379.6,306.2M375.9,320.3L378.2,321.9M304.7,233.2L303.2,229.3M373.9,260.3L377.8,258.5M379.1,245.6L381.5,243.9M272.9,264.9L270.9,264.2M344.1,344.8L345.7,349.8M289.0,258.4L285.8,256.0M286.6,337.3L283.9,341.1M325.1,215.1L325.1,213.3M386.0,278.5L390.0,278.1M367.3,308.6L370.6,310.6M286.1,226.7L283.4,222.7M373.5,235.8L376.7,232.7M291.0,237.5L289.6,235.5M386.5,259.6L389.2,258.6M280.5,238.2L279.4,237.0M294.9,240.4L293.8,238.8M354.2,330.2L355.3,331.8M295.6,247.7L293.9,245.6M358.4,235.1L359.9,232.9M291.5,322.9L288.0,327.0M351.8,325.9L354.0,329.4M374.2,279.2L377.1,279.0M310.9,233.1L310.2,230.7M276.0,284.4L270.7,284.4M308.6,323.4L307.1,327.2M275.5,291.6L271.6,292.2M322.8,237.8L322.7,234.6M343.8,328.5L345.7,332.9M392.4,274.9L396.1,274.4M263.3,270.5L261.2,270.0M379.6,248.5L383.4,246.1M358.2,258.5L359.5,257.4M333.2,229.1L333.5,227.0M379.3,257.9L383.1,256.1M292.7,308.9L291.2,310.1M293.6,303.8L289.3,306.5M356.5,315.4L357.6,316.5M273.6,263.1L270.3,261.7M300.6,307.4L297.7,310.2M382.6,287.6L385.0,287.8M284.9,293.4L283.1,293.8M382.3,288.5L385.3,288.7M369.1,331.1L372.7,334.9M371.4,297.8L374.2,298.7M351.1,272.4L354.0,271.1M277.9,330.1L276.4,331.6M366.9,319.3L369.4,321.3M286.7,234.2L285.0,232.0M315.1,351.4L314.6,355.1M270.4,317.7L266.3,320.2M302.1,301.1L298.2,304.2M314.3,325.6L313.1,330.2M308.4,347.3L307.0,352.5M376.0,288.3L380.4,288.7M264.6,315.9L261.8,317.3M290.4,330.6L288.9,332.7M281.2,255.8L279.6,254.8M379.0,265.4L382.6,264.1M304.3,235.0L303.6,233.4M354.5,330.7L356.3,333.5M265.5,261.3L260.6,259.5M366.2,303.4L368.2,304.4M267.6,319.4L264.1,321.6M358.3,313.8L362.0,317.0M367.2,314.8L370.7,317.4M390.2,303.8L394.2,305.0M326.2,336.6L326.2,338.7M307.8,328.7L306.0,333.4M350.3,338.1L351.5,340.6M350.8,313.4L353.1,316.0M354.7,241.8L357.3,238.1M298.8,252.2L295.7,248.4M382.4,274.7L387.2,274.0M264.5,308.6L260.7,310.1M381.8,281.1L383.9,281.0M281.3,264.3L277.0,262.4M348.7,246.5L349.7,244.9M260.0,278.1L255.4,277.7M364.1,339.1L365.4,340.9M362.0,230.0L363.8,227.4M383.7,252.5L387.3,250.5M289.2,327.4L285.9,331.5M369.1,280.1L371.1,279.9M265.5,271.0L263.4,270.6M373.2,313.7L377.3,316.2M301.2,342.7L299.4,347.1M372.2,243.3L376.3,239.8M290.0,265.1L288.5,264.2M363.4,265.7L366.2,264.3M383.7,274.8L385.5,274.5M300.1,324.4L298.3,327.4M375.6,237.2L378.1,234.9M349.8,251.5L351.1,249.8M272.8,293.5L270.8,293.9M263.1,306.1L261.3,306.7M371.2,309.7L374.0,311.2M300.0,250.5L298.4,248.4M316.1,242.2L315.4,238.7M305.1,339.8L304.2,342.4M296.0,336.5L293.8,340.6M354.6,310.7L358.4,314.1M259.6,268.2L257.3,267.7M303.4,321.4L301.8,324.2M290.9,269.4L288.6,268.4M274.0,311.4L270.3,313.5M255.9,288.1L251.1,288.4M322.2,334.2L322.0,338.6M291.5,248.6L289.0,245.9M290.0,283.7L286.8,283.6M384.1,281.0L387.7,280.8M288.7,341.8L287.3,344.0M305.4,333.3L304.5,335.6M366.6,327.7L370.4,331.6M276.1,326.6L273.6,328.8M382.5,309.3L386.9,311.2M387.2,261.2L389.2,260.5M262.6,269.4L258.8,268.5M389.0,264.3L393.9,262.8M379.9,242.3L384.1,239.2M293.4,252.9L290.3,249.8M339.2,326.3L340.6,330.5M284.6,315.0L281.7,317.3M305.5,339.4L304.2,343.0M297.7,244.9L294.7,240.6M351.8,331.9L354.3,336.3M342.8,247.8L344.7,244.2" stroke="#a2dcd8" stroke-width="0.5" opacity="0.5" fill="none"/>
<polygon points="293.6,302.2 302.7,294 307,295.3 312,296.9 329.4,303 312,311.4 304.8,315.6 297.9,309.6" fill="#9ccfe6" opacity="0.95"/>
</g>
<circle cx="324.5" cy="284.0" r="17.40" fill="none" stroke="#8aa0ae" stroke-width="0.5"/>
<circle cx="324.5" cy="284.0" r="34.80" fill="none" stroke="#8aa0ae" stroke-width="0.5"/>
<circle cx="324.5" cy="284.0" r="52.10" fill="none" stroke="#8aa0ae" stroke-width="0.5"/>
<line x1="324.5" y1="284.0" x2="324.50" y2="214.70" stroke="#8ba2b0" stroke-width="0.5"/>
<line x1="324.5" y1="284.0" x2="359.15" y2="223.98" stroke="#8ba2b0" stroke-width="0.5"/>
<line x1="324.5" y1="284.0" x2="384.52" y2="249.35" stroke="#8ba2b0" stroke-width="0.5"/>
<line x1="324.5" y1="284.0" x2="393.80" y2="284.00" stroke="#8ba2b0" stroke-width="0.5"/>
<line x1="324.5" y1="284.0" x2="384.52" y2="318.65" stroke="#8ba2b0" stroke-width="0.5"/>
<line x1="324.5" y1="284.0" x2="359.15" y2="344.02" stroke="#8ba2b0" stroke-width="0.5"/>
<line x1="324.5" y1="284.0" x2="324.50" y2="353.30" stroke="#8ba2b0" stroke-width="0.5"/>
<line x1="324.5" y1="284.0" x2="289.85" y2="344.02" stroke="#8ba2b0" stroke-width="0.5"/>
<line x1="324.5" y1="284.0" x2="264.48" y2="318.65" stroke="#8ba2b0" stroke-width="0.5"/>
<line x1="324.5" y1="284.0" x2="255.20" y2="284.00" stroke="#8ba2b0" stroke-width="0.5"/>
<line x1="324.5" y1="284.0" x2="264.48" y2="249.35" stroke="#8ba2b0" stroke-width="0.5"/>
<line x1="324.5" y1="284.0" x2="289.85" y2="223.98" stroke="#8ba2b0" stroke-width="0.5"/>
<circle cx="324.5" cy="284.0" r="69.3" fill="none" stroke="#7e97a8" stroke-width="0.5"/>
<ellipse cx="311" cy="235.7" rx="3.6" ry="3.0" fill="#a4e2d2" opacity="0.45"/>
<rect x="309.5" y="235.5" width="1" height="1" fill="#8ad4b0" opacity="0.8"/>
<rect x="308.3" y="235.9" width="1" height="1" fill="#8ad4b0" opacity="0.8"/>
<rect x="312.0" y="234.7" width="1" height="1" fill="#8ad4b0" opacity="0.8"/>
<rect x="311.1" y="235.5" width="1" height="1" fill="#8ad4b0" opacity="0.8"/>
<rect x="310.0" y="234.3" width="1" height="1" fill="#8ad4b0" opacity="0.8"/>
<rect x="307.9" y="236.8" width="1" height="1" fill="#8ad4b0" opacity="0.8"/>
<rect x="310.4" y="238.0" width="1" height="1" fill="#8ad4b0" opacity="0.8"/>
<rect x="311.6" y="235.5" width="1" height="1" fill="#8ad4b0" opacity="0.8"/>
<rect x="309.6" y="236.7" width="1" height="1" fill="#8ad4b0" opacity="0.8"/>
<rect x="309.8" y="236.9" width="1" height="1" fill="#8ad4b0" opacity="0.8"/>
<rect x="310.3" y="235.4" width="0.9" height="0.9" fill="#2f6a46"/>
<rect x="309.5" y="236.7" width="0.9" height="0.9" fill="#2f6a46"/>
<rect x="310.5" y="235.0" width="0.9" height="0.9" fill="#2f6a46"/>
<rect x="311.1" y="234.7" width="0.9" height="0.9" fill="#2f6a46"/>
<ellipse cx="339.8" cy="235.7" rx="3.6" ry="3.0" fill="#a4e2d2" opacity="0.45"/>
<rect x="340.3" y="233.9" width="1" height="1" fill="#8ad4b0" opacity="0.8"/>
<rect x="340.0" y="234.1" width="1" height="1" fill="#8ad4b0" opacity="0.8"/>
<rect x="336.9" y="234.5" width="1" height="1" fill="#8ad4b0" opacity="0.8"/>
<rect x="337.4" y="235.8" width="1" height="1" fill="#8ad4b0" opacity="0.8"/>
<rect x="339.3" y="235.8" width="1" height="1" fill="#8ad4b0" opacity="0.8"/>
<rect x="339.4" y="234.8" width="1" height="1" fill="#8ad4b0" opacity="0.8"/>
<rect x="339.3" y="236.4" width="1" height="1" fill="#8ad4b0" opacity="0.8"/>
<rect x="339.1" y="234.4" width="1" height="1" fill="#8ad4b0" opacity="0.8"/>
<rect x="338.0" y="235.0" width="1" height="1" fill="#8ad4b0" opacity="0.8"/>
<rect x="338.3" y="237.3" width="1" height="1" fill="#8ad4b0" opacity="0.8"/>
<rect x="338.5" y="234.6" width="0.9" height="0.9" fill="#2f6a46"/>
<rect x="339.1" y="235.6" width="0.9" height="0.9" fill="#2f6a46"/>
<rect x="339.2" y="234.7" width="0.9" height="0.9" fill="#2f6a46"/>
<rect x="338.8" y="235.0" width="0.9" height="0.9" fill="#2f6a46"/>
<ellipse cx="275" cy="271.2" rx="3.6" ry="3.0" fill="#a4e2d2" opacity="0.45"/>
<rect x="275.8" y="269.6" width="1" height="1" fill="#8ad4b0" opacity="0.8"/>
<rect x="274.4" y="270.0" width="1" height="1" fill="#8ad4b0" opacity="0.8"/>
<rect x="274.9" y="271.1" width="1" height="1" fill="#8ad4b0" opacity="0.8"/>
<rect x="272.6" y="273.3" width="1" height="1" fill="#8ad4b0" opacity="0.8"/>
<rect x="274.7" y="270.1" width="1" height="1" fill="#8ad4b0" opacity="0.8"/>
<rect x="273.3" y="270.4" width="1" height="1" fill="#8ad4b0" opacity="0.8"/>
<rect x="274.5" y="271.4" width="1" height="1" fill="#8ad4b0" opacity="0.8"/>
<rect x="274.5" y="271.2" width="1" height="1" fill="#8ad4b0" opacity="0.8"/>
<rect x="272.4" y="269.9" width="1" height="1" fill="#8ad4b0" opacity="0.8"/>
<rect x="273.2" y="270.9" width="1" height="1" fill="#8ad4b0" opacity="0.8"/>
<rect x="274.9" y="269.9" width="0.9" height="0.9" fill="#2f6a46"/>
<rect x="274.4" y="271.2" width="0.9" height="0.9" fill="#2f6a46"/>
<rect x="275.2" y="270.1" width="0.9" height="0.9" fill="#2f6a46"/>
<rect x="274.9" y="271.0" width="0.9" height="0.9" fill="#2f6a46"/>
<ellipse cx="375.3" cy="273" rx="3.6" ry="3.0" fill="#a4e2d2" opacity="0.45"/>
<rect x="374.2" y="274.7" width="1" height="1" fill="#8ad4b0" opacity="0.8"/>
<rect x="373.3" y="272.2" width="1" height="1" fill="#8ad4b0" opacity="0.8"/>
<rect x="375.4" y="272.8" width="1" height="1" fill="#8ad4b0" opacity="0.8"/>
<rect x="374.6" y="274.0" width="1" height="1" fill="#8ad4b0" opacity="0.8"/>
<rect x="376.7" y="273.5" width="1" height="1" fill="#8ad4b0" opacity="0.8"/>
<rect x="376.1" y="272.4" width="1" height="1" fill="#8ad4b0" opacity="0.8"/>
<rect x="373.3" y="274.9" width="1" height="1" fill="#8ad4b0" opacity="0.8"/>
<rect x="373.6" y="275.0" width="1" height="1" fill="#8ad4b0" opacity="0.8"/>
<rect x="374.6" y="272.8" width="1" height="1" fill="#8ad4b0" opacity="0.8"/>
<rect x="374.6" y="273.6" width="1" height="1" fill="#8ad4b0" opacity="0.8"/>
<rect x="374.5" y="273.7" width="0.9" height="0.9" fill="#2f6a46"/>
<rect x="375.2" y="272.7" width="0.9" height="0.9" fill="#2f6a46"/>
<rect x="374.5" y="272.7" width="0.9" height="0.9" fill="#2f6a46"/>
<rect x="374.8" y="273.7" width="0.9" height="0.9" fill="#2f6a46"/>
<ellipse cx="274.2" cy="298.4" rx="3.6" ry="3.0" fill="#a4e2d2" opacity="0.45"/>
<rect x="274.9" y="296.2" width="1" height="1" fill="#8ad4b0" opacity="0.8"/>
<rect x="275.7" y="295.3" width="1" height="1" fill="#8ad4b0" opacity="0.8"/>
<rect x="275.7" y="295.8" width="1" height="1" fill="#8ad4b0" opacity="0.8"/>
<rect x="273.7" y="298.8" width="1" height="1" fill="#8ad4b0" opacity="0.8"/>
<rect x="273.7" y="296.7" width="1" height="1" fill="#8ad4b0" opacity="0.8"/>
<rect x="275.3" y="295.9" width="1" height="1" fill="#8ad4b0" opacity="0.8"/>
<rect x="271.8" y="299.4" width="1" height="1" fill="#8ad4b0" opacity="0.8"/>
<rect x="272.6" y="298.2" width="1" height="1" fill="#8ad4b0" opacity="0.8"/>
<rect x="274.8" y="297.8" width="1" height="1" fill="#8ad4b0" opacity="0.8"/>
<rect x="274.1" y="298.0" width="1" height="1" fill="#8ad4b0" opacity="0.8"/>
<rect x="273.9" y="298.7" width="0.9" height="0.9" fill="#2f6a46"/>
<rect x="274.4" y="298.1" width="0.9" height="0.9" fill="#2f6a46"/>
<rect x="274.4" y="297.6" width="0.9" height="0.9" fill="#2f6a46"/>
<rect x="273.2" y="297.3" width="0.9" height="0.9" fill="#2f6a46"/>
<ellipse cx="374.8" cy="300.5" rx="3.6" ry="3.0" fill="#a4e2d2" opacity="0.45"/>
<rect x="375.3" y="301.8" width="1" height="1" fill="#8ad4b0" opacity="0.8"/>
<rect x="374.4" y="297.8" width="1" height="1" fill="#8ad4b0" opacity="0.8"/>
<rect x="373.6" y="300.5" width="1" height="1" fill="#8ad4b0" opacity="0.8"/>
<rect x="374.7" y="300.1" width="1" height="1" fill="#8ad4b0" opacity="0.8"/>
<rect x="375.6" y="301.0" width="1" height="1" fill="#8ad4b0" opacity="0.8"/>
<rect x="372.6" y="300.5" width="1" height="1" fill="#8ad4b0" opacity="0.8"/>
<rect x="373.3" y="300.3" width="1" height="1" fill="#8ad4b0" opacity="0.8"/>
<rect x="375.9" y="302.0" width="1" height="1" fill="#8ad4b0" opacity="0.8"/>
<rect x="375.2" y="299.4" width="1" height="1" fill="#8ad4b0" opacity="0.8"/>
<rect x="373.8" y="300.6" width="1" height="1" fill="#8ad4b0" opacity="0.8"/>
<rect x="373.7" y="300.0" width="0.9" height="0.9" fill="#2f6a46"/>
<rect x="374.8" y="300.6" width="0.9" height="0.9" fill="#2f6a46"/>
<rect x="374.1" y="300.3" width="0.9" height="0.9" fill="#2f6a46"/>
<rect x="375.3" y="300.2" width="0.9" height="0.9" fill="#2f6a46"/>
<ellipse cx="309.6" cy="335.2" rx="3.6" ry="3.0" fill="#a4e2d2" opacity="0.45"/>
<rect x="306.9" y="334.9" width="1" height="1" fill="#8ad4b0" opacity="0.8"/>
<rect x="309.4" y="334.2" width="1" height="1" fill="#8ad4b0" opacity="0.8"/>
<rect x="309.2" y="333.1" width="1" height="1" fill="#8ad4b0" opacity="0.8"/>
<rect x="310.7" y="335.2" width="1" height="1" fill="#8ad4b0" opacity="0.8"/>
<rect x="308.4" y="335.0" width="1" height="1" fill="#8ad4b0" opacity="0.8"/>
<rect x="309.3" y="333.7" width="1" height="1" fill="#8ad4b0" opacity="0.8"/>
<rect x="305.6" y="331.6" width="1" height="1" fill="#8ad4b0" opacity="0.8"/>
<rect x="311.7" y="333.5" width="1" height="1" fill="#8ad4b0" opacity="0.8"/>
<rect x="308.7" y="335.3" width="1" height="1" fill="#8ad4b0" opacity="0.8"/>
<rect x="308.6" y="336.0" width="1" height="1" fill="#8ad4b0" opacity="0.8"/>
<rect x="308.5" y="335.1" width="0.9" height="0.9" fill="#2f6a46"/>
<rect x="307.7" y="335.2" width="0.9" height="0.9" fill="#2f6a46"/>
<rect x="309.6" y="335.0" width="0.9" height="0.9" fill="#2f6a46"/>
<rect x="309.4" y="334.9" width="0.9" height="0.9" fill="#2f6a46"/>
<ellipse cx="338.5" cy="336.5" rx="3.6" ry="3.0" fill="#a4e2d2" opacity="0.45"/>
<rect x="339.1" y="337.1" width="1" height="1" fill="#8ad4b0" opacity="0.8"/>
<rect x="336.8" y="337.2" width="1" height="1" fill="#8ad4b0" opacity="0.8"/>
<rect x="336.8" y="336.2" width="1" height="1" fill="#8ad4b0" opacity="0.8"/>
<rect x="337.7" y="336.5" width="1" height="1" fill="#8ad4b0" opacity="0.8"/>
<rect x="337.6" y="336.4" width="1" height="1" fill="#8ad4b0" opacity="0.8"/>
<rect x="337.4" y="334.9" width="1" height="1" fill="#8ad4b0" opacity="0.8"/>
<rect x="339.4" y="336.6" width="1" height="1" fill="#8ad4b0" opacity="0.8"/>
<rect x="338.7" y="337.1" width="1" height="1" fill="#8ad4b0" opacity="0.8"/>
<rect x="336.6" y="337.0" width="1" height="1" fill="#8ad4b0" opacity="0.8"/>
<rect x="336.6" y="336.4" width="1" height="1" fill="#8ad4b0" opacity="0.8"/>
<rect x="337.9" y="336.2" width="0.9" height="0.9" fill="#2f6a46"/>
<rect x="338.5" y="336.1" width="0.9" height="0.9" fill="#2f6a46"/>
<rect x="337.4" y="336.6" width="0.9" height="0.9" fill="#2f6a46"/>
<rect x="338.9" y="336.5" width="0.9" height="0.9" fill="#2f6a46"/>
<line x1="345.8" y1="226.4" x2="347" y2="224.2" stroke="#e07020" stroke-width="0.9"/>
<g transform="translate(282.9,242.3) rotate(22)">
<ellipse cx="0" cy="0" rx="7.300000000000001" ry="5.3" fill="#a4e2d2" opacity="0.35"/>
<ellipse cx="0" cy="0" rx="5.9" ry="3.9" fill="#9adcc8" opacity="0.6"/>
</g>
<ellipse cx="287.3" cy="247.3" rx="4.0" ry="3.4" fill="#a4e2d2" opacity="0.7"/>
<ellipse cx="287.3" cy="247.3" rx="2.4" ry="1.9" fill="#3d7050"/>
<rect x="288.2" y="245.0" width="1.1" height="1.1" fill="#8a3418"/>
<rect x="286.9" y="246.7" width="1.1" height="1.1" fill="#1f4a2c"/>
<rect x="284.2" y="246.9" width="1.1" height="1.1" fill="#b04020"/>
<rect x="286.8" y="245.2" width="1.1" height="1.1" fill="#8a3418"/>
<rect x="285.7" y="246.9" width="1.1" height="1.1" fill="#1f4a2c"/>
<rect x="287.6" y="247.5" width="1.1" height="1.1" fill="#b04020"/>
<rect x="285.3" y="245.7" width="1.1" height="1.1" fill="#8a3418"/>
<ellipse cx="277.2" cy="241.3" rx="1.8" ry="0.9" fill="#8a2a1a"/>
<g transform="translate(282.9,242.3) rotate(22)">
<ellipse cx="0" cy="0" rx="5.300000000000001" ry="3.4" fill="#3e6442" opacity="0.85"/>
<ellipse cx="0" cy="0" rx="4.7" ry="2.9" fill="#4a3a1c"/>
<ellipse cx="0" cy="0" rx="4.2" ry="2.4" fill="#e0441e"/>
<ellipse cx="0" cy="0" rx="3.7" ry="1.9" fill="#f0ea30"/>
</g>
<g transform="translate(368.6,243.4) rotate(15)">
<ellipse cx="0" cy="0" rx="5.9" ry="6.699999999999999" fill="#a4e2d2" opacity="0.35"/>
<ellipse cx="0" cy="0" rx="4.5" ry="5.3" fill="#9adcc8" opacity="0.6"/>
</g>
<ellipse cx="364.2" cy="248.3" rx="4.4" ry="3.1" fill="#a4e2d2" opacity="0.7"/>
<ellipse cx="364.2" cy="248.3" rx="2.8" ry="1.6" fill="#3d7050"/>
<rect x="362.9" y="247.8" width="1.1" height="1.1" fill="#8a3418"/>
<rect x="362.8" y="247.6" width="1.1" height="1.1" fill="#1f4a2c"/>
<rect x="364.8" y="248.4" width="1.1" height="1.1" fill="#b04020"/>
<rect x="363.9" y="246.8" width="1.1" height="1.1" fill="#8a3418"/>
<rect x="362.9" y="248.3" width="1.1" height="1.1" fill="#1f4a2c"/>
<rect x="365.0" y="248.7" width="1.1" height="1.1" fill="#b04020"/>
<rect x="362.1" y="247.4" width="1.1" height="1.1" fill="#8a3418"/>
<g transform="translate(368.6,243.4) rotate(15)">
<ellipse cx="0" cy="0" rx="3.9" ry="4.8" fill="#3e6442" opacity="0.85"/>
<ellipse cx="0" cy="0" rx="3.3" ry="4.3" fill="#4a3a1c"/>
<ellipse cx="0" cy="0" rx="2.8" ry="3.8" fill="#e0441e"/>
<ellipse cx="0" cy="0" rx="2.3" ry="3.3" fill="#f0ea30"/>
</g>
<g transform="translate(281.1,328.5) rotate(25)">
<ellipse cx="0" cy="0" rx="6.300000000000001" ry="6.8" fill="#a4e2d2" opacity="0.35"/>
<ellipse cx="0" cy="0" rx="4.9" ry="5.4" fill="#9adcc8" opacity="0.6"/>
</g>
<ellipse cx="286.9" cy="322.8" rx="3.4000000000000004" ry="3.0" fill="#a4e2d2" opacity="0.7"/>
<ellipse cx="286.9" cy="322.8" rx="1.8" ry="1.5" fill="#3d7050"/>
<rect x="285.2" y="319.9" width="1.1" height="1.1" fill="#8a3418"/>
<rect x="285.3" y="320.8" width="1.1" height="1.1" fill="#1f4a2c"/>
<rect x="287.8" y="322.7" width="1.1" height="1.1" fill="#b04020"/>
<rect x="285.8" y="322.4" width="1.1" height="1.1" fill="#8a3418"/>
<rect x="286.8" y="323.7" width="1.1" height="1.1" fill="#1f4a2c"/>
<rect x="287.2" y="323.6" width="1.1" height="1.1" fill="#b04020"/>
<rect x="286.9" y="323.4" width="1.1" height="1.1" fill="#8a3418"/>
<g transform="translate(281.1,328.5) rotate(25)">
<ellipse cx="0" cy="0" rx="4.300000000000001" ry="4.9" fill="#3e6442" opacity="0.85"/>
<ellipse cx="0" cy="0" rx="3.7" ry="4.4" fill="#4a3a1c"/>
<ellipse cx="0" cy="0" rx="3.2" ry="3.9" fill="#e0441e"/>
<ellipse cx="0" cy="0" rx="2.7" ry="3.4" fill="#f0ea30"/>
</g>
<g transform="translate(367.8,329.5) rotate(10)">
<ellipse cx="0" cy="0" rx="7.9" ry="5.699999999999999" fill="#a4e2d2" opacity="0.35"/>
<ellipse cx="0" cy="0" rx="6.5" ry="4.3" fill="#9adcc8" opacity="0.6"/>
</g>
<ellipse cx="362.1" cy="324.1" rx="3.5" ry="3.2" fill="#a4e2d2" opacity="0.7"/>
<ellipse cx="362.1" cy="324.1" rx="1.9" ry="1.7" fill="#3d7050"/>
<rect x="363.1" y="324.5" width="1.1" height="1.1" fill="#8a3418"/>
<rect x="361.6" y="324.6" width="1.1" height="1.1" fill="#1f4a2c"/>
<rect x="361.2" y="324.9" width="1.1" height="1.1" fill="#b04020"/>
<rect x="361.3" y="323.0" width="1.1" height="1.1" fill="#8a3418"/>
<rect x="363.6" y="323.2" width="1.1" height="1.1" fill="#1f4a2c"/>
<rect x="361.8" y="322.6" width="1.1" height="1.1" fill="#b04020"/>
<rect x="360.9" y="323.3" width="1.1" height="1.1" fill="#8a3418"/>
<g transform="translate(367.8,329.5) rotate(10)">
<ellipse cx="0" cy="0" rx="5.9" ry="3.8" fill="#3e6442" opacity="0.85"/>
<ellipse cx="0" cy="0" rx="5.3" ry="3.3" fill="#4a3a1c"/>
<ellipse cx="0" cy="0" rx="4.8" ry="2.8" fill="#e0441e"/>
<ellipse cx="0" cy="0" rx="4.3" ry="2.3" fill="#f0ea30"/>
</g>
<text x="313.0" y="282.2" font-size="6.3" font-weight="normal" text-anchor="start" fill="#2a2a2a" textLength="25.8" lengthAdjust="spacingAndGlyphs" >HZO(111)</text>
<text x="313.0" y="289.6" font-size="6.3" font-weight="normal" text-anchor="start" fill="#2a2a2a" textLength="25.8" lengthAdjust="spacingAndGlyphs" >STO(001)</text>
<text x="324.4" y="209.5" font-size="8.5" font-weight="normal" text-anchor="middle" fill="#111" >0</text>
<text x="281.4" y="219.2" font-size="8.5" font-weight="normal" text-anchor="middle" fill="#111" >330</text>
<text x="365.8" y="219.2" font-size="8.5" font-weight="normal" text-anchor="middle" fill="#111" >30</text>
<text x="254.7" y="246.3" font-size="8.5" font-weight="normal" text-anchor="middle" fill="#111" >300</text>
<text x="392.6" y="246.3" font-size="8.5" font-weight="normal" text-anchor="middle" fill="#111" >60</text>
<text x="244.6" y="286.5" font-size="8.5" font-weight="normal" text-anchor="middle" fill="#111" >270</text>
<text x="401.4" y="286.5" font-size="8.5" font-weight="normal" text-anchor="middle" fill="#111" >90</text>
<text x="253.8" y="328.5" font-size="8.5" font-weight="normal" text-anchor="middle" fill="#111" >240</text>
<text x="394.6" y="328.5" font-size="8.5" font-weight="normal" text-anchor="middle" fill="#111" >120</text>
<text x="281.0" y="355.0" font-size="8.5" font-weight="normal" text-anchor="middle" fill="#111" >210</text>
<text x="368.3" y="355.0" font-size="8.5" font-weight="normal" text-anchor="middle" fill="#111" >150</text>
<text x="324.7" y="364.6" font-size="8.5" font-weight="normal" text-anchor="middle" fill="#111" >180</text>
<defs><marker id="ah" viewBox="0 0 10 10" refX="9" refY="5" markerWidth="5" markerHeight="5" orient="auto-start-reverse"><path d="M0,1 L10,5 L0,9 z" fill="#111"/></marker></defs>
<line x1="373.5" y1="237" x2="386" y2="227.6" stroke="#111" stroke-width="0.8" marker-end="url(#ah)"/>
<line x1="380.6" y1="271.9" x2="395.5" y2="271.3" stroke="#111" stroke-width="0.8" marker-end="url(#ah)"/>
<text x="385.8" y="227.0" font-size="7.2" font-weight="normal" text-anchor="start" fill="#3b50b4" textLength="30.8" lengthAdjust="spacingAndGlyphs" >STO(112)</text>
<text x="396.3" y="269.9" font-size="7.2" font-weight="normal" text-anchor="start" fill="#e0301e" >HZO/HLO</text>
<text x="396.8" y="278.5" font-size="7.2" font-weight="normal" text-anchor="start" fill="#e0301e" >(113)</text>
<text transform="translate(389.3,345.4) rotate(-40)" font-family="Liberation Serif" font-size="12.5" text-anchor="middle">φ</text>
<text transform="translate(398.2,340.3) rotate(-40)" font-family="Liberation Serif" font-size="9.6" text-anchor="middle">(°)</text>
<path d="M388,350.7 Q396,347.5 402.5,341.6" fill="none" stroke="#111" stroke-width="0.7" marker-start="url(#ah)" marker-end="url(#ah)"/>
<rect x="428.3" y="215.50" width="9.40" height="8.10" fill="#e8e53a"/>
<rect x="428.3" y="223.30" width="9.40" height="8.00" fill="#e03232"/>
<rect x="428.3" y="231.00" width="9.40" height="8.00" fill="#e03232"/>
<rect x="428.3" y="238.70" width="9.40" height="8.00" fill="#e23632"/>
<rect x="428.3" y="246.40" width="9.40" height="8.00" fill="#e23c30"/>
<rect x="428.3" y="254.10" width="9.40" height="8.00" fill="#e04a32"/>
<rect x="428.3" y="261.80" width="9.40" height="8.00" fill="#a83a2e"/>
<rect x="428.3" y="269.50" width="9.40" height="8.00" fill="#5c3a1c"/>
<rect x="428.3" y="277.20" width="9.40" height="8.00" fill="#1c3a22"/>
<rect x="428.3" y="284.90" width="9.40" height="8.00" fill="#2e6a48"/>
<rect x="428.3" y="292.60" width="9.40" height="8.00" fill="#4a9878"/>
<rect x="428.3" y="300.30" width="9.40" height="8.00" fill="#7acaa8"/>
<rect x="428.3" y="308.00" width="9.40" height="8.00" fill="#a6e2e0"/>
<rect x="428.3" y="315.70" width="9.40" height="8.00" fill="#a6e0e8"/>
<rect x="428.3" y="323.40" width="9.40" height="8.00" fill="#a0dae8"/>
<rect x="428.3" y="331.10" width="9.40" height="8.00" fill="#9ad2e6"/>
<rect x="428.3" y="338.80" width="9.40" height="8.00" fill="#98cee6"/>
<rect x="428.3" y="346.50" width="9.40" height="8.80" fill="#76b6dc"/>
<rect x="428.3" y="215.5" width="9.40" height="139.50" fill="none" stroke="#444" stroke-width="0.6"/>
<text x="442.6" y="225.30" font-size="5.7" font-weight="normal" text-anchor="start" fill="#111" >70</text>
<text x="442.6" y="233.00" font-size="5.7" font-weight="normal" text-anchor="start" fill="#111" >67</text>
<text x="442.6" y="240.70" font-size="5.7" font-weight="normal" text-anchor="start" fill="#111" >64</text>
<text x="442.6" y="248.40" font-size="5.7" font-weight="normal" text-anchor="start" fill="#111" >60</text>
<text x="442.6" y="256.10" font-size="5.7" font-weight="normal" text-anchor="start" fill="#111" >57</text>
<text x="442.6" y="263.80" font-size="5.7" font-weight="normal" text-anchor="start" fill="#111" >54</text>
<text x="442.6" y="271.50" font-size="5.7" font-weight="normal" text-anchor="start" fill="#111" >51</text>
<text x="442.6" y="279.20" font-size="5.7" font-weight="normal" text-anchor="start" fill="#111" >47</text>
<text x="442.6" y="286.90" font-size="5.7" font-weight="normal" text-anchor="start" fill="#111" >44</text>
<text x="442.6" y="294.60" font-size="5.7" font-weight="normal" text-anchor="start" fill="#111" >41</text>
<text x="442.6" y="302.30" font-size="5.7" font-weight="normal" text-anchor="start" fill="#111" >38</text>
<text x="442.6" y="310.00" font-size="5.7" font-weight="normal" text-anchor="start" fill="#111" >34</text>
<text x="442.6" y="317.70" font-size="5.7" font-weight="normal" text-anchor="start" fill="#111" >31</text>
<text x="442.6" y="325.40" font-size="5.7" font-weight="normal" text-anchor="start" fill="#111" >28</text>
<text x="442.6" y="333.10" font-size="5.7" font-weight="normal" text-anchor="start" fill="#111" >25</text>
<text x="442.6" y="340.80" font-size="5.7" font-weight="normal" text-anchor="start" fill="#111" >21</text>
<text x="442.6" y="348.50" font-size="5.7" font-weight="normal" text-anchor="start" fill="#111" >18</text>
<text x="417.8" y="211.2" font-size="8.5" font-weight="bold" text-anchor="start" fill="#000" textLength="33.7" lengthAdjust="spacingAndGlyphs" >Intensity</text>
<line x1="525" y1="234.4" x2="525" y2="259.8" stroke="#4f6d96" stroke-width="1.15" stroke-dasharray="4.2,3"/>
<line x1="525" y1="259.8" x2="487.1" y2="298.7" stroke="#4f6d96" stroke-width="1.15" stroke-dasharray="4.2,3"/>
<line x1="525" y1="259.8" x2="563.5" y2="298.7" stroke="#4f6d96" stroke-width="1.15" stroke-dasharray="4.2,3"/>
<polygon points="487.10,273.00 563.50,273.00 525.00,259.80" fill="#e8bc34"/>
<polygon points="487.10,298.70 563.50,298.70 525.00,310.60" fill="#e8bc34"/>
<line x1="525" y1="234.4" x2="487.1" y2="273" stroke="#4f6d96" stroke-width="1.15"/>
<line x1="525" y1="234.4" x2="563.5" y2="273" stroke="#4f6d96" stroke-width="1.15"/>
<line x1="487.1" y1="273" x2="487.1" y2="298.7" stroke="#4f6d96" stroke-width="1.15"/>
<line x1="563.5" y1="273" x2="563.5" y2="298.7" stroke="#4f6d96" stroke-width="1.15"/>
<line x1="487.1" y1="273" x2="525" y2="310.6" stroke="#4f6d96" stroke-width="1.15"/>
<line x1="563.5" y1="273" x2="525" y2="310.6" stroke="#4f6d96" stroke-width="1.15"/>
<line x1="525" y1="310.6" x2="525" y2="336.7" stroke="#4f6d96" stroke-width="1.15"/>
<line x1="487.1" y1="298.7" x2="525" y2="336.7" stroke="#4f6d96" stroke-width="1.15"/>
<line x1="563.5" y1="298.7" x2="525" y2="336.7" stroke="#4f6d96" stroke-width="1.15"/>
<path d="M520,330 L523,327.6 M527.5,327.3 L530,329.8" stroke="#4f6d96" stroke-width="0.9" fill="none"/>
<line x1="614.5" y1="228.9" x2="614.5" y2="263.2" stroke="#4f6d96" stroke-width="1.15" stroke-dasharray="4.2,3"/>
<line x1="614.5" y1="263.2" x2="584.1" y2="299.4" stroke="#4f6d96" stroke-width="1.15" stroke-dasharray="4.2,3"/>
<line x1="614.5" y1="263.2" x2="644.6" y2="299.4" stroke="#4f6d96" stroke-width="1.15" stroke-dasharray="4.2,3"/>
<polygon points="580.50,272.90 648.80,272.90 614.50,263.20" fill="#e8bc34"/>
<polygon points="584.10,299.40 644.60,299.40 614.50,315.00" fill="#e8bc34"/>
<line x1="614.5" y1="228.9" x2="580.5" y2="272.9" stroke="#4f6d96" stroke-width="1.15"/>
<line x1="614.5" y1="228.9" x2="648.8" y2="272.9" stroke="#4f6d96" stroke-width="1.15"/>
<line x1="580.5" y1="272.9" x2="584.1" y2="299.4" stroke="#4f6d96" stroke-width="1.15"/>
<line x1="648.8" y1="272.9" x2="644.6" y2="299.4" stroke="#4f6d96" stroke-width="1.15"/>
<line x1="580.5" y1="272.9" x2="614.5" y2="315" stroke="#4f6d96" stroke-width="1.15"/>
<line x1="648.8" y1="272.9" x2="614.5" y2="315" stroke="#4f6d96" stroke-width="1.15"/>
<line x1="614.5" y1="315" x2="614.5" y2="338.9" stroke="#4f6d96" stroke-width="1.15"/>
<line x1="584.1" y1="299.4" x2="614.5" y2="338.9" stroke="#4f6d96" stroke-width="1.15"/>
<line x1="644.6" y1="299.4" x2="614.5" y2="338.9" stroke="#4f6d96" stroke-width="1.15"/>
<path d="M609.5,333 Q614.5,329 619.5,333" stroke="#4f6d96" stroke-width="0.8" fill="none" stroke-dasharray="1.2,1"/>
<text x="506.5" y="220.5" font-size="9.8" fill="#111" textLength="36.6" lengthAdjust="spacingAndGlyphs"><tspan font-style="italic">o</tspan>-phase</text>
<text x="588.4" y="210.8" font-size="9.8" fill="#111" textLength="56.7" lengthAdjust="spacingAndGlyphs"><tspan font-style="italic">o</tspan>-phase with</text>
<text x="593.3" y="223.0" font-size="9.8" fill="#111" textLength="46.8" lengthAdjust="spacingAndGlyphs"><tspan font-style="italic">r</tspan>-distortion</text>
<text x="519.9" y="352.9" font-size="11.6" font-weight="normal" text-anchor="start" fill="#111" >90</text>
<circle cx="535.8" cy="347.2" r="1.5" fill="none" stroke="#111" stroke-width="0.7"/>
<text x="602.1" y="354.3" font-size="11.4" font-weight="normal" text-anchor="start" fill="#111" textLength="27.6" lengthAdjust="spacingAndGlyphs" >90°-δ</text>
</svg></body></html>
